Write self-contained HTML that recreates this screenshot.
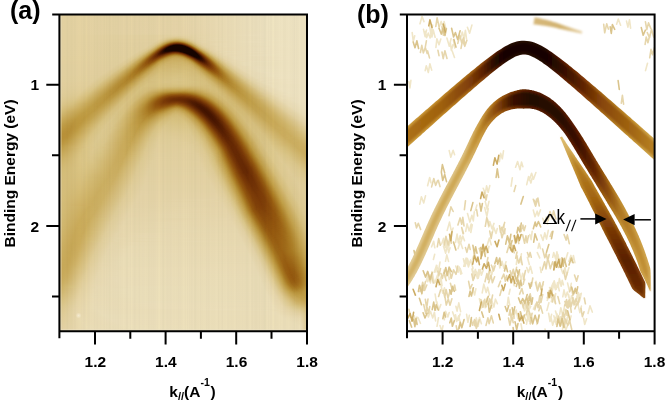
<!DOCTYPE html>
<html><head><meta charset="utf-8"><style>
html,body{margin:0;padding:0;background:#fff;}
#w{position:relative;width:666px;height:401px;overflow:hidden;}
#pa,#pb{position:absolute;left:0;top:0;}
#pa i,#pb i{position:absolute;display:block;height:1px;width:247px;}
#pa i{left:60px;}
#pb i{left:407.4px;}
svg{position:absolute;left:0;top:0;display:block;}
text{font-family:"Liberation Sans",Arial,sans-serif;font-weight:bold;fill:#000;}
</style></head><body><div id="w">
<div id="pa">
<i style="top:15px;background:linear-gradient(90deg,#e5d3a1 0.5px,#e6d5a6 117.5px,#efe4c0 208.5px,#f0e5c2 246.5px)"></i>
<i style="top:16px;background:linear-gradient(90deg,#e5d3a1 0.5px,#e6d5a6 117.5px,#efe4c0 208.5px,#f0e5c2 246.5px)"></i>
<i style="top:17px;background:linear-gradient(90deg,#e5d3a1 0.5px,#e6d5a6 117.5px,#efe4c0 208.5px,#f0e5c2 246.5px)"></i>
<i style="top:18px;background:linear-gradient(90deg,#e5d3a1 0.5px,#e7d5a7 118.5px,#efe4c0 208.5px,#f0e5c2 246.5px)"></i>
<i style="top:19px;background:linear-gradient(90deg,#e5d3a1 0.5px,#e7d5a7 118.5px,#efe4c0 207.5px,#f0e5c2 246.5px)"></i>
<i style="top:20px;background:linear-gradient(90deg,#e5d3a1 0.5px,#e7d5a6 118.5px,#efe4c0 207.5px,#f0e5c2 246.5px)"></i>
<i style="top:21px;background:linear-gradient(90deg,#e5d3a1 0.5px,#e6d5a6 118.5px,#efe4c0 207.5px,#f0e5c2 246.5px)"></i>
<i style="top:22px;background:linear-gradient(90deg,#e5d3a1 0.5px,#e7d5a7 119.5px,#efe4c0 207.5px,#f0e5c2 246.5px)"></i>
<i style="top:23px;background:linear-gradient(90deg,#e5d3a1 0.5px,#e7d5a7 119.5px,#efe4c0 207.5px,#f0e5c2 246.5px)"></i>
<i style="top:24px;background:linear-gradient(90deg,#e5d3a1 0.5px,#e7d5a6 119.5px,#efe4c0 207.5px,#f0e5c2 246.5px)"></i>
<i style="top:25px;background:linear-gradient(90deg,#e5d3a1 0.5px,#e7d5a7 120.5px,#efe4c0 206.5px,#f0e5c2 246.5px)"></i>
<i style="top:26px;background:linear-gradient(90deg,#e5d3a1 0.5px,#e7d5a7 120.5px,#efe4c0 206.5px,#f0e5c2 246.5px)"></i>
<i style="top:27px;background:linear-gradient(90deg,#e5d3a1 0.5px,#e7d5a7 121.5px,#efe4c0 206.5px,#f0e5c2 246.5px)"></i>
<i style="top:28px;background:linear-gradient(90deg,#e5d3a1 0.5px,#e7d5a7 121.5px,#efe4c0 206.5px,#f0e5c2 246.5px)"></i>
<i style="top:29px;background:linear-gradient(90deg,#e5d3a1 0.5px,#e7d5a7 122.5px,#efe4bf 205.5px,#f0e5c2 246.5px)"></i>
<i style="top:30px;background:linear-gradient(90deg,#e5d3a1 0.5px,#e7d5a7 122.5px,#efe4bf 205.5px,#f0e5c2 246.5px)"></i>
<i style="top:31px;background:linear-gradient(90deg,#e5d3a1 0.5px,#e7d5a7 123.5px,#efe3bf 204.5px,#f0e5c2 246.5px)"></i>
<i style="top:32px;background:linear-gradient(90deg,#e5d3a1 0.5px,#e7d5a7 124.5px,#efe3bf 203.5px,#f0e5c2 246.5px)"></i>
<i style="top:33px;background:linear-gradient(90deg,#e5d3a1 0.5px,#e7d5a7 125.5px,#efe3bf 202.5px,#f0e5c2 246.5px)"></i>
<i style="top:34px;background:linear-gradient(90deg,#e5d3a1 0.5px,#e6d5a5 123.5px,#efe3bf 199.5px,#f0e5c2 246.5px)"></i>
<i style="top:35px;background:linear-gradient(90deg,#e5d3a1 0.5px,#e5d3a1 110.5px,#e6d4a4 124.5px,#efe3be 194.5px,#f0e5c2 246.5px)"></i>
<i style="top:36px;background:linear-gradient(90deg,#e5d3a1 0.5px,#e5d3a1 105.5px,#e3d09b 118.5px,#e8d8ab 139.5px,#efe3bf 203.5px,#f0e5c2 246.5px)"></i>
<i style="top:37px;background:linear-gradient(90deg,#e5d3a1 0.5px,#e5d3a1 102.5px,#e0cc91 116.5px,#e4d29f 126.5px,#e8d8ab 140.5px,#efe3bf 203.5px,#f0e5c2 246.5px)"></i>
<i style="top:38px;background:linear-gradient(90deg,#e5d3a1 0.5px,#e5d3a1 100.5px,#e0cc92 108.5px,#dbc583 115.5px,#dcc787 120.5px,#e6d4a4 131.5px,#eadbb1 154.5px,#efe4c0 211.5px,#f0e5c2 246.5px)"></i>
<i style="top:39px;background:linear-gradient(90deg,#e5d3a1 0.5px,#e5d2a0 98.5px,#e1cd95 104.5px,#d4b96f 114.5px,#d3b96e 118.5px,#dbc584 124.5px,#e4d2a0 131.5px,#e8d8ab 140.5px,#efe3bf 201.5px,#f0e5c2 246.5px)"></i>
<i style="top:40px;background:linear-gradient(90deg,#e5d3a1 0.5px,#e5d3a0 96.5px,#e0cc93 102.5px,#d2b76c 109.5px,#caaa57 113.5px,#c7a651 117.5px,#ccae5d 121.5px,#e1cd94 130.5px,#e6d4a4 135.5px,#eadbb0 152.5px,#efe4c0 208.5px,#f0e5c2 246.5px)"></i>
<i style="top:41px;background:linear-gradient(90deg,#e5d3a1 0.5px,#e5d3a1 94.5px,#e1ce97 99.5px,#dbc482 103.5px,#bc963c 112.5px,#b4892f 115.5px,#b48a30 118.5px,#c19d44 122.5px,#dcc787 130.5px,#e3d19d 134.5px,#e7d7a9 140.5px,#efe3be 194.5px,#f0e5c2 246.5px)"></i>
<i style="top:42px;background:linear-gradient(90deg,#e5d3a1 0.5px,#e4d2a0 93.5px,#e0cd93 98.5px,#d7bf79 102.5px,#bc963c 108.5px,#a87720 111.5px,#995f12 114.5px,#95580f 117.5px,#9d6515 120.5px,#af8127 123.5px,#c3a048 126.5px,#dcc786 132.5px,#e4d19e 136.5px,#e8d7aa 142.5px,#efe3be 195.5px,#f0e5c2 246.5px)"></i>
<i style="top:43px;background:linear-gradient(90deg,#e5d3a1 0.5px,#e4d2a0 91.5px,#e1cd95 96.5px,#d8bf7a 100.5px,#bf9b41 105.5px,#ae8026 107.5px,#92550e 110.5px,#7b3a07 113.5px,#6f2f05 116.5px,#733306 119.5px,#87470a 122.5px,#995e11 124.5px,#ad7e24 126.5px,#bf9b41 128.5px,#d9c27e 133.5px,#e1ce96 136.5px,#e6d5a5 140.5px,#eadbb1 155.5px,#efe4c0 209.5px,#f0e5c2 246.5px)"></i>
<i style="top:44px;background:linear-gradient(90deg,#e5d3a1 0.5px,#e4d2a0 90.5px,#e1ce96 94.5px,#dbc684 97.5px,#d0b466 100.5px,#be993f 103.5px,#aa7921 105.5px,#93560e 107.5px,#6f2f05 110.5px,#481601 113.5px,#380e00 115.5px,#330c00 117.5px,#390e00 119.5px,#4c1801 121.5px,#753406 124.5px,#9a6113 127.5px,#b3872d 129.5px,#bd983e 130.5px,#d6bd76 134.5px,#e0cc92 137.5px,#e6d4a4 141.5px,#eadbb0 153.5px,#efe4c0 207.5px,#f0e5c2 246.5px)"></i>
<i style="top:45px;background:linear-gradient(90deg,#e5d3a1 0.5px,#e4d2a0 88.5px,#e0cd94 93.5px,#dac37f 96.5px,#c6a550 100.5px,#c09b41 101.5px,#aa7921 103.5px,#90520d 105.5px,#642603 108.5px,#3d0f00 110.5px,#1f0700 112.5px,#160400 113.5px,#160400 121.5px,#1c0600 122.5px,#3d0f00 124.5px,#672904 126.5px,#975c10 129.5px,#b2872d 131.5px,#be993f 132.5px,#d8bf7a 136.5px,#e1cd95 139.5px,#e6d5a5 143.5px,#eadbb1 156.5px,#efe4c0 209.5px,#f0e5c2 246.5px)"></i>
<i style="top:46px;background:linear-gradient(90deg,#e5d3a1 0.5px,#e4d2a0 86.5px,#e1ce96 91.5px,#dbc584 94.5px,#cfb162 97.5px,#c29f46 99.5px,#ad7e24 101.5px,#91540d 103.5px,#602403 106.5px,#340d00 108.5px,#210700 109.5px,#160400 110.5px,#180500 125.5px,#461501 127.5px,#612403 128.5px,#88480a 130.5px,#985d10 131.5px,#b58b31 133.5px,#c19d44 134.5px,#d9c27f 138.5px,#e2cf98 141.5px,#e7d6a8 146.5px,#ebddb4 164.5px,#f0e4c1 219.5px,#f0e5c2 246.5px)"></i>
<i style="top:47px;background:linear-gradient(90deg,#e5d3a1 0.5px,#e4d29f 85.5px,#e1cd94 90.5px,#dac380 93.5px,#ccad5c 96.5px,#bd973d 98.5px,#a4711c 100.5px,#965a0f 101.5px,#652703 104.5px,#360d00 106.5px,#220800 107.5px,#160400 108.5px,#160400 127.5px,#290900 128.5px,#441301 129.5px,#622503 130.5px,#8b4c0b 132.5px,#9c6314 133.5px,#ac7d23 134.5px,#b99238 135.5px,#c4a24b 136.5px,#d7bf78 139.5px,#e0cd94 142.5px,#e6d4a4 146.5px,#eadbb0 156.5px,#efe4bf 206.5px,#f0e5c2 246.5px)"></i>
<i style="top:48px;background:linear-gradient(90deg,#e5d3a1 0.5px,#e4d29f 83.5px,#e1cd95 88.5px,#dcc685 91.5px,#cfb263 94.5px,#c29f46 96.5px,#ab7c23 98.5px,#8f510d 100.5px,#6d2e05 102.5px,#401100 104.5px,#190500 106.5px,#160400 113.5px,#160400 129.5px,#2c0b00 130.5px,#4a1701 131.5px,#682a04 132.5px,#91540e 134.5px,#a36e1a 135.5px,#c09b41 137.5px,#d4ba71 140.5px,#dfca8e 143.5px,#e5d3a2 147.5px,#eadaaf 155.5px,#efe3bf 202.5px,#f0e5c2 246.5px)"></i>
<i style="top:49px;background:linear-gradient(90deg,#e5d3a1 0.5px,#e4d29f 81.5px,#e0cc92 87.5px,#dac380 90.5px,#cdaf5e 93.5px,#bf9a40 95.5px,#a6731d 97.5px,#975c10 98.5px,#662803 101.5px,#390e00 103.5px,#170400 105.5px,#160400 130.5px,#1b0500 131.5px,#370e00 132.5px,#733306 134.5px,#9a6113 136.5px,#ab7c22 137.5px,#b99137 138.5px,#c4a14a 139.5px,#d6bc74 142.5px,#dfcb90 145.5px,#e6d4a4 149.5px,#eadbb0 157.5px,#efe3bf 203.5px,#f0e5c2 246.5px)"></i>
<i style="top:50px;background:linear-gradient(90deg,#e5d3a1 0.5px,#e4d29f 79.5px,#e0cd94 85.5px,#d8c07b 89.5px,#cbab59 92.5px,#bb943a 94.5px,#a16c19 96.5px,#93560e 97.5px,#622503 100.5px,#380e00 102.5px,#1b0600 104.5px,#160400 105.5px,#160400 132.5px,#290a00 133.5px,#481601 134.5px,#682904 135.5px,#803e08 136.5px,#92550e 137.5px,#b2872d 139.5px,#bf9a40 140.5px,#d3b76c 143.5px,#dec98c 146.5px,#e5d3a2 150.5px,#eadaaf 157.5px,#efe3be 198.5px,#f0e5c2 246.5px)"></i>
<i style="top:51px;background:linear-gradient(90deg,#e5d3a1 0.5px,#e4d29f 77.5px,#e1cd95 83.5px,#d9c27f 87.5px,#ceb060 90.5px,#c29e45 92.5px,#ac7c23 94.5px,#8f520d 96.5px,#5f2303 99.5px,#3b0f00 101.5px,#240800 103.5px,#1b0500 105.5px,#210700 108.5px,#390e00 113.5px,#380e00 116.5px,#230800 119.5px,#180500 120.5px,#160400 133.5px,#1f0700 134.5px,#3c0f00 135.5px,#5d2202 136.5px,#773606 137.5px,#9b6314 139.5px,#ab7b22 140.5px,#c29f47 142.5px,#d9c17d 146.5px,#e1ce96 149.5px,#e7d6a9 154.5px,#ebdeb5 166.5px,#f0e4c1 218.5px,#f0e5c2 246.5px)"></i>
<i style="top:52px;background:linear-gradient(90deg,#e5d3a1 0.5px,#e4d29f 76.5px,#e0cc92 82.5px,#d8c07a 86.5px,#c5a44e 90.5px,#be9a40 91.5px,#a8771f 93.5px,#8d4f0c 95.5px,#703005 97.5px,#401200 100.5px,#300c00 102.5px,#2e0b00 104.5px,#3e1000 107.5px,#672803 112.5px,#6d2e05 115.5px,#632603 118.5px,#401100 121.5px,#210700 123.5px,#160400 124.5px,#160400 134.5px,#190500 135.5px,#340d00 136.5px,#6e2f05 138.5px,#94570e 140.5px,#b2862c 142.5px,#be993f 143.5px,#d2b76b 146.5px,#dec98b 149.5px,#e5d3a2 153.5px,#eadbb0 160.5px,#efe3be 197.5px,#f0e5c2 246.5px)"></i>
<i style="top:53px;background:linear-gradient(90deg,#e5d3a1 0.5px,#e4d29f 74.5px,#e0cd94 80.5px,#d9c27e 84.5px,#c9a955 88.5px,#bb943a 90.5px,#985e11 93.5px,#7f3d08 95.5px,#541d02 98.5px,#421200 100.5px,#3e1000 102.5px,#491601 104.5px,#763506 109.5px,#87470a 112.5px,#8d4f0c 115.5px,#87470a 118.5px,#713105 121.5px,#662803 122.5px,#300b00 125.5px,#1d0600 126.5px,#160400 127.5px,#160400 136.5px,#2e0b00 137.5px,#4a1701 138.5px,#672904 139.5px,#8e4f0c 141.5px,#ac7e24 143.5px,#c3a048 145.5px,#d9c17d 149.5px,#e1ce96 152.5px,#e7d7a9 157.5px,#ecdeb5 168.5px,#f0e4c1 219.5px,#f0e5c2 246.5px)"></i>
<i style="top:54px;background:linear-gradient(90deg,#e5d3a1 0.5px,#e4d29f 72.5px,#e1cd95 78.5px,#dac482 82.5px,#d1b467 85.5px,#c19d43 88.5px,#a26d1a 91.5px,#965a0f 92.5px,#723206 95.5px,#531c02 98.5px,#4e1901 100.5px,#571f02 102.5px,#834109 107.5px,#9b6214 111.5px,#a4711c 114.5px,#a36f1b 117.5px,#975b10 120.5px,#7e3d08 123.5px,#642603 125.5px,#3a0e00 127.5px,#160400 129.5px,#160400 137.5px,#451401 139.5px,#612403 140.5px,#89490b 142.5px,#995e11 143.5px,#b58a30 145.5px,#c09c42 146.5px,#d7bf79 150.5px,#e0cc93 153.5px,#e6d5a6 157.5px,#ebdcb3 165.5px,#efe4c0 207.5px,#f0e5c2 246.5px)"></i>
<i style="top:55px;background:linear-gradient(90deg,#e5d3a1 0.5px,#e4d29f 71.5px,#e0cd93 77.5px,#d9c27e 81.5px,#caab58 85.5px,#be993f 87.5px,#ab7c22 89.5px,#95590f 91.5px,#753406 94.5px,#5f2303 97.5px,#5e2303 99.5px,#713105 102.5px,#995e11 107.5px,#ab7b22 110.5px,#b48a30 113.5px,#b78d33 116.5px,#b1842a 119.5px,#a06b18 122.5px,#85450a 125.5px,#6a2b04 127.5px,#401100 129.5px,#1b0500 131.5px,#160400 133.5px,#180400 138.5px,#421300 140.5px,#733306 142.5px,#95580f 144.5px,#b1852b 146.5px,#bc973d 147.5px,#d1b568 150.5px,#ddc788 153.5px,#e5d3a1 157.5px,#eadbb1 164.5px,#efe3be 195.5px,#f0e5c2 246.5px)"></i>
<i style="top:56px;background:linear-gradient(90deg,#e5d3a0 0.5px,#e4d29f 69.5px,#e1cd95 75.5px,#dbc482 79.5px,#d1b669 82.5px,#c3a049 85.5px,#b3882e 87.5px,#9f6817 89.5px,#94580e 90.5px,#783707 93.5px,#6b2c04 95.5px,#692a04 97.5px,#773606 100.5px,#965a0f 104.5px,#b1852b 108.5px,#bf9b41 112.5px,#c29f47 116.5px,#bf9a40 119.5px,#b3882e 122.5px,#a6741e 124.5px,#94570e 126.5px,#7c3b07 128.5px,#5a2002 130.5px,#310c00 132.5px,#200700 133.5px,#160400 134.5px,#160400 138.5px,#1c0600 139.5px,#431301 141.5px,#703105 143.5px,#92550e 145.5px,#ae8026 147.5px,#c3a048 149.5px,#d8c07b 153.5px,#e1cd94 156.5px,#e7d7a9 161.5px,#ecdeb6 171.5px,#f0e4c1 219.5px,#f0e5c2 246.5px)"></i>
<i style="top:57px;background:linear-gradient(90deg,#e5d3a0 0.5px,#e4d29e 68.5px,#e0cc93 74.5px,#dac37f 78.5px,#ccad5c 82.5px,#c29e45 84.5px,#a8771f 87.5px,#94580e 89.5px,#7c3a07 92.5px,#723205 94.5px,#723206 96.5px,#834209 99.5px,#995f12 102.5px,#b58a30 106.5px,#c19e44 109.5px,#c8a753 114.5px,#c6a54f 119.5px,#c09d43 122.5px,#b1842a 125.5px,#96590f 128.5px,#7e3c08 130.5px,#5c2102 132.5px,#330c00 134.5px,#180500 136.5px,#180500 139.5px,#320c00 141.5px,#5c2102 143.5px,#814008 145.5px,#9e6616 147.5px,#ab7c22 148.5px,#c19d44 150.5px,#d7be78 154.5px,#e2cf98 158.5px,#e8d8ab 163.5px,#ecdfb7 174.5px,#f0e4c1 227.5px,#f0e5c2 246.5px)"></i>
<i style="top:58px;background:linear-gradient(90deg,#e5d3a0 0.5px,#e4d29e 66.5px,#e0cc91 73.5px,#d9c17c 77.5px,#c6a44e 82.5px,#b99036 84.5px,#9e6616 87.5px,#8d4e0c 89.5px,#803e08 91.5px,#783707 93.5px,#7b3a07 95.5px,#8c4d0c 98.5px,#9b6214 100.5px,#b78d33 104.5px,#c3a048 107.5px,#cbab59 112.5px,#ccad5b 118.5px,#c5a34d 123.5px,#bf9a40 125.5px,#aa7a21 128.5px,#965a0f 130.5px,#7d3b07 132.5px,#592002 134.5px,#330c00 136.5px,#270900 137.5px,#200700 138.5px,#1f0600 139.5px,#2b0a00 141.5px,#380e00 142.5px,#5e2303 144.5px,#8f510d 147.5px,#a97921 149.5px,#bf9b41 151.5px,#d6bd75 155.5px,#e1ce96 159.5px,#e8d7aa 164.5px,#ecdfb7 174.5px,#f0e4c1 223.5px,#f0e5c2 246.5px)"></i>
<i style="top:59px;background:linear-gradient(90deg,#e5d3a0 0.5px,#e4d29f 64.5px,#e0cc93 71.5px,#d8bf7a 76.5px,#c5a24c 81.5px,#b78e34 83.5px,#9e6716 86.5px,#965a0f 87.5px,#834209 90.5px,#7f3e08 93.5px,#8d4e0c 96.5px,#9c6314 98.5px,#b78f35 102.5px,#c4a24b 105.5px,#cdae5d 110.5px,#ceb161 118.5px,#caab58 123.5px,#c09b41 127.5px,#aa7a21 130.5px,#94570e 132.5px,#682904 135.5px,#421300 137.5px,#360d00 138.5px,#2e0b00 139.5px,#2d0b00 141.5px,#3f1100 143.5px,#723205 146.5px,#9b6214 149.5px,#b3882e 151.5px,#be983e 152.5px,#d5bb72 156.5px,#e1cd94 160.5px,#e8d7a9 165.5px,#ecdeb6 174.5px,#f0e4c1 219.5px,#f0e5c2 246.5px)"></i>
<i style="top:60px;background:linear-gradient(90deg,#e5d3a0 0.5px,#e4d29e 63.5px,#e0cc91 70.5px,#d7be77 75.5px,#c3a149 80.5px,#af8127 83.5px,#975c10 86.5px,#87470a 89.5px,#85440a 92.5px,#93560e 95.5px,#aa7a21 98.5px,#bd983e 101.5px,#c9a956 105.5px,#cfb264 111.5px,#cfb264 121.5px,#c9a956 126.5px,#c09b41 129.5px,#b1852b 131.5px,#9b6214 133.5px,#723205 136.5px,#441401 139.5px,#3b0f00 140.5px,#380e00 142.5px,#481601 144.5px,#743406 147.5px,#9b6213 150.5px,#b2872d 152.5px,#c4a24a 154.5px,#d8c07a 158.5px,#e2cf99 162.5px,#e9d9ae 168.5px,#ede0b9 181.5px,#f0e5c2 244.5px,#f0e5c2 246.5px)"></i>
<i style="top:61px;background:linear-gradient(90deg,#e5d2a0 0.5px,#e4d29e 61.5px,#e0cc93 68.5px,#d8c07b 73.5px,#c3a047 79.5px,#a7751e 83.5px,#93560e 86.5px,#89490b 89.5px,#8d4f0c 92.5px,#985d11 94.5px,#af8228 97.5px,#c19e45 100.5px,#cbac5a 104.5px,#d1b467 110.5px,#d1b467 122.5px,#ccad5b 127.5px,#c3a049 130.5px,#b68c32 132.5px,#a16b19 134.5px,#95580f 135.5px,#6d2e05 138.5px,#521c02 140.5px,#441401 142.5px,#491601 144.5px,#5e2203 146.5px,#844309 149.5px,#9b6214 151.5px,#bb953b 154.5px,#ceb161 157.5px,#ddc889 161.5px,#e5d3a1 165.5px,#ebdcb2 172.5px,#eee3bd 194.5px,#f0e5c2 246.5px)"></i>
<i style="top:62px;background:linear-gradient(90deg,#e5d2a0 0.5px,#e4d19e 60.5px,#e0cc92 67.5px,#d7bf79 72.5px,#c29f46 78.5px,#a7751f 82.5px,#95590f 85.5px,#8d4e0c 88.5px,#92550e 91.5px,#9d6515 93.5px,#ac7c23 95.5px,#c09c42 98.5px,#c9aa56 101.5px,#d1b568 107.5px,#d2b76c 121.5px,#cfb263 127.5px,#c9a955 130.5px,#c19d44 132.5px,#b0842a 134.5px,#9a6113 136.5px,#763606 139.5px,#571e02 142.5px,#501b02 144.5px,#5b2102 146.5px,#7b3907 149.5px,#9c6314 152.5px,#bb943a 155.5px,#c8a854 157.5px,#d9c37f 161.5px,#e3d09b 165.5px,#e9daaf 171.5px,#ede1ba 184.5px,#f0e5c2 246.5px)"></i>
<i style="top:63px;background:linear-gradient(90deg,#e5d2a0 0.5px,#e4d29e 58.5px,#e0cc93 65.5px,#d9c17d 70.5px,#c5a44e 76.5px,#b58a30 79.5px,#a26c19 82.5px,#94570e 85.5px,#91540d 88.5px,#975b10 90.5px,#af8228 94.5px,#c29e45 97.5px,#cbac5a 100.5px,#d1b569 105.5px,#d3b96e 119.5px,#d1b569 127.5px,#caab58 131.5px,#c3a048 133.5px,#b4892f 135.5px,#9f6918 137.5px,#94580e 138.5px,#743306 141.5px,#5e2203 144.5px,#5f2303 146.5px,#743406 149.5px,#92550e 152.5px,#a7751f 154.5px,#c29f46 157.5px,#d9c17d 162.5px,#e2cf99 166.5px,#e9daae 172.5px,#ede1ba 184.5px,#f0e5c2 246.5px)"></i>
<i style="top:64px;background:linear-gradient(90deg,#e4d2a0 0.5px,#e4d29e 56.5px,#e0cc92 64.5px,#d8c07b 69.5px,#c09d43 76.5px,#a87720 80.5px,#9a6012 83.5px,#94580e 86.5px,#9b6213 89.5px,#ac7d23 92.5px,#c3a049 96.5px,#ceb161 100.5px,#d3b86e 106.5px,#d4b96f 125.5px,#d0b365 130.5px,#c8a854 133.5px,#bf9a40 135.5px,#a4711c 138.5px,#8f520d 140.5px,#733306 143.5px,#682a04 145.5px,#682904 147.5px,#793807 150.5px,#94580e 153.5px,#b1852b 156.5px,#c29e45 158.5px,#d8c07b 163.5px,#e2cf98 167.5px,#e9d9ae 173.5px,#ede1ba 184.5px,#f0e5c2 243.5px,#f0e5c2 246.5px)"></i>
<i style="top:65px;background:linear-gradient(90deg,#e4d2a0 0.5px,#e4d19e 55.5px,#e0cc93 62.5px,#d9c27f 67.5px,#c8a753 73.5px,#ba9339 76.5px,#a97820 79.5px,#9c6314 82.5px,#975c10 85.5px,#9f6817 88.5px,#af8228 91.5px,#c19d43 94.5px,#cdaf5e 98.5px,#d2b76c 102.5px,#d5bb72 114.5px,#d4b96f 128.5px,#cfb263 132.5px,#c6a44e 135.5px,#ba9238 137.5px,#9f6817 140.5px,#95580f 141.5px,#7b3a07 144.5px,#6f2f05 147.5px,#773706 150.5px,#8e4f0c 153.5px,#965a0f 154.5px,#b2862c 157.5px,#c19e45 159.5px,#d8bf7a 164.5px,#e1ce97 168.5px,#e9d9ad 174.5px,#ede1ba 185.5px,#f0e5c2 243.5px,#f0e5c2 246.5px)"></i>
<i style="top:66px;background:linear-gradient(90deg,#e4d2a0 0.5px,#e4d29e 53.5px,#e0cc92 61.5px,#d6be77 67.5px,#bf9b41 74.5px,#aa7a21 78.5px,#9e6616 81.5px,#9a6113 84.5px,#a26d1a 87.5px,#ac7e24 89.5px,#c29f47 93.5px,#d0b365 98.5px,#d4ba71 103.5px,#d5bc74 125.5px,#d3b86d 131.5px,#caab58 135.5px,#bc973d 138.5px,#a36f1b 141.5px,#91540d 143.5px,#7c3b07 146.5px,#763606 149.5px,#834209 152.5px,#985e11 155.5px,#b2862c 158.5px,#c19e45 160.5px,#dac481 166.5px,#e4d29f 171.5px,#ebdcb2 178.5px,#eee2bd 195.5px,#f0e5c2 246.5px)"></i>
<i style="top:67px;background:linear-gradient(90deg,#e4d2a0 0.5px,#e4d19e 52.5px,#dfcb90 60.5px,#d6bc74 66.5px,#bf9a40 73.5px,#ab7b22 77.5px,#a06918 80.5px,#9d6616 83.5px,#a5721d 86.5px,#b48a30 89.5px,#c3a149 92.5px,#d0b467 97.5px,#d5bb73 103.5px,#d6bd75 127.5px,#d2b66b 133.5px,#c8a753 137.5px,#bf9a40 139.5px,#a7761f 142.5px,#965a0f 144.5px,#834209 147.5px,#7d3c08 150.5px,#87470a 153.5px,#9b6213 156.5px,#ab7b22 158.5px,#c19e45 161.5px,#dac37f 167.5px,#e4d19e 172.5px,#ebdcb2 179.5px,#eee2bd 195.5px,#f0e5c2 246.5px)"></i>
<i style="top:68px;background:linear-gradient(90deg,#e4d2a0 0.5px,#e4d19e 50.5px,#e0cc92 58.5px,#d7bf79 64.5px,#be993f 72.5px,#ab7c22 76.5px,#a26c1a 79.5px,#a06a18 82.5px,#a87720 85.5px,#bc963c 89.5px,#cdaf5f 94.5px,#d4ba71 99.5px,#d7be78 112.5px,#d6bd75 130.5px,#d1b568 135.5px,#c5a34d 139.5px,#ba9339 141.5px,#ab7c22 143.5px,#94570e 146.5px,#85440a 149.5px,#844309 152.5px,#90530d 155.5px,#9d6516 157.5px,#ac7d23 159.5px,#c19e45 162.5px,#d9c27e 168.5px,#e3d19d 173.5px,#eadcb2 180.5px,#eee2bd 195.5px,#f0e5c2 246.5px)"></i>
<i style="top:69px;background:linear-gradient(90deg,#e4d2a0 0.5px,#e4d19e 49.5px,#dfcb91 57.5px,#d6be77 63.5px,#be983e 71.5px,#ac7d23 75.5px,#a36f1b 78.5px,#a36e1a 81.5px,#ab7b22 84.5px,#c29f47 89.5px,#d0b365 94.5px,#d5bc74 99.5px,#d8bf7a 114.5px,#d6bd76 131.5px,#d2b66a 136.5px,#c6a550 140.5px,#b68c32 143.5px,#9f6918 146.5px,#92560e 148.5px,#88490b 151.5px,#8b4c0c 154.5px,#995f12 157.5px,#ad7f25 160.5px,#c19e45 163.5px,#dbc584 170.5px,#e4d2a0 175.5px,#ebddb3 182.5px,#efe3be 198.5px,#f0e5c2 246.5px)"></i>
<i style="top:70px;background:linear-gradient(90deg,#e4d2a0 0.5px,#e4d19e 47.5px,#e0cc92 55.5px,#d8c07a 61.5px,#bd983e 70.5px,#ad7e24 74.5px,#a4701c 78.5px,#a7751e 81.5px,#b1862c 84.5px,#c3a149 88.5px,#d2b76b 94.5px,#d7be77 100.5px,#d8c17c 124.5px,#d6bc74 134.5px,#d0b466 138.5px,#c4a14a 142.5px,#b2862c 145.5px,#9d6515 148.5px,#93560e 150.5px,#8d4e0c 153.5px,#93560e 156.5px,#a26d1a 159.5px,#b58b31 162.5px,#c6a44f 165.5px,#dbc583 171.5px,#e4d29f 176.5px,#ebdcb3 183.5px,#eee3bd 198.5px,#f0e5c2 246.5px)"></i>
<i style="top:71px;background:linear-gradient(90deg,#e4d2a0 0.5px,#e4d19d 46.5px,#e0cb91 54.5px,#d7bf78 60.5px,#bd973d 69.5px,#ab7b22 74.5px,#a6731d 77.5px,#a97820 80.5px,#b4892f 83.5px,#c5a34c 87.5px,#d3b86d 93.5px,#d7bf79 100.5px,#d9c17d 125.5px,#d6bd76 135.5px,#d1b568 139.5px,#c19d44 144.5px,#a8761f 148.5px,#975c10 151.5px,#91540d 154.5px,#965a0f 157.5px,#aa7a21 161.5px,#c29e45 165.5px,#dac481 172.5px,#e4d19e 177.5px,#ebdcb2 184.5px,#eee3bd 198.5px,#f0e5c2 246.5px)"></i>
<i style="top:72px;background:linear-gradient(90deg,#e4d2a0 0.5px,#e4d19e 44.5px,#e0cc92 52.5px,#d8c17c 58.5px,#bd973d 68.5px,#ac7c23 73.5px,#a8761f 76.5px,#ab7c22 79.5px,#ba9339 83.5px,#cbac5b 88.5px,#d4ba71 93.5px,#d8c17c 101.5px,#d9c27e 128.5px,#d6bc74 137.5px,#cfb264 141.5px,#bd983e 146.5px,#ab7c22 149.5px,#9b6314 152.5px,#95590f 155.5px,#9a6012 158.5px,#ac7d23 162.5px,#c6a44f 167.5px,#dcc787 174.5px,#e5d3a1 179.5px,#ecdeb5 187.5px,#efe3bf 204.5px,#f0e5c2 246.5px)"></i>
<i style="top:73px;background:linear-gradient(90deg,#e4d2a0 0.5px,#e4d19d 43.5px,#e0cc91 51.5px,#d6bc75 58.5px,#bc963c 67.5px,#ad7e24 72.5px,#aa7921 76.5px,#b08329 79.5px,#c6a550 85.5px,#d4b96f 91.5px,#d8c17c 98.5px,#dac481 122.5px,#d7bf79 136.5px,#d2b66b 141.5px,#c4a14a 146.5px,#a97820 151.5px,#9c6415 154.5px,#995f12 157.5px,#a06a18 160.5px,#ad7f25 163.5px,#c6a44f 168.5px,#dcc686 175.5px,#e6d4a4 181.5px,#ecdeb6 189.5px,#efe3bf 208.5px,#f0e5c2 246.5px)"></i>
<i style="top:74px;background:linear-gradient(90deg,#e4d2a0 0.5px,#e4d19e 41.5px,#dfcb90 50.5px,#d5bb73 57.5px,#bc963c 66.5px,#ad7f25 71.5px,#ab7c22 75.5px,#b58b31 79.5px,#c7a752 84.5px,#d4ba71 90.5px,#d9c17d 97.5px,#dbc482 121.5px,#d8c07a 137.5px,#d2b76c 142.5px,#c19e44 148.5px,#ac7d23 152.5px,#a06a18 155.5px,#9d6515 158.5px,#a36e1b 161.5px,#af8228 164.5px,#c6a44f 169.5px,#dec98b 177.5px,#e6d5a6 183.5px,#ecdfb7 191.5px,#efe4c0 212.5px,#f0e5c2 246.5px)"></i>
<i style="top:75px;background:linear-gradient(90deg,#e4d2a0 0.5px,#e3d19d 40.5px,#dfca8f 49.5px,#d4ba71 56.5px,#bc963c 65.5px,#ae8026 70.5px,#ad7e24 74.5px,#b78d33 78.5px,#c8a854 83.5px,#d5bb72 89.5px,#d9c27e 96.5px,#dbc584 120.5px,#d8c07b 138.5px,#d3b86d 143.5px,#c3a047 149.5px,#ab7b22 154.5px,#a16c19 157.5px,#a16b19 160.5px,#ac7e24 164.5px,#c6a54f 170.5px,#ddc88a 178.5px,#e6d5a5 184.5px,#ecdfb7 192.5px,#efe4c0 212.5px,#f0e5c2 246.5px)"></i>
<i style="top:76px;background:linear-gradient(90deg,#e4d29f 0.5px,#e4d19d 38.5px,#dfcb90 47.5px,#d6bd75 54.5px,#bc953b 64.5px,#af8127 69.5px,#ae8026 73.5px,#b89036 77.5px,#c9a955 82.5px,#d5bb73 88.5px,#dac37f 95.5px,#dcc685 119.5px,#d8c17c 139.5px,#d3b96f 144.5px,#c4a14a 150.5px,#ae7f25 155.5px,#a4711c 158.5px,#a4701b 161.5px,#ae8026 165.5px,#c6a54f 171.5px,#ddc788 179.5px,#e6d4a5 185.5px,#ecdfb7 193.5px,#efe4c0 212.5px,#f0e5c2 246.5px)"></i>
<i style="top:77px;background:linear-gradient(90deg,#e4d29f 0.5px,#e3d19d 37.5px,#dfcb8f 46.5px,#d5bc73 53.5px,#b89036 64.5px,#af8127 69.5px,#b1842a 73.5px,#c19d44 78.5px,#d4ba70 86.5px,#d9c27e 92.5px,#dcc686 113.5px,#dac380 137.5px,#d5bc74 144.5px,#c8a853 150.5px,#b99137 154.5px,#aa7921 158.5px,#a6731d 161.5px,#ad7e24 165.5px,#c6a54f 172.5px,#deca8d 181.5px,#e7d5a7 187.5px,#ede0b9 196.5px,#f0e4c1 222.5px,#f0e5c2 246.5px)"></i>
<i style="top:78px;background:linear-gradient(90deg,#e4d29f 0.5px,#e3d19c 36.5px,#dfca8e 45.5px,#d5bb72 52.5px,#b68c32 64.5px,#af8228 69.5px,#b48a30 73.5px,#cdae5e 81.5px,#d6bd75 86.5px,#dac481 94.5px,#dcc787 119.5px,#d9c27d 141.5px,#d4ba71 146.5px,#c3a048 153.5px,#af8228 158.5px,#a87720 162.5px,#ae8026 166.5px,#c6a54f 173.5px,#dec98c 182.5px,#e6d5a6 188.5px,#ecdfb7 196.5px,#efe4c0 216.5px,#f0e5c2 246.5px)"></i>
<i style="top:79px;background:linear-gradient(90deg,#e4d29f 0.5px,#e3d19d 34.5px,#dfcb90 43.5px,#d6bd75 50.5px,#b89036 62.5px,#b08329 67.5px,#b3882e 71.5px,#c8a854 78.5px,#d5bb72 84.5px,#dac481 91.5px,#ddc788 116.5px,#d9c27e 142.5px,#d3b86e 148.5px,#c19d44 155.5px,#af8127 160.5px,#ab7b22 164.5px,#b2872d 168.5px,#cfb263 177.5px,#dfcb90 184.5px,#e8d8ab 191.5px,#eee1bb 201.5px,#f0e5c2 242.5px,#f0e5c2 246.5px)"></i>
<i style="top:80px;background:linear-gradient(90deg,#e4d29f 0.5px,#e3d19c 33.5px,#dfca8e 42.5px,#d5bc73 49.5px,#b89036 61.5px,#b1852b 66.5px,#b48a30 70.5px,#ceb060 79.5px,#d6be77 84.5px,#dbc583 92.5px,#ddc889 119.5px,#d9c17d 144.5px,#d3b96f 149.5px,#bf9a40 157.5px,#af8127 162.5px,#ae8026 166.5px,#ba9238 171.5px,#ddc889 184.5px,#e7d6a8 191.5px,#ede0b9 200.5px,#f0e4c1 225.5px,#f0e5c2 246.5px)"></i>
<i style="top:81px;background:linear-gradient(90deg,#e4d29f 0.5px,#e3d09c 32.5px,#deca8d 41.5px,#d5bb72 48.5px,#b99036 60.5px,#b2862c 65.5px,#b58c32 69.5px,#d2b76c 80.5px,#d9c27e 86.5px,#ddc788 106.5px,#dbc684 133.5px,#d8c17c 146.5px,#d2b76b 151.5px,#bd973d 159.5px,#b1852b 163.5px,#b08228 167.5px,#ba9339 172.5px,#d6bd76 182.5px,#e3d19c 189.5px,#ebddb3 197.5px,#efe3be 210.5px,#f0e5c2 246.5px)"></i>
<i style="top:82px;background:linear-gradient(90deg,#e4d29e 0.5px,#e3d09b 31.5px,#dec98c 40.5px,#d2b76b 48.5px,#b99137 59.5px,#b2872d 64.5px,#b68d33 68.5px,#d3b86d 79.5px,#d9c27f 85.5px,#ddc788 106.5px,#dbc684 130.5px,#d9c27e 146.5px,#d3b76c 152.5px,#bb943a 161.5px,#b1852b 165.5px,#b2862c 169.5px,#c19d44 175.5px,#deca8d 187.5px,#e7d7a9 194.5px,#ede1ba 203.5px,#f0e4c1 229.5px,#f0e5c2 246.5px)"></i>
<i style="top:83px;background:linear-gradient(90deg,#e4d19e 0.5px,#e3d09b 29.5px,#dfca8e 38.5px,#d4b96f 46.5px,#bb943a 57.5px,#b3882e 62.5px,#b58b31 66.5px,#c5a44d 72.5px,#d6bd76 80.5px,#dbc582 87.5px,#dcc786 120.5px,#d9c27e 147.5px,#d3b86d 153.5px,#b99238 163.5px,#b2872d 167.5px,#b78e34 172.5px,#c9a955 179.5px,#dec98c 188.5px,#e7d6a8 195.5px,#ede0b9 204.5px,#f0e4c1 228.5px,#f0e5c2 246.5px)"></i>
<i style="top:84px;background:linear-gradient(90deg,#e4d19e 0.5px,#e3d09b 28.5px,#dec98d 37.5px,#d3b86e 45.5px,#bb943a 56.5px,#b4892f 61.5px,#b68d33 65.5px,#c6a44f 71.5px,#d6bd76 79.5px,#dbc582 86.5px,#dbc584 120.5px,#d9c27e 148.5px,#d3b86e 154.5px,#b89036 165.5px,#b3892f 169.5px,#ba9238 174.5px,#ceb060 182.5px,#dfcb90 190.5px,#e9d9ad 198.5px,#eee2bc 208.5px,#f0e5c2 246.5px)"></i>
<i style="top:85px;background:linear-gradient(90deg,#e4d19e 0.5px,#e3d09a 27.5px,#dec98c 36.5px,#d3b86d 44.5px,#bb943a 55.5px,#b48a30 60.5px,#b78e34 64.5px,#c9a955 71.5px,#d7be77 78.5px,#dbc582 85.5px,#d9c37f 121.5px,#d9c27e 139.5px,#d8c17c 150.5px,#d2b66a 156.5px,#ba9238 166.5px,#b58b31 170.5px,#bb943a 175.5px,#ceb060 183.5px,#e0cd94 192.5px,#e9daaf 200.5px,#eee2bd 211.5px,#f0e5c2 246.5px)"></i>
<i style="top:86px;background:linear-gradient(90deg,#e4d19d 0.5px,#e2cf9a 26.5px,#ddc88b 35.5px,#d2b76b 43.5px,#bb943a 54.5px,#b58b31 59.5px,#b88f35 63.5px,#ccad5c 71.5px,#d7be78 77.5px,#dbc582 84.5px,#d8c17c 112.5px,#d7be78 133.5px,#d9c27e 149.5px,#d5bb73 155.5px,#b99137 168.5px,#b68d33 172.5px,#be983e 177.5px,#d0b366 185.5px,#e0cc93 193.5px,#e9daae 201.5px,#eee2bd 212.5px,#f0e5c2 246.5px)"></i>
<i style="top:87px;background:linear-gradient(90deg,#e3d19d 0.5px,#e2cf99 25.5px,#ddc889 34.5px,#d2b66a 42.5px,#bb943a 53.5px,#b58b31 58.5px,#bb943a 63.5px,#d6bc75 75.5px,#dac481 81.5px,#d9c17d 93.5px,#d5bc73 109.5px,#d4ba71 120.5px,#d4ba70 132.5px,#d9c27e 149.5px,#d6bd76 155.5px,#cbab59 162.5px,#ba9339 169.5px,#b78e34 173.5px,#be993f 178.5px,#d0b365 186.5px,#e0cc92 194.5px,#e9d9ad 202.5px,#eee2bd 213.5px,#f0e5c2 246.5px)"></i>
<i style="top:88px;background:linear-gradient(90deg,#e3d19d 0.5px,#e2cf98 24.5px,#ddc788 33.5px,#d1b569 41.5px,#bb953b 52.5px,#b68c32 57.5px,#bc953b 62.5px,#d6bd75 74.5px,#dac481 80.5px,#d8c07b 91.5px,#d1b669 108.5px,#d0b466 119.5px,#d0b365 129.5px,#d9c17d 150.5px,#d6be77 156.5px,#cbac5a 163.5px,#bc953b 170.5px,#b89036 174.5px,#c19d44 180.5px,#d2b66b 188.5px,#e2cf99 197.5px,#ebddb3 206.5px,#efe3bf 219.5px,#f0e5c2 246.5px)"></i>
<i style="top:89px;background:linear-gradient(90deg,#e3d19c 0.5px,#e2ce98 23.5px,#dcc787 32.5px,#cfb263 41.5px,#bb953b 51.5px,#b68d33 56.5px,#bc963c 61.5px,#d6bd76 73.5px,#dac481 79.5px,#d8c07a 89.5px,#cdaf5e 106.5px,#caab58 127.5px,#d1b568 138.5px,#d8c07b 150.5px,#d7bf79 156.5px,#d0b365 162.5px,#bd973d 171.5px,#b99238 175.5px,#c19e45 181.5px,#d2b66a 189.5px,#e2cf99 198.5px,#ebdcb3 207.5px,#efe3bf 219.5px,#f0e5c2 246.5px)"></i>
<i style="top:90px;background:linear-gradient(90deg,#e3d09c 0.5px,#e1ce97 22.5px,#dcc686 31.5px,#cfb162 40.5px,#bc953b 50.5px,#b78e34 56.5px,#c09c42 61.5px,#d6bd76 72.5px,#dac481 78.5px,#d7bf79 87.5px,#c8a752 106.5px,#c4a14a 125.5px,#caaa58 135.5px,#d7bf79 150.5px,#d7bf79 157.5px,#d0b366 163.5px,#be993f 172.5px,#bb943a 177.5px,#c3a149 183.5px,#d4b96f 191.5px,#e3d09c 200.5px,#ebddb4 209.5px,#efe3bf 222.5px,#f0e5c2 246.5px)"></i>
<i style="top:91px;background:linear-gradient(90deg,#e3d09b 0.5px,#e1ce96 21.5px,#dbc685 30.5px,#cbab59 41.5px,#ba9339 50.5px,#b88f35 55.5px,#c09c43 60.5px,#d6be77 71.5px,#dac481 77.5px,#d7bf79 85.5px,#c19e45 106.5px,#ba9339 124.5px,#c29f47 133.5px,#d6bd76 150.5px,#d8bf7a 157.5px,#d2b66b 163.5px,#bf9a40 173.5px,#bc953b 178.5px,#c3a149 184.5px,#d3b96f 192.5px,#e3d09b 201.5px,#ebddb4 210.5px,#efe3bf 223.5px,#f0e5c2 246.5px)"></i>
<i style="top:92px;background:linear-gradient(90deg,#e3d09b 0.5px,#e1cd95 20.5px,#dbc583 29.5px,#be993f 47.5px,#b89036 53.5px,#bf9a40 58.5px,#d7be77 70.5px,#dac481 76.5px,#d7be78 84.5px,#bd973d 103.5px,#b2872d 111.5px,#ae8127 124.5px,#b88f35 132.5px,#cfb162 145.5px,#d7be77 153.5px,#d7bf78 159.5px,#d1b467 165.5px,#c09c42 174.5px,#bd973d 179.5px,#c5a44e 186.5px,#d7bf79 195.5px,#e5d3a1 204.5px,#ecdfb6 213.5px,#efe4c0 228.5px,#f0e5c2 246.5px)"></i>
<i style="top:93px;background:linear-gradient(90deg,#e3d09a 0.5px,#e0cd94 19.5px,#dbc482 28.5px,#be993f 46.5px,#b99137 52.5px,#bf9b41 57.5px,#d7be78 69.5px,#dac481 75.5px,#d7bf79 82.5px,#c7a651 94.5px,#b58b31 102.5px,#a97921 108.5px,#a16b19 120.5px,#a4701c 127.5px,#af8228 133.5px,#c5a44d 142.5px,#d4ba71 152.5px,#d7bf79 158.5px,#d4b96f 164.5px,#c19d44 175.5px,#bd983e 180.5px,#c6a44e 187.5px,#d5bb73 195.5px,#e4d2a0 205.5px,#ecdeb6 214.5px,#efe4c0 229.5px,#f0e5c2 246.5px)"></i>
<i style="top:94px;background:linear-gradient(90deg,#e2cf9a 0.5px,#e0cc93 18.5px,#dac481 27.5px,#be993f 45.5px,#ba9238 51.5px,#c09c42 56.5px,#d7be78 68.5px,#dac481 74.5px,#d7be78 81.5px,#c7a550 92.5px,#b88f35 98.5px,#a6741e 104.5px,#995e11 111.5px,#93560e 122.5px,#985e11 128.5px,#a97921 135.5px,#c29f47 143.5px,#d4b96f 153.5px,#d7bf79 159.5px,#d4b970 165.5px,#c09c43 177.5px,#bf9a40 182.5px,#c7a752 189.5px,#e1cd94 203.5px,#eadbb0 212.5px,#efe3be 224.5px,#f0e5c2 246.5px)"></i>
<i style="top:95px;background:linear-gradient(90deg,#e2cf99 0.5px,#e0cc92 17.5px,#dac37f 26.5px,#c09c42 43.5px,#ba9339 49.5px,#bf9a40 54.5px,#d7bf78 67.5px,#dac481 73.5px,#d6be77 80.5px,#c5a34c 91.5px,#b68d33 96.5px,#a5721d 101.5px,#93570e 107.5px,#89490b 115.5px,#87470a 124.5px,#92540e 131.5px,#a16b19 136.5px,#b08329 140.5px,#c29f46 145.5px,#d3b86d 154.5px,#d7be78 160.5px,#d5bb73 165.5px,#c19d44 178.5px,#bf9b41 183.5px,#c8a752 190.5px,#e2ce97 205.5px,#ebddb3 215.5px,#efe3bf 228.5px,#f0e5c2 246.5px)"></i>
<i style="top:96px;background:linear-gradient(90deg,#e2cf98 0.5px,#dfcb90 16.5px,#d8c07b 26.5px,#c09c42 42.5px,#bb943a 48.5px,#c09b41 53.5px,#d7bf79 66.5px,#dac481 72.5px,#d6bd76 79.5px,#c5a44e 89.5px,#b68d33 94.5px,#a4701b 99.5px,#92540e 104.5px,#814008 111.5px,#7a3907 123.5px,#834209 130.5px,#95590f 136.5px,#ae8127 142.5px,#c29f46 147.5px,#d3b96e 156.5px,#d7be78 162.5px,#d3b86d 168.5px,#c29e45 179.5px,#c09c42 184.5px,#c8a753 191.5px,#e1ce96 206.5px,#ebdcb3 216.5px,#efe3bf 229.5px,#f0e5c2 246.5px)"></i>
<i style="top:97px;background:linear-gradient(90deg,#e1ce97 0.5px,#dfca8e 16.5px,#d6bd76 26.5px,#c19e45 40.5px,#bb943a 47.5px,#c09c42 52.5px,#d7bf79 65.5px,#dac481 71.5px,#d6bd76 78.5px,#c4a24b 88.5px,#b4892f 93.5px,#a06918 98.5px,#90520d 102.5px,#7b3a07 109.5px,#703005 119.5px,#733306 128.5px,#834109 134.5px,#9b6113 140.5px,#b2872d 145.5px,#c29f47 149.5px,#d3b86d 157.5px,#d7be77 163.5px,#d3b86e 169.5px,#c29f47 180.5px,#c19d43 185.5px,#c8a753 192.5px,#dac37f 202.5px,#e6d4a3 211.5px,#ede0b8 221.5px,#f0e4c2 240.5px,#f0e5c2 246.5px)"></i>
<i style="top:98px;background:linear-gradient(90deg,#e1ce96 0.5px,#dec98d 15.5px,#d6bd75 25.5px,#c19e45 39.5px,#bc953b 46.5px,#c19d44 51.5px,#d8bf7a 64.5px,#dac481 70.5px,#d6bd75 77.5px,#c3a149 87.5px,#ae8026 93.5px,#95580f 99.5px,#7c3a07 106.5px,#6e2e05 113.5px,#682904 127.5px,#723206 133.5px,#86460a 138.5px,#9a6012 142.5px,#b3882e 147.5px,#c3a149 151.5px,#d3b96f 159.5px,#d7be77 164.5px,#d3b96e 170.5px,#c3a048 181.5px,#c19e44 186.5px,#c8a753 193.5px,#d8c07a 202.5px,#e5d4a3 212.5px,#ede0b8 222.5px,#f0e4c1 240.5px,#f0e5c2 246.5px)"></i>
<i style="top:99px;background:linear-gradient(90deg,#e1cd95 0.5px,#dec98b 14.5px,#d5bc74 24.5px,#c19e45 38.5px,#bc963c 45.5px,#c19e45 50.5px,#d8c07a 63.5px,#dbc482 69.5px,#d7bf78 75.5px,#c8a753 84.5px,#bd973d 88.5px,#a4711c 94.5px,#93560e 98.5px,#7a3907 105.5px,#6c2d04 112.5px,#602403 129.5px,#6d2e05 135.5px,#85440a 140.5px,#9a6012 144.5px,#b08329 148.5px,#c29e46 152.5px,#d2b66a 159.5px,#d6bd76 164.5px,#d5bc74 169.5px,#c29f47 183.5px,#c3a047 189.5px,#cdae5e 197.5px,#e2cf98 210.5px,#ebddb3 220.5px,#efe3bf 233.5px,#f0e5c2 246.5px)"></i>
<i style="top:100px;background:linear-gradient(90deg,#e0cd94 0.5px,#ddc788 14.5px,#d4b96f 24.5px,#c19e45 37.5px,#bd973d 44.5px,#c29e46 49.5px,#d8c07b 62.5px,#dbc482 68.5px,#d7bf79 74.5px,#c8a752 83.5px,#bc963c 87.5px,#a8771f 92.5px,#93560e 97.5px,#7a3907 104.5px,#6e2f05 111.5px,#682904 121.5px,#591f02 130.5px,#5f2303 134.5px,#793807 140.5px,#95590f 145.5px,#b2862c 150.5px,#c3a149 154.5px,#d3b76c 161.5px,#d6be77 166.5px,#d5bb72 171.5px,#c3a048 184.5px,#c3a048 190.5px,#cdae5e 198.5px,#e1ce97 211.5px,#ebdcb3 221.5px,#efe3bf 234.5px,#f0e5c2 246.5px)"></i>
<i style="top:101px;background:linear-gradient(90deg,#e0cc92 0.5px,#dcc786 13.5px,#d3b86d 23.5px,#c19e45 36.5px,#bd983e 43.5px,#c4a14a 49.5px,#d8c07b 61.5px,#dbc583 67.5px,#d7bf79 73.5px,#c8a752 82.5px,#bc963c 86.5px,#a87720 91.5px,#93560e 96.5px,#7c3b07 103.5px,#733306 109.5px,#733306 118.5px,#531c02 131.5px,#581f02 135.5px,#6e2e05 140.5px,#8b4c0c 145.5px,#9e6616 148.5px,#b58a30 152.5px,#c29f47 155.5px,#d2b76c 162.5px,#d6bd76 167.5px,#d5bb72 172.5px,#c3a149 185.5px,#c3a149 191.5px,#cdae5e 199.5px,#e1ce96 212.5px,#eadcb2 222.5px,#efe3bf 235.5px,#f0e5c2 246.5px)"></i>
<i style="top:102px;background:linear-gradient(90deg,#dfcb91 0.5px,#dbc583 13.5px,#d1b569 23.5px,#c19e45 35.5px,#be983e 42.5px,#c4a24b 48.5px,#d8c17c 60.5px,#dbc583 66.5px,#d7bf79 72.5px,#c8a753 81.5px,#bd973d 85.5px,#a5711c 91.5px,#91540d 96.5px,#7d3c08 103.5px,#793807 109.5px,#7f3d08 117.5px,#682a04 125.5px,#501a01 132.5px,#511b02 136.5px,#692a04 141.5px,#88480a 146.5px,#9a6113 149.5px,#b3872d 153.5px,#c19e45 156.5px,#d2b66b 163.5px,#d6bd76 168.5px,#d5bb72 173.5px,#c4a24b 186.5px,#c4a14a 192.5px,#cdaf5e 200.5px,#e2cf99 214.5px,#ebddb3 224.5px,#efe4bf 237.5px,#f0e4c1 246.5px)"></i>
<i style="top:103px;background:linear-gradient(90deg,#dfca8f 0.5px,#dac380 13.5px,#cbac5a 26.5px,#c09b41 36.5px,#bf9a40 42.5px,#c6a54f 48.5px,#d8c17c 59.5px,#dbc584 65.5px,#d8c07a 71.5px,#caab58 79.5px,#bd983e 84.5px,#a6731e 90.5px,#93560e 95.5px,#824009 102.5px,#813f08 108.5px,#8a4b0b 116.5px,#7d3c08 122.5px,#511b02 132.5px,#4b1801 136.5px,#581f02 140.5px,#773606 145.5px,#985d11 150.5px,#b1852b 154.5px,#c4a14a 158.5px,#d3b86e 165.5px,#d6be77 170.5px,#d3b86e 176.5px,#c4a24c 187.5px,#c4a24a 193.5px,#cdaf5e 201.5px,#e2cf98 215.5px,#ebddb4 226.5px,#efe4c0 240.5px,#f0e4c1 246.5px)"></i>
<i style="top:104px;background:linear-gradient(90deg,#deca8d 0.5px,#d9c27e 12.5px,#c19e45 33.5px,#be9a40 40.5px,#c5a34d 46.5px,#d9c17d 58.5px,#dbc584 64.5px,#d8c07b 70.5px,#cbab59 78.5px,#ba9339 84.5px,#a8761f 89.5px,#93560e 95.5px,#86460a 101.5px,#87470a 107.5px,#965a0f 116.5px,#8c4d0c 121.5px,#703005 127.5px,#501b02 133.5px,#481601 137.5px,#531c02 141.5px,#733306 146.5px,#96590f 151.5px,#b08329 155.5px,#c3a049 159.5px,#d2b66a 165.5px,#d6bd76 170.5px,#d5bc73 175.5px,#c5a34d 188.5px,#c4a24b 194.5px,#cdaf5e 202.5px,#e2ce98 216.5px,#ebddb4 227.5px,#efe4c0 241.5px,#f0e4c1 246.5px)"></i>
<i style="top:105px;background:linear-gradient(90deg,#ddc98b 0.5px,#d8c07a 12.5px,#c19e45 32.5px,#bf9a40 39.5px,#c5a44d 45.5px,#d9c17d 57.5px,#dcc685 63.5px,#d8c07b 69.5px,#cbac5a 77.5px,#bb953b 83.5px,#a6741e 89.5px,#94570e 95.5px,#8b4b0b 101.5px,#8f520d 107.5px,#a26c1a 115.5px,#a06918 118.5px,#86450a 125.5px,#5c2102 132.5px,#491701 136.5px,#481601 140.5px,#5c2102 144.5px,#803e08 149.5px,#9b6113 153.5px,#b48a30 157.5px,#c3a048 160.5px,#d2b669 166.5px,#d6bd76 171.5px,#d5bb72 177.5px,#c5a44e 189.5px,#c5a34c 195.5px,#cdaf5e 203.5px,#e3d09a 218.5px,#ecdeb5 229.5px,#efe4c0 244.5px,#f0e4c1 246.5px)"></i>
<i style="top:106px;background:linear-gradient(90deg,#ddc788 0.5px,#d6bd76 12.5px,#c29f46 30.5px,#bf9a40 37.5px,#c4a24b 43.5px,#d9c27e 56.5px,#dcc685 62.5px,#d9c17c 68.5px,#ccad5b 76.5px,#bd973d 82.5px,#a87720 88.5px,#95590f 95.5px,#90520d 101.5px,#965b0f 106.5px,#ae7f25 115.5px,#ac7d23 118.5px,#9a6113 123.5px,#723206 130.5px,#4c1801 136.5px,#451401 139.5px,#491601 142.5px,#602403 146.5px,#854409 151.5px,#995f12 154.5px,#b3882e 158.5px,#c29f47 161.5px,#d1b669 167.5px,#d6bd76 172.5px,#d5bb72 178.5px,#c6a44f 190.5px,#c5a34d 196.5px,#cdaf5e 204.5px,#e2cf9a 219.5px,#ebdeb5 230.5px,#efe4c0 244.5px,#efe4c0 246.5px)"></i>
<i style="top:107px;background:linear-gradient(90deg,#dcc686 0.5px,#d5bb72 12.5px,#c29f46 29.5px,#bf9b41 37.5px,#c6a54f 43.5px,#d9c27e 55.5px,#dcc686 61.5px,#d9c27d 67.5px,#cdae5d 75.5px,#bb943a 82.5px,#a8761f 88.5px,#975c10 95.5px,#95590f 100.5px,#9d6515 105.5px,#b2862c 112.5px,#b99036 116.5px,#b1852b 120.5px,#a06b18 124.5px,#90520d 127.5px,#682904 133.5px,#4d1901 137.5px,#441401 140.5px,#471501 143.5px,#561e02 146.5px,#7c3a07 151.5px,#985d11 155.5px,#b3872d 159.5px,#c29f46 162.5px,#d1b669 168.5px,#d6be77 173.5px,#d6bc75 178.5px,#c6a44e 192.5px,#c6a44e 198.5px,#ceb161 206.5px,#e3d19c 221.5px,#ecdeb6 232.5px,#efe4c0 246.5px)"></i>
<i style="top:108px;background:linear-gradient(90deg,#dbc583 0.5px,#d3b86d 12.5px,#c29e45 28.5px,#c09c42 36.5px,#c6a54f 42.5px,#d9c27e 54.5px,#dcc786 60.5px,#d9c27e 66.5px,#cfb263 73.5px,#bc963c 81.5px,#a8761f 88.5px,#9b6214 94.5px,#9a6113 99.5px,#a36f1b 104.5px,#b2872d 109.5px,#c09c42 114.5px,#c19d44 117.5px,#b88f35 121.5px,#a6731d 125.5px,#8d4f0c 129.5px,#6a2b04 134.5px,#4e1901 138.5px,#431301 141.5px,#461501 144.5px,#541d02 147.5px,#7b3907 152.5px,#975c10 156.5px,#b2872d 160.5px,#c29f46 163.5px,#d1b669 169.5px,#d7be77 174.5px,#d6bd75 179.5px,#c6a54f 193.5px,#c6a54f 199.5px,#cfb161 207.5px,#e3d09b 222.5px,#ecdeb5 233.5px,#efe4c0 246.5px)"></i>
<i style="top:109px;background:linear-gradient(90deg,#dac380 0.5px,#d1b569 12.5px,#c19e45 27.5px,#c09c42 35.5px,#c8a854 42.5px,#d9c27f 53.5px,#dcc787 59.5px,#dac37f 65.5px,#d0b365 72.5px,#bb943a 81.5px,#a8771f 88.5px,#9e6716 94.5px,#a16b19 99.5px,#af8228 105.5px,#c3a047 112.5px,#c7a651 116.5px,#c29f47 120.5px,#b58a30 124.5px,#9e6716 128.5px,#8a4b0b 131.5px,#652703 136.5px,#491701 140.5px,#421300 143.5px,#481601 146.5px,#5b2102 149.5px,#824009 154.5px,#975c10 157.5px,#b2872d 161.5px,#c29f46 164.5px,#d2b66a 170.5px,#d7be78 175.5px,#d5bc74 181.5px,#c7a651 193.5px,#c6a44f 199.5px,#cfb161 208.5px,#e3d09b 223.5px,#ebdeb5 234.5px,#efe3bf 246.5px)"></i>
<i style="top:110px;background:linear-gradient(90deg,#d9c27d 0.5px,#d0b364 12.5px,#c19e45 26.5px,#c09c42 34.5px,#c9a854 41.5px,#dac37f 52.5px,#ddc788 58.5px,#dac380 64.5px,#d1b467 71.5px,#ba9238 81.5px,#a97820 88.5px,#a26d1a 93.5px,#a6731d 98.5px,#b1852b 103.5px,#c4a24b 110.5px,#cbac5a 115.5px,#c9a956 119.5px,#bd973d 124.5px,#a87720 128.5px,#94570e 131.5px,#6e2f05 136.5px,#4a1701 141.5px,#421200 144.5px,#481601 147.5px,#5a2002 150.5px,#814008 155.5px,#975b10 158.5px,#b2872d 162.5px,#c29f46 165.5px,#d2b66a 171.5px,#d7be78 176.5px,#d6bc74 182.5px,#c7a651 195.5px,#c7a550 201.5px,#cfb161 209.5px,#e4d19d 225.5px,#ecdeb6 236.5px,#efe3bf 246.5px)"></i>
<i style="top:111px;background:linear-gradient(90deg,#d8c07a 0.5px,#ccad5b 14.5px,#c09d43 26.5px,#c09c42 33.5px,#c9a855 40.5px,#dac37f 51.5px,#ddc788 57.5px,#dac37f 64.5px,#ceaf5f 72.5px,#b78d33 82.5px,#aa7a21 88.5px,#a6731d 93.5px,#ae8026 99.5px,#c5a34d 108.5px,#cfb263 115.5px,#cdaf5f 119.5px,#c3a149 124.5px,#b78d33 127.5px,#9e6616 131.5px,#8f510d 133.5px,#682904 138.5px,#4a1701 142.5px,#421300 145.5px,#471601 148.5px,#592002 151.5px,#814008 156.5px,#975b10 159.5px,#b2872d 163.5px,#c29f47 166.5px,#d2b66b 172.5px,#d7bf79 177.5px,#d6bd75 183.5px,#c7a651 196.5px,#c7a651 202.5px,#cfb162 210.5px,#e3d19d 226.5px,#ecdeb5 237.5px,#efe3be 246.5px)"></i>
<i style="top:112px;background:linear-gradient(90deg,#d6be77 0.5px,#c19e45 23.5px,#c09c42 31.5px,#c7a652 38.5px,#dac380 50.5px,#ddc889 56.5px,#dac380 63.5px,#ceb161 71.5px,#b68d33 82.5px,#aa7a21 89.5px,#ab7b22 94.5px,#ba9238 101.5px,#cbac5a 109.5px,#d2b66a 115.5px,#d0b467 119.5px,#c5a34d 125.5px,#b99137 128.5px,#a06a18 132.5px,#8a4a0b 135.5px,#612403 140.5px,#4b1701 143.5px,#421300 146.5px,#471601 149.5px,#5a2002 152.5px,#824009 157.5px,#975c10 160.5px,#b3882e 164.5px,#c29f47 167.5px,#d2b76b 173.5px,#d7bf79 178.5px,#d6bd75 184.5px,#c8a752 197.5px,#c8a753 204.5px,#d0b365 212.5px,#e3d09c 227.5px,#ecdfb6 239.5px,#eee3bd 246.5px)"></i>
<i style="top:113px;background:linear-gradient(90deg,#d5bc73 0.5px,#c19d44 22.5px,#c09c42 30.5px,#c7a752 37.5px,#dac380 49.5px,#ddc88a 56.5px,#d9c37f 63.5px,#c5a44d 75.5px,#b1842a 85.5px,#ac7d23 90.5px,#b4892f 96.5px,#c6a54f 104.5px,#d3b86e 113.5px,#d4b96f 118.5px,#ceb060 123.5px,#c09c43 128.5px,#a97820 132.5px,#93560e 135.5px,#6a2b04 140.5px,#4b1801 144.5px,#431301 147.5px,#481601 150.5px,#5a2002 153.5px,#824109 158.5px,#985d11 161.5px,#b3882e 165.5px,#c3a048 168.5px,#d3b76c 174.5px,#d8bf7a 179.5px,#d6bd76 185.5px,#c8a753 198.5px,#c8a753 205.5px,#d0b365 213.5px,#e4d29e 229.5px,#ecdfb7 241.5px,#eee2bc 246.5px)"></i>
<i style="top:114px;background:linear-gradient(90deg,#d4b970 0.5px,#c19e45 20.5px,#bf9b41 28.5px,#c6a54f 35.5px,#dac380 48.5px,#ddc88a 55.5px,#dac380 62.5px,#caab58 72.5px,#b58a30 83.5px,#af8127 89.5px,#b78e34 95.5px,#c8a854 103.5px,#d4ba71 112.5px,#d6bd75 117.5px,#d1b467 123.5px,#c5a34c 128.5px,#b78f35 131.5px,#a36f1b 134.5px,#94580e 136.5px,#6b2c04 141.5px,#4c1801 145.5px,#431301 148.5px,#481601 151.5px,#5b2102 154.5px,#834109 159.5px,#985e11 162.5px,#b48a30 166.5px,#c3a149 169.5px,#d3b86d 175.5px,#d8c07a 180.5px,#d6bd76 186.5px,#c8a854 199.5px,#c8a854 206.5px,#d0b365 214.5px,#e4d19e 230.5px,#ecdfb7 242.5px,#eee2bb 246.5px)"></i>
<i style="top:115px;background:linear-gradient(90deg,#d2b76c 0.5px,#c19d44 19.5px,#bf9b41 27.5px,#c6a54f 34.5px,#dac380 47.5px,#dec98b 54.5px,#dac481 61.5px,#cfb263 69.5px,#ba9339 80.5px,#b1852b 87.5px,#b58b31 92.5px,#ccad5b 103.5px,#d6bc74 111.5px,#d7bf79 117.5px,#d3b86d 123.5px,#c6a44f 129.5px,#b99137 132.5px,#a5711c 135.5px,#95590f 137.5px,#743406 141.5px,#521c02 145.5px,#451401 148.5px,#461501 151.5px,#541d02 154.5px,#7c3a07 159.5px,#995f12 163.5px,#b58b31 167.5px,#c4a24a 170.5px,#d3b86e 176.5px,#d8c07b 181.5px,#d7be77 187.5px,#c9a855 200.5px,#c8a854 207.5px,#d0b365 215.5px,#e4d2a0 232.5px,#ede0b8 244.5px,#ede1ba 246.5px)"></i>
<i style="top:116px;background:linear-gradient(90deg,#d1b568 0.5px,#c09d43 18.5px,#bf9a40 26.5px,#c6a54f 33.5px,#dac481 46.5px,#dec98b 53.5px,#dbc583 60.5px,#d0b366 68.5px,#bc963c 79.5px,#b3882e 86.5px,#b88f35 91.5px,#cfb263 103.5px,#d7be77 110.5px,#d8c07b 118.5px,#d4b96f 124.5px,#c7a550 130.5px,#ba9238 133.5px,#a5731d 136.5px,#965a0f 138.5px,#743406 142.5px,#531c02 146.5px,#451401 149.5px,#471501 152.5px,#561e02 155.5px,#7d3b07 160.5px,#9b6113 164.5px,#b68d33 168.5px,#c5a34c 171.5px,#d4b96f 177.5px,#d8c07b 182.5px,#d7be78 188.5px,#c9a955 201.5px,#c9a855 208.5px,#d0b365 216.5px,#e4d29f 233.5px,#ede0b8 245.5px,#ede0b9 246.5px)"></i>
<i style="top:117px;background:linear-gradient(90deg,#cfb264 0.5px,#c09c42 17.5px,#bf9a40 25.5px,#c6a54f 32.5px,#dbc583 46.5px,#dec98c 53.5px,#dac481 60.5px,#be993f 78.5px,#b58b31 85.5px,#ba9238 90.5px,#d3b86d 104.5px,#d8c17c 111.5px,#d9c17d 119.5px,#d4ba71 125.5px,#c7a651 131.5px,#c09c42 133.5px,#a6731e 137.5px,#965a0f 139.5px,#753406 143.5px,#531c02 147.5px,#461501 150.5px,#481601 153.5px,#571f02 156.5px,#7e3d08 161.5px,#95580f 164.5px,#b1852b 168.5px,#c29e46 171.5px,#d2b76b 177.5px,#d8c07b 182.5px,#d8bf7a 188.5px,#c9a956 202.5px,#c9a955 209.5px,#d1b568 218.5px,#e5d3a1 235.5px,#ecdfb8 246.5px)"></i>
<i style="top:118px;background:linear-gradient(90deg,#ceb060 0.5px,#c09b41 16.5px,#bf9a40 24.5px,#c6a54f 31.5px,#dbc583 45.5px,#dec98c 52.5px,#dbc583 59.5px,#ceb161 68.5px,#be993f 78.5px,#b78d33 84.5px,#bb953b 89.5px,#d5bb73 104.5px,#dac380 112.5px,#d9c27d 121.5px,#d3b96f 127.5px,#c4a24b 133.5px,#bb943a 135.5px,#9e6717 139.5px,#8e500c 141.5px,#6c2d04 145.5px,#4d1901 149.5px,#461501 152.5px,#4d1901 155.5px,#703005 160.5px,#8f510d 164.5px,#9e6616 166.5px,#b2872d 169.5px,#c2a047 172.5px,#d3b86d 178.5px,#d8c17c 183.5px,#d8c07a 189.5px,#caaa57 203.5px,#c9a955 210.5px,#d1b568 219.5px,#e5d3a1 236.5px,#ecdeb6 246.5px)"></i>
<i style="top:119px;background:linear-gradient(90deg,#ccae5c 0.5px,#bf9a40 15.5px,#be9a40 23.5px,#c6a54f 30.5px,#dbc583 44.5px,#deca8d 51.5px,#dbc684 58.5px,#cfb264 67.5px,#c09c42 77.5px,#b89036 84.5px,#bf9a40 89.5px,#d6bd75 103.5px,#dac481 111.5px,#d9c27f 122.5px,#d4b970 128.5px,#c4a24b 134.5px,#bb943a 136.5px,#a6741e 139.5px,#965a0f 141.5px,#743406 145.5px,#531c02 149.5px,#471501 152.5px,#4a1701 155.5px,#5b2102 158.5px,#824009 163.5px,#985d11 166.5px,#b4892f 170.5px,#c3a149 173.5px,#d3b86e 179.5px,#d9c17c 184.5px,#d8c07b 190.5px,#caaa57 204.5px,#c9a956 211.5px,#d1b568 220.5px,#e5d4a3 238.5px,#ebddb4 246.5px)"></i>
<i style="top:120px;background:linear-gradient(90deg,#cbab59 0.5px,#be993f 14.5px,#be993f 22.5px,#c6a54f 29.5px,#dbc583 43.5px,#deca8d 50.5px,#dcc685 57.5px,#d0b466 66.5px,#c19e45 76.5px,#ba9238 83.5px,#c09c42 88.5px,#d7be77 102.5px,#dbc583 110.5px,#dac380 123.5px,#d4ba70 129.5px,#c4a24b 135.5px,#bb943a 137.5px,#a6731d 140.5px,#965a0f 142.5px,#743306 146.5px,#531c02 150.5px,#481601 153.5px,#4c1801 156.5px,#5d2202 159.5px,#844309 164.5px,#9a6012 167.5px,#b58b31 171.5px,#c4a24b 174.5px,#d4b96f 180.5px,#d9c17d 185.5px,#d8c07b 191.5px,#caab58 205.5px,#caaa56 212.5px,#d1b568 221.5px,#e6d5a6 240.5px,#ebdcb2 246.5px)"></i>
<i style="top:121px;background:linear-gradient(90deg,#c9a955 0.5px,#bd983e 14.5px,#bf9a40 22.5px,#c9aa56 30.5px,#dbc583 42.5px,#deca8e 49.5px,#dcc787 56.5px,#d1b569 65.5px,#c29f47 75.5px,#bb943a 82.5px,#c19d44 87.5px,#d7bf79 101.5px,#dcc685 109.5px,#dac481 124.5px,#d4ba71 130.5px,#c4a24b 136.5px,#ba9339 138.5px,#a5721d 141.5px,#95590f 143.5px,#733306 147.5px,#531c02 151.5px,#491601 154.5px,#4e1901 157.5px,#6e2f05 162.5px,#8d4e0c 166.5px,#9b6314 168.5px,#b1842a 171.5px,#c19e45 174.5px,#d2b76c 180.5px,#d8c17c 185.5px,#d9c17d 191.5px,#caaa57 207.5px,#caab58 214.5px,#d2b76b 223.5px,#e8d8ab 243.5px,#eadbb0 246.5px)"></i>
<i style="top:122px;background:linear-gradient(90deg,#c7a752 0.5px,#bd973d 13.5px,#be9a40 21.5px,#c9a956 29.5px,#dbc583 41.5px,#dfca8e 48.5px,#ddc788 55.5px,#d2b76b 64.5px,#c5a34c 73.5px,#bc963c 81.5px,#c19e45 86.5px,#d8c07b 100.5px,#dcc787 108.5px,#dbc582 125.5px,#d4ba71 131.5px,#c4a24b 137.5px,#ba9339 139.5px,#a5711c 142.5px,#94580e 144.5px,#723206 148.5px,#531c02 152.5px,#4a1701 155.5px,#501a01 158.5px,#713105 163.5px,#8f510d 167.5px,#9d6616 169.5px,#b2862c 172.5px,#c29f47 175.5px,#d3b86d 181.5px,#d9c17d 186.5px,#d9c27e 192.5px,#caab58 208.5px,#caab58 215.5px,#d2b76b 224.5px,#e8d7aa 244.5px,#e9daae 246.5px)"></i>
<i style="top:123px;background:linear-gradient(90deg,#c6a44f 0.5px,#bc963c 12.5px,#be993f 20.5px,#c9a956 28.5px,#dbc583 40.5px,#dfca8e 47.5px,#ddc889 54.5px,#d3b86d 63.5px,#c6a44e 72.5px,#be983e 80.5px,#c29f46 85.5px,#d8c17c 99.5px,#ddc788 107.5px,#dcc685 125.5px,#d6bd76 131.5px,#c7a752 137.5px,#c09b41 139.5px,#a4701b 143.5px,#93560e 145.5px,#713105 149.5px,#531c02 153.5px,#4b1801 156.5px,#521c02 159.5px,#733306 164.5px,#985d11 169.5px,#b4892f 173.5px,#c3a149 176.5px,#d3b96e 182.5px,#d9c27e 187.5px,#d9c27e 193.5px,#cbab59 209.5px,#cbab59 216.5px,#d2b76b 225.5px,#e7d6a8 244.5px,#e8d8ab 246.5px)"></i>
<i style="top:124px;background:linear-gradient(90deg,#c4a24c 0.5px,#bb953b 12.5px,#bf9b41 20.5px,#ceb161 30.5px,#dbc583 39.5px,#dfca8e 46.5px,#ddc88a 53.5px,#d4b96f 62.5px,#c7a550 71.5px,#bf9a40 80.5px,#c4a24a 85.5px,#d9c27d 98.5px,#ddc88a 106.5px,#dcc686 126.5px,#d6bd76 132.5px,#c7a651 138.5px,#bf9a40 140.5px,#a26e1a 144.5px,#8a4b0b 147.5px,#682a04 151.5px,#531c02 154.5px,#4d1901 157.5px,#551d02 160.5px,#763506 165.5px,#9a6113 170.5px,#b58c32 174.5px,#c4a24b 177.5px,#d4b970 183.5px,#d9c27f 188.5px,#d9c27f 194.5px,#cbab59 210.5px,#cbab59 217.5px,#d2b76b 226.5px,#e7d6a7 245.5px,#e7d6a9 246.5px)"></i>
<i style="top:125px;background:linear-gradient(90deg,#c3a049 0.5px,#bb943a 11.5px,#bf9a40 19.5px,#ceb061 29.5px,#dbc582 38.5px,#dfca8f 45.5px,#dec98b 52.5px,#d5bb72 61.5px,#c8a752 70.5px,#c09c42 79.5px,#c4a24b 84.5px,#d9c27e 97.5px,#dec98c 105.5px,#dcc787 127.5px,#d6bd76 133.5px,#c7a550 139.5px,#b78f35 142.5px,#a16c19 145.5px,#91530d 147.5px,#6f2f05 151.5px,#531c02 155.5px,#4e1a01 158.5px,#571f02 161.5px,#783707 166.5px,#95590f 170.5px,#b1852b 174.5px,#c29e46 177.5px,#d3b76c 183.5px,#d9c27e 188.5px,#dac380 194.5px,#d3b76c 203.5px,#cbac5a 211.5px,#cbac59 218.5px,#d2b76b 227.5px,#e6d4a5 245.5px,#e6d5a6 246.5px)"></i>
<i style="top:126px;background:linear-gradient(90deg,#c29f46 0.5px,#ba9339 11.5px,#be9a40 18.5px,#ceb060 28.5px,#dcc685 38.5px,#dfcb8f 45.5px,#ddc88a 52.5px,#d4ba70 61.5px,#c7a752 70.5px,#c19d43 79.5px,#c6a54f 84.5px,#d9c27f 96.5px,#deca8d 104.5px,#ddc889 127.5px,#d8c07a 133.5px,#cdae5e 138.5px,#bd973d 142.5px,#a06918 146.5px,#8f510d 148.5px,#6e2f05 152.5px,#541d02 156.5px,#501b02 159.5px,#5a2002 162.5px,#7b3a07 167.5px,#975c10 171.5px,#b3882e 175.5px,#c3a048 178.5px,#d5bb72 185.5px,#dac380 190.5px,#dac37f 196.5px,#cbac5a 212.5px,#cbac5a 219.5px,#d2b76b 228.5px,#e5d4a3 246.5px)"></i>
<i style="top:127px;background:linear-gradient(90deg,#c19d43 0.5px,#ba9339 11.5px,#c09b41 18.5px,#d1b568 29.5px,#dcc787 38.5px,#dfcb90 46.5px,#dcc685 54.5px,#c7a652 70.5px,#c19e44 78.5px,#c6a54f 83.5px,#dbc482 96.5px,#dfca8f 104.5px,#ddc889 128.5px,#d8bf7a 134.5px,#ccae5c 139.5px,#c19e44 142.5px,#a6741e 146.5px,#965a0f 148.5px,#753506 152.5px,#591f02 156.5px,#511b02 159.5px,#581f02 162.5px,#763606 167.5px,#9a6012 172.5px,#b58b31 176.5px,#c4a14a 179.5px,#d4b96f 185.5px,#dac37f 190.5px,#dac481 196.5px,#d2b66a 206.5px,#cbac5a 214.5px,#ccae5d 222.5px,#d6bc74 232.5px,#e5d2a0 246.5px)"></i>
<i style="top:128px;background:linear-gradient(90deg,#bf9b41 0.5px,#ba9238 10.5px,#bf9b41 17.5px,#d1b568 28.5px,#dcc786 37.5px,#dfcb90 45.5px,#dcc786 53.5px,#c8a854 69.5px,#c29f46 77.5px,#c6a54f 82.5px,#dbc482 95.5px,#dfcb90 103.5px,#dec98b 128.5px,#d9c27d 134.5px,#cfb162 139.5px,#c09c43 143.5px,#a4711c 147.5px,#94580e 149.5px,#743406 153.5px,#591f02 157.5px,#531c02 160.5px,#5a2002 163.5px,#793807 168.5px,#95590f 172.5px,#b1842a 176.5px,#c19e45 179.5px,#d4ba71 186.5px,#dac380 191.5px,#dac481 197.5px,#d2b66b 207.5px,#cbac5a 215.5px,#cdae5d 223.5px,#d6bc74 233.5px,#e4d19d 246.5px)"></i>
<i style="top:129px;background:linear-gradient(90deg,#be993f 0.5px,#ba9238 10.5px,#c19d43 17.5px,#dbc583 35.5px,#dfcb90 43.5px,#ddc88a 51.5px,#d2b76b 61.5px,#c8a853 69.5px,#c29f47 77.5px,#c8a753 82.5px,#dbc482 94.5px,#e0cb91 102.5px,#deca8d 128.5px,#dac481 134.5px,#d1b568 139.5px,#bf9a40 144.5px,#a36e1b 148.5px,#93560e 150.5px,#733306 154.5px,#592002 158.5px,#541d02 161.5px,#5d2202 164.5px,#7c3a07 169.5px,#975c10 173.5px,#b2872d 177.5px,#c29f47 180.5px,#d5bb72 187.5px,#dac481 192.5px,#dbc482 198.5px,#d1b569 209.5px,#cbac5a 217.5px,#cdaf5f 225.5px,#d8c07b 236.5px,#e2d09a 246.5px)"></i>
<i style="top:130px;background:linear-gradient(90deg,#bd973d 0.5px,#ba9238 10.5px,#c29e46 17.5px,#dbc583 34.5px,#dfcb90 42.5px,#dec98b 50.5px,#d3b86e 60.5px,#c9a955 68.5px,#c3a048 76.5px,#c8a752 81.5px,#dcc685 94.5px,#e0cc92 102.5px,#deca8e 129.5px,#dac380 135.5px,#d0b466 140.5px,#bd983e 145.5px,#a16c19 149.5px,#91540d 151.5px,#713105 155.5px,#592002 159.5px,#561e02 162.5px,#652703 166.5px,#85450a 171.5px,#9a6012 174.5px,#b48a30 178.5px,#c3a149 181.5px,#d5bc74 188.5px,#dbc482 193.5px,#dbc482 199.5px,#d0b466 211.5px,#cbac5a 219.5px,#cfb162 228.5px,#ddc788 241.5px,#e1ce97 246.5px)"></i>
<i style="top:131px;background:linear-gradient(90deg,#bc953b 0.5px,#b99238 9.5px,#c19e45 16.5px,#dcc685 34.5px,#dfcb90 42.5px,#ddc88a 50.5px,#d1b568 61.5px,#c8a753 69.5px,#c3a149 76.5px,#cbac59 82.5px,#dcc685 93.5px,#e0cc93 101.5px,#e0cc92 114.5px,#dfcb8f 129.5px,#dac380 136.5px,#d0b264 141.5px,#c19e45 145.5px,#a7751f 149.5px,#975c10 151.5px,#783707 155.5px,#5d2203 159.5px,#571e02 162.5px,#5e2203 165.5px,#7a3907 170.5px,#95590f 174.5px,#b0842a 178.5px,#c19d44 181.5px,#d4ba71 188.5px,#dac481 193.5px,#dbc583 199.5px,#d4b96f 209.5px,#ccad5c 218.5px,#cdaf5e 226.5px,#d6bc74 236.5px,#e0cc93 246.5px)"></i>
<i style="top:132px;background:linear-gradient(90deg,#bb943a 0.5px,#ba9238 9.5px,#c4a24b 17.5px,#dbc684 33.5px,#dfcb90 41.5px,#dec98b 49.5px,#d3b96e 59.5px,#caaa57 67.5px,#c4a24a 75.5px,#c9a955 80.5px,#dcc787 93.5px,#e1cd95 102.5px,#dfcb90 130.5px,#d9c27f 137.5px,#cfb162 142.5px,#c09d43 146.5px,#a5721d 150.5px,#95590f 152.5px,#763606 156.5px,#5d2203 160.5px,#581f02 163.5px,#652703 167.5px,#844309 172.5px,#985d11 175.5px,#b2872d 179.5px,#c29f47 182.5px,#d5bb72 189.5px,#dbc482 194.5px,#dbc584 200.5px,#d4b96f 210.5px,#ccae5c 219.5px,#cdaf5e 227.5px,#d6bc75 237.5px,#dfcb90 246.5px)"></i>
<i style="top:133px;background:linear-gradient(90deg,#ba9238 0.5px,#ba9339 9.5px,#c7a651 18.5px,#dbc584 32.5px,#dfcb90 40.5px,#dec98c 48.5px,#d4ba70 58.5px,#caab58 66.5px,#c5a24c 75.5px,#ccad5c 81.5px,#dcc787 92.5px,#e1cd95 100.5px,#e1cd95 112.5px,#e0cc91 130.5px,#dbc482 137.5px,#d1b568 142.5px,#bf9a40 147.5px,#a36f1b 151.5px,#93570e 153.5px,#753406 157.5px,#5d2203 161.5px,#5a2002 164.5px,#672904 168.5px,#86460a 173.5px,#9a6113 176.5px,#b48a30 180.5px,#c3a149 183.5px,#d5bc74 190.5px,#dbc584 196.5px,#dbc482 203.5px,#ccae5d 220.5px,#cdaf5e 228.5px,#d6bc75 238.5px,#dec98c 246.5px)"></i>
<i style="top:134px;background:linear-gradient(90deg,#b99137 0.5px,#ba9339 8.5px,#c7a651 17.5px,#dbc583 31.5px,#dfcb90 39.5px,#dec98d 47.5px,#d5bb72 57.5px,#caab58 66.5px,#c5a34c 74.5px,#caaa58 79.5px,#ddc889 92.5px,#e1ce97 101.5px,#e1cd95 114.5px,#e0cc93 130.5px,#dbc684 137.5px,#d3b86d 142.5px,#c29f47 147.5px,#a97820 151.5px,#91540e 154.5px,#733306 158.5px,#5e2203 162.5px,#5b2102 165.5px,#6f2f05 170.5px,#89490b 174.5px,#965a0f 176.5px,#b1842a 180.5px,#c19d44 183.5px,#d4ba71 190.5px,#dbc583 196.5px,#dbc584 203.5px,#cdae5d 221.5px,#cdaf5f 229.5px,#d7be77 240.5px,#ddc788 246.5px)"></i>
<i style="top:135px;background:linear-gradient(90deg,#b99137 0.5px,#bb943a 8.5px,#caaa57 18.5px,#dbc482 30.5px,#dfcb90 38.5px,#deca8d 46.5px,#d6bc74 56.5px,#cbac5a 65.5px,#c5a44e 74.5px,#cdaf5e 80.5px,#ddc788 91.5px,#e2ce97 100.5px,#e1ce96 113.5px,#e0cc93 131.5px,#dbc584 138.5px,#d2b66b 143.5px,#c19e44 148.5px,#a7751e 152.5px,#975c10 154.5px,#793807 158.5px,#612403 162.5px,#5c2102 165.5px,#672904 169.5px,#85440a 174.5px,#985e11 177.5px,#b3872d 181.5px,#c29f47 184.5px,#d5bb72 191.5px,#dbc584 197.5px,#dbc584 204.5px,#cdae5e 222.5px,#ceaf5f 230.5px,#d7be77 241.5px,#dcc685 246.5px)"></i>
<i style="top:136px;background:linear-gradient(90deg,#b89036 0.5px,#bc953b 8.5px,#cdaf5e 19.5px,#dbc584 30.5px,#dfcb90 38.5px,#dec98d 46.5px,#d5bb73 56.5px,#cbab59 65.5px,#c6a44e 73.5px,#cdae5d 79.5px,#dcc787 90.5px,#e2ce97 99.5px,#e2cf98 112.5px,#e0cc93 132.5px,#dbc583 139.5px,#d1b569 144.5px,#c09c42 149.5px,#a4711c 153.5px,#95590f 155.5px,#773606 159.5px,#612403 163.5px,#5d2203 166.5px,#6e2f05 171.5px,#87470a 175.5px,#9b6213 178.5px,#b58a30 182.5px,#c3a149 185.5px,#d5bc74 192.5px,#dcc685 198.5px,#dbc684 205.5px,#cdaf5e 223.5px,#ceb05f 231.5px,#d8c07a 243.5px,#dac481 246.5px)"></i>
<i style="top:137px;background:linear-gradient(90deg,#b89036 0.5px,#bc953b 7.5px,#cdae5d 18.5px,#dbc583 29.5px,#dfcb91 38.5px,#dec98c 46.5px,#d3b96e 57.5px,#cbab59 65.5px,#c6a54f 73.5px,#ceb060 79.5px,#ddc88a 90.5px,#e2cf98 99.5px,#e2cf98 113.5px,#e1cd94 132.5px,#dcc686 139.5px,#d3b86d 144.5px,#be993f 150.5px,#a26d1a 154.5px,#8b4c0c 157.5px,#6f2f05 161.5px,#5f2303 165.5px,#612403 168.5px,#773606 173.5px,#975b10 178.5px,#b1852b 182.5px,#c19e44 185.5px,#d4ba71 192.5px,#dbc584 198.5px,#dcc686 205.5px,#d2b66a 218.5px,#cdae5d 226.5px,#d0b364 235.5px,#d9c27e 246.5px)"></i>
<i style="top:138px;background:linear-gradient(90deg,#b89036 0.5px,#bd973d 7.5px,#cfb264 19.5px,#dcc685 29.5px,#dfcb91 38.5px,#ddc889 47.5px,#cbac5a 64.5px,#c6a550 72.5px,#cdaf5f 78.5px,#ddc889 89.5px,#e2cf98 98.5px,#e2cf99 113.5px,#e1cd95 132.5px,#ddc788 139.5px,#d5bb72 144.5px,#c19e45 150.5px,#a7761f 154.5px,#91530d 157.5px,#733306 161.5px,#612403 165.5px,#612403 168.5px,#733306 173.5px,#8c4e0c 177.5px,#a06a18 180.5px,#b3882e 183.5px,#c29f47 186.5px,#d5bb72 193.5px,#dcc685 199.5px,#dcc786 206.5px,#ceb05f 225.5px,#ceb060 233.5px,#d8c07a 246.5px)"></i>
<i style="top:139px;background:linear-gradient(90deg,#b99036 0.5px,#be9a40 7.5px,#dbc584 28.5px,#dfcb90 37.5px,#ddc88a 46.5px,#cbac5a 64.5px,#c7a651 72.5px,#cfb161 78.5px,#ddc88b 89.5px,#e2cf99 98.5px,#e3d09a 113.5px,#e1cd95 133.5px,#dcc787 140.5px,#d4b970 145.5px,#c09c42 151.5px,#a5721d 155.5px,#965a0f 157.5px,#793807 161.5px,#642603 165.5px,#612403 168.5px,#713105 173.5px,#89490b 177.5px,#9c6314 180.5px,#b58b31 184.5px,#c4a14a 187.5px,#d5bc74 194.5px,#dcc686 200.5px,#dcc787 207.5px,#cdaf5f 227.5px,#cfb161 235.5px,#d7be77 246.5px)"></i>
<i style="top:140px;background:linear-gradient(90deg,#b99137 0.5px,#c19e45 8.5px,#dbc583 27.5px,#dfcb90 36.5px,#dec98b 45.5px,#d1b568 58.5px,#c8a854 68.5px,#c8a752 72.5px,#d1b568 79.5px,#dec98c 89.5px,#e2d09a 98.5px,#e3d09b 114.5px,#e1ce96 133.5px,#ddc88a 140.5px,#d5bc74 145.5px,#c3a048 151.5px,#aa7a21 155.5px,#93570e 158.5px,#773606 162.5px,#642603 166.5px,#622503 169.5px,#733306 174.5px,#8b4c0b 178.5px,#9e6717 181.5px,#b1852b 184.5px,#c19e45 187.5px,#d4ba71 194.5px,#dcc685 200.5px,#ddc788 207.5px,#d3b86e 220.5px,#cdaf5f 229.5px,#d0b364 238.5px,#d5bc74 246.5px)"></i>
<i style="top:141px;background:linear-gradient(90deg,#ba9238 0.5px,#c3a047 8.5px,#dbc684 27.5px,#dfcb90 36.5px,#ddc88a 45.5px,#ccad5b 63.5px,#c8a752 71.5px,#cfb263 77.5px,#dec98b 88.5px,#e2d09a 97.5px,#e3d09b 115.5px,#e1ce97 134.5px,#ddc889 141.5px,#d5bb72 146.5px,#c19e44 152.5px,#a7761f 156.5px,#91540d 159.5px,#753506 163.5px,#672803 166.5px,#642603 170.5px,#703105 174.5px,#87470a 178.5px,#9a6113 181.5px,#b3892f 185.5px,#c2a047 188.5px,#d5bc73 195.5px,#dcc787 201.5px,#ddc889 208.5px,#ceb060 229.5px,#cfb263 238.5px,#d4ba71 246.5px)"></i>
<i style="top:142px;background:linear-gradient(90deg,#bb943a 0.5px,#c4a14a 8.5px,#dbc583 26.5px,#dfcb90 35.5px,#ddc88b 44.5px,#d0b365 58.5px,#c8a753 69.5px,#ccac5b 74.5px,#deca8d 88.5px,#e3d09b 97.5px,#e3d09c 125.5px,#e1cd94 137.5px,#dbc584 143.5px,#d1b569 148.5px,#bf9b41 153.5px,#a5721c 157.5px,#965a0f 159.5px,#7a3907 163.5px,#662803 167.5px,#652703 171.5px,#733306 175.5px,#8a4a0b 179.5px,#965a0f 181.5px,#b08329 185.5px,#c09c42 188.5px,#d6bd75 196.5px,#ddc788 202.5px,#ddc889 209.5px,#ceb060 230.5px,#cfb161 238.5px,#d3b96e 246.5px)"></i>
<i style="top:143px;background:linear-gradient(90deg,#bc953b 0.5px,#c7a550 9.5px,#dbc582 25.5px,#dfcb8f 34.5px,#dec98b 43.5px,#d3b86d 55.5px,#ccad5b 63.5px,#c8a854 70.5px,#d0b264 76.5px,#dec98c 87.5px,#e3d09b 96.5px,#e3d19c 117.5px,#e2ce98 135.5px,#ddc88a 142.5px,#d5bc73 147.5px,#c29f47 153.5px,#aa7921 157.5px,#93570e 160.5px,#783707 164.5px,#662803 168.5px,#662803 172.5px,#753506 176.5px,#8c4e0c 180.5px,#9f6917 183.5px,#b2862c 186.5px,#c29e45 189.5px,#d5bb73 196.5px,#dcc787 202.5px,#ddc88a 209.5px,#d4b970 223.5px,#ceb05f 233.5px,#d0b365 242.5px,#d2b76c 246.5px)"></i>
<i style="top:144px;background:linear-gradient(90deg,#bd973d 0.5px,#c9a956 10.5px,#dbc584 25.5px,#dfcb8f 34.5px,#ddc88a 43.5px,#ccad5c 62.5px,#c9a955 70.5px,#d2b66b 77.5px,#dfcb90 88.5px,#e3d19d 98.5px,#e3d09b 132.5px,#dfca8f 141.5px,#d7be77 147.5px,#c19d43 154.5px,#a7751e 158.5px,#91540d 161.5px,#763506 165.5px,#662803 169.5px,#682904 173.5px,#773706 177.5px,#95590f 182.5px,#ae8127 186.5px,#c3a049 190.5px,#d6bd75 197.5px,#ddc788 203.5px,#ddc88a 210.5px,#d4ba70 224.5px,#ceb060 234.5px,#d0b365 243.5px,#d2b66a 246.5px)"></i>
<i style="top:145px;background:linear-gradient(90deg,#bf9a40 0.5px,#cdaf5f 12.5px,#dcc685 25.5px,#dfcb8f 34.5px,#ddc889 43.5px,#cdae5d 61.5px,#c9a955 69.5px,#d0b365 75.5px,#dfca8f 87.5px,#e3d19d 97.5px,#e3d09c 131.5px,#dfcb91 141.5px,#d8c07a 147.5px,#c3a149 154.5px,#ac7c23 158.5px,#965a0f 161.5px,#7b3907 165.5px,#682904 169.5px,#672803 173.5px,#743406 177.5px,#8b4c0c 181.5px,#9e6616 184.5px,#b1842a 187.5px,#c5a34c 191.5px,#d7be77 198.5px,#ddc889 204.5px,#dec98b 211.5px,#d4ba71 225.5px,#ceb060 235.5px,#d0b365 244.5px,#d1b467 246.5px)"></i>
<i style="top:146px;background:linear-gradient(90deg,#c09c42 0.5px,#d0b365 13.5px,#dcc686 25.5px,#dfcb8f 35.5px,#dcc686 44.5px,#cdae5d 61.5px,#c9a956 69.5px,#d2b76c 76.5px,#dfcb90 87.5px,#e4d19d 97.5px,#e3d19c 132.5px,#e0cc92 141.5px,#d9c27d 147.5px,#c9a956 153.5px,#bc963c 156.5px,#a26c1a 160.5px,#8c4e0c 163.5px,#723206 167.5px,#662703 171.5px,#6a2b04 175.5px,#824109 180.5px,#9a6013 184.5px,#b3882e 188.5px,#c3a048 191.5px,#d6bc74 198.5px,#ddc788 204.5px,#dec98c 211.5px,#d7bf78 223.5px,#ceb061 235.5px,#cfb162 243.5px,#d0b366 246.5px)"></i>
<i style="top:147px;background:linear-gradient(90deg,#c19e45 0.5px,#d3b86e 15.5px,#ddc88a 27.5px,#dfca8e 37.5px,#d9c27e 47.5px,#cdaf5e 60.5px,#c9aa56 68.5px,#d0b466 74.5px,#dfcb8f 86.5px,#e3d19d 96.5px,#e3d19d 131.5px,#e0cd94 141.5px,#dac380 147.5px,#cfb162 152.5px,#c09c42 156.5px,#a6741e 160.5px,#91530d 163.5px,#763506 167.5px,#662803 171.5px,#692a04 175.5px,#7f3d08 180.5px,#965b0f 184.5px,#b08329 188.5px,#c19d43 191.5px,#d5bb72 198.5px,#dcc787 204.5px,#deca8d 211.5px,#d9c27d 222.5px,#ceb161 236.5px,#cfb162 244.5px,#cfb264 246.5px)"></i>
<i style="top:148px;background:linear-gradient(90deg,#c3a047 0.5px,#dcc685 24.5px,#dfca8f 34.5px,#dcc686 43.5px,#cdae5e 60.5px,#caaa57 68.5px,#d3b76c 75.5px,#dfcb91 86.5px,#e4d19e 96.5px,#e4d19d 132.5px,#e0cc93 142.5px,#d9c27e 148.5px,#caaa57 154.5px,#be983e 157.5px,#a36f1b 161.5px,#95580f 163.5px,#793807 167.5px,#672904 171.5px,#682904 175.5px,#7c3a07 180.5px,#995f12 185.5px,#b2872d 189.5px,#c29f47 192.5px,#d5bc74 199.5px,#ddc888 205.5px,#deca8d 212.5px,#d9c27e 223.5px,#ceb161 237.5px,#cfb162 246.5px)"></i>
<i style="top:149px;background:linear-gradient(90deg,#c4a14a 0.5px,#dbc684 23.5px,#dfca8e 33.5px,#dcc787 42.5px,#cdae5d 60.5px,#caaa57 67.5px,#d1b467 73.5px,#dfcb90 85.5px,#e4d19e 95.5px,#e4d19e 131.5px,#e1cd94 142.5px,#dac481 148.5px,#cfb263 153.5px,#c19d44 157.5px,#a7761f 161.5px,#91540d 164.5px,#763606 168.5px,#672803 172.5px,#692a04 176.5px,#7e3d08 181.5px,#96590f 185.5px,#af8228 189.5px,#c09c42 192.5px,#d6bd76 200.5px,#ddc88a 206.5px,#deca8d 214.5px,#d8c07a 226.5px,#ceb060 239.5px,#ceb161 246.5px)"></i>
<i style="top:150px;background:linear-gradient(90deg,#c5a34d 0.5px,#dbc583 22.5px,#dfca8e 32.5px,#dcc787 41.5px,#cdaf5e 59.5px,#caab58 67.5px,#d1b569 73.5px,#dfcb91 85.5px,#e4d19e 95.5px,#e4d29e 132.5px,#e0cd94 143.5px,#dac37f 149.5px,#cbab59 155.5px,#bf9a40 158.5px,#a4701b 162.5px,#95580f 164.5px,#7a3807 168.5px,#682904 172.5px,#682904 176.5px,#7b3a07 181.5px,#985e11 186.5px,#b2862c 190.5px,#c29e45 193.5px,#d5bb73 200.5px,#ddc889 206.5px,#dfca8f 213.5px,#dbc583 223.5px,#cfb162 239.5px,#ceb060 246.5px)"></i>
<i style="top:151px;background:linear-gradient(90deg,#c6a550 0.5px,#dbc584 22.5px,#deca8e 32.5px,#dcc686 41.5px,#cdaf5e 59.5px,#caab58 66.5px,#d1b568 72.5px,#dfcb90 84.5px,#e4d19e 94.5px,#e4d29f 131.5px,#e1cd95 143.5px,#dbc482 149.5px,#d0b264 154.5px,#c19e44 158.5px,#a7751f 162.5px,#91540d 165.5px,#763606 169.5px,#672804 173.5px,#682a04 177.5px,#7e3c08 182.5px,#95590f 186.5px,#ae8127 190.5px,#c3a049 194.5px,#d6bd75 201.5px,#ddc88a 207.5px,#dfcb8f 215.5px,#dac37f 226.5px,#cfb162 240.5px,#ceb060 246.5px)"></i>
<i style="top:152px;background:linear-gradient(90deg,#c8a752 0.5px,#dbc583 21.5px,#deca8d 32.5px,#dbc583 42.5px,#ceaf5f 58.5px,#cbac59 66.5px,#d2b66a 72.5px,#e0cb91 84.5px,#e4d29e 94.5px,#e4d29f 133.5px,#e1cd94 144.5px,#dac380 150.5px,#ceb060 155.5px,#be993f 159.5px,#a36f1b 163.5px,#94580e 165.5px,#7a3907 169.5px,#682904 173.5px,#672904 177.5px,#7a3907 182.5px,#985d10 187.5px,#b1852b 191.5px,#c5a34c 195.5px,#d7be77 202.5px,#ddc98b 208.5px,#dfcb90 216.5px,#dac380 227.5px,#ceb161 242.5px,#ceb05f 246.5px)"></i>
<i style="top:153px;background:linear-gradient(90deg,#c9a955 0.5px,#dbc584 21.5px,#dec98d 32.5px,#dac482 42.5px,#cdaf5f 58.5px,#cbac5a 66.5px,#d5bc73 74.5px,#e1cd94 85.5px,#e4d2a0 96.5px,#e4d19e 137.5px,#e0cb91 146.5px,#d7bf79 152.5px,#c19d43 159.5px,#a6741e 163.5px,#90530d 166.5px,#763606 170.5px,#672904 174.5px,#682a04 178.5px,#7d3c07 183.5px,#9a6113 188.5px,#b3882e 192.5px,#c3a048 195.5px,#d6bc75 202.5px,#ddc88a 208.5px,#dfcb91 216.5px,#dbc684 226.5px,#ceb161 243.5px,#ceb05f 246.5px)"></i>
<i style="top:154px;background:linear-gradient(90deg,#caaa58 0.5px,#dbc583 20.5px,#dec98c 31.5px,#dbc582 41.5px,#ceb060 57.5px,#cbac5a 65.5px,#d2b66a 71.5px,#e0cb91 83.5px,#e4d29f 93.5px,#e4d2a0 133.5px,#e1ce97 144.5px,#dcc685 150.5px,#d1b467 155.5px,#bd983e 160.5px,#a26d1a 164.5px,#8d4e0c 167.5px,#743306 171.5px,#662803 175.5px,#692b04 179.5px,#803e08 184.5px,#975b10 188.5px,#b08329 192.5px,#c09d43 195.5px,#d6be77 203.5px,#dec98b 209.5px,#e0cb91 217.5px,#dcc685 227.5px,#ceb161 244.5px,#ceb060 246.5px)"></i>
<i style="top:155px;background:linear-gradient(90deg,#cbac5a 0.5px,#dbc583 20.5px,#dec98c 31.5px,#dac481 41.5px,#ceb05f 57.5px,#ccad5b 65.5px,#d7be77 74.5px,#e1cd94 84.5px,#e4d2a0 95.5px,#e4d29f 137.5px,#e1cd94 146.5px,#d9c27e 152.5px,#c8a753 158.5px,#c09b41 160.5px,#a5721d 164.5px,#975b10 166.5px,#7d3b07 170.5px,#692b04 174.5px,#672803 178.5px,#773606 183.5px,#93570e 188.5px,#ad7e24 192.5px,#c29f46 196.5px,#d5bc74 203.5px,#ddc88a 209.5px,#e0cc92 217.5px,#dcc787 227.5px,#cfb161 245.5px,#ceb161 246.5px)"></i>
<i style="top:156px;background:linear-gradient(90deg,#ccae5d 0.5px,#dbc584 20.5px,#dec98b 31.5px,#dac380 41.5px,#ceb060 56.5px,#ccad5b 64.5px,#d3b96e 71.5px,#e0cd93 83.5px,#e4d2a0 94.5px,#e4d29f 137.5px,#e0cc93 147.5px,#d8c07a 153.5px,#c19e45 160.5px,#a87720 164.5px,#93560e 167.5px,#7a3907 171.5px,#682a04 175.5px,#672904 179.5px,#793807 184.5px,#965a0f 189.5px,#af8228 193.5px,#c09c42 196.5px,#d6bd76 204.5px,#dec98b 210.5px,#e0cc92 218.5px,#dcc787 228.5px,#cfb263 245.5px,#cfb162 246.5px)"></i>
<i style="top:157px;background:linear-gradient(90deg,#ceaf5f 0.5px,#dbc684 20.5px,#ddc88a 31.5px,#d9c27e 41.5px,#ceb060 56.5px,#ccad5c 64.5px,#d7be78 73.5px,#e1ce96 84.5px,#e5d3a1 96.5px,#e4d29f 139.5px,#e0cc92 148.5px,#d6be77 154.5px,#be9a40 161.5px,#a4711c 165.5px,#965a0f 167.5px,#7d3c07 171.5px,#6a2b04 175.5px,#672803 179.5px,#763606 184.5px,#92550e 189.5px,#ac7d23 193.5px,#c19e45 197.5px,#d7be78 205.5px,#dec98c 211.5px,#e0cc93 219.5px,#dcc686 230.5px,#cfb264 246.5px)"></i>
<i style="top:158px;background:linear-gradient(90deg,#cfb162 0.5px,#dcc685 20.5px,#ddc88a 31.5px,#d8c07b 42.5px,#ceb05f 56.5px,#ccad5c 63.5px,#d4b96f 70.5px,#e0cd93 82.5px,#e5d2a0 93.5px,#e4d2a0 138.5px,#e1cd95 147.5px,#d9c37f 153.5px,#c9a854 159.5px,#bb943a 162.5px,#a7761f 165.5px,#93560e 168.5px,#7a3907 172.5px,#682a04 176.5px,#672904 180.5px,#793807 185.5px,#95590f 190.5px,#ae8026 194.5px,#c3a048 198.5px,#d6bd75 205.5px,#dec98b 211.5px,#e0cd93 219.5px,#ddc88a 229.5px,#d0b366 246.5px)"></i>
<i style="top:159px;background:linear-gradient(90deg,#cfb264 0.5px,#dcc685 20.5px,#ddc889 31.5px,#d8bf7a 42.5px,#ceb060 55.5px,#cdae5d 63.5px,#d8c07b 73.5px,#e1ce96 83.5px,#e5d3a1 95.5px,#e4d2a0 139.5px,#e1cd94 148.5px,#d8c07b 154.5px,#c29f47 161.5px,#a4701b 166.5px,#965a0f 168.5px,#773606 173.5px,#672904 177.5px,#682904 181.5px,#7b3a07 186.5px,#985d11 191.5px,#b1842a 195.5px,#c4a24b 199.5px,#d7be77 206.5px,#dec98c 212.5px,#e0cd94 220.5px,#ddc788 231.5px,#d1b568 246.5px)"></i>
<i style="top:160px;background:linear-gradient(90deg,#d0b466 0.5px,#dcc686 21.5px,#dcc788 32.5px,#d5bc74 44.5px,#ceb060 55.5px,#cdae5d 62.5px,#d4b96f 69.5px,#e0cd94 81.5px,#e5d3a1 92.5px,#e4d2a0 139.5px,#e1cd95 148.5px,#d9c27e 154.5px,#c4a24b 161.5px,#b4892f 164.5px,#995f12 168.5px,#7a3907 173.5px,#692a04 177.5px,#672904 181.5px,#783707 186.5px,#94580e 191.5px,#ad7f25 195.5px,#c29f47 199.5px,#d6bc74 206.5px,#dec98b 212.5px,#e1cd94 220.5px,#ddc88a 231.5px,#d2b66a 246.5px)"></i>
<i style="top:161px;background:linear-gradient(90deg,#d1b568 0.5px,#dcc686 21.5px,#dcc787 32.5px,#d4ba70 45.5px,#cdaf5f 56.5px,#cdae5e 62.5px,#e0cc93 80.5px,#e5d3a1 91.5px,#e5d3a1 138.5px,#e1ce96 148.5px,#dac380 154.5px,#c6a44e 161.5px,#b78e34 164.5px,#a36f1b 167.5px,#965a0f 169.5px,#773606 174.5px,#672904 178.5px,#682904 182.5px,#7a3907 187.5px,#975b10 192.5px,#b08329 196.5px,#c09c42 199.5px,#d6be77 207.5px,#dec98c 213.5px,#e1cd95 221.5px,#dec98b 232.5px,#d3b86d 246.5px)"></i>
<i style="top:162px;background:linear-gradient(90deg,#d2b66a 0.5px,#dcc786 22.5px,#dcc685 33.5px,#ceb060 54.5px,#cdaf5f 62.5px,#e0cd94 80.5px,#e5d3a1 91.5px,#e5d3a1 139.5px,#e2ce97 148.5px,#dbc482 154.5px,#cbac5a 160.5px,#bf9b41 163.5px,#a6741e 167.5px,#92550e 170.5px,#7a3907 174.5px,#692a04 178.5px,#672804 182.5px,#773706 187.5px,#93560e 192.5px,#ac7d23 196.5px,#c29e46 200.5px,#d5bc74 207.5px,#dec98b 213.5px,#e1cd95 221.5px,#dec98d 232.5px,#d4b970 246.5px)"></i>
<i style="top:163px;background:linear-gradient(90deg,#d3b76c 0.5px,#dcc686 22.5px,#dbc584 33.5px,#ceb060 54.5px,#cdaf5e 61.5px,#e1cd95 80.5px,#e5d3a2 92.5px,#e5d3a0 141.5px,#e1ce96 149.5px,#dac37f 155.5px,#c5a44e 162.5px,#b68d33 165.5px,#a36e1b 168.5px,#95590f 170.5px,#773606 175.5px,#682904 179.5px,#672904 183.5px,#7a3807 188.5px,#96590f 193.5px,#af8127 197.5px,#c3a149 201.5px,#d6bd76 208.5px,#dfca8e 215.5px,#e1cd95 224.5px,#ddc88a 235.5px,#d5bb72 246.5px)"></i>
<i style="top:164px;background:linear-gradient(90deg,#d3b86e 0.5px,#dcc686 22.5px,#dbc582 33.5px,#ceb061 53.5px,#ceb05f 61.5px,#e0cd94 79.5px,#e5d3a1 90.5px,#e5d3a1 140.5px,#e2ce97 149.5px,#dac481 155.5px,#cbab59 161.5px,#bf9a40 164.5px,#a6731d 168.5px,#92550e 171.5px,#7a3907 175.5px,#692a04 179.5px,#672803 183.5px,#763606 188.5px,#92550e 193.5px,#ab7c22 197.5px,#c19e45 201.5px,#d7bf78 209.5px,#dfcb8f 216.5px,#e1ce96 225.5px,#ddc88a 236.5px,#d6bd75 246.5px)"></i>
<i style="top:165px;background:linear-gradient(90deg,#d4b96f 0.5px,#dcc686 23.5px,#dac380 34.5px,#ceb161 52.5px,#ceaf5f 60.5px,#e1cd95 79.5px,#e5d3a2 91.5px,#e5d3a1 141.5px,#e1ce96 150.5px,#d9c27f 156.5px,#c5a34d 163.5px,#b68c32 166.5px,#a26d1a 169.5px,#8f500d 172.5px,#773606 176.5px,#682904 180.5px,#672904 184.5px,#793807 189.5px,#95580f 194.5px,#ae8026 198.5px,#c3a048 202.5px,#d6bd76 209.5px,#dfca8e 216.5px,#e1ce96 225.5px,#dec98c 236.5px,#d7be78 246.5px)"></i>
<i style="top:166px;background:linear-gradient(90deg,#d4ba71 0.5px,#dcc685 23.5px,#d9c37f 34.5px,#ceb161 52.5px,#ceb060 60.5px,#e0cd94 78.5px,#e5d3a1 89.5px,#e5d3a2 140.5px,#e2ce97 150.5px,#dac481 156.5px,#caab58 162.5px,#be993f 165.5px,#a5721d 169.5px,#91540e 172.5px,#7a3907 176.5px,#692a04 180.5px,#662803 184.5px,#763506 189.5px,#8c4d0c 193.5px,#9e6716 196.5px,#b1842a 199.5px,#c4a24c 203.5px,#d7be78 210.5px,#dfcb8f 217.5px,#e1ce97 226.5px,#dec98c 237.5px,#d8c07a 246.5px)"></i>
<i style="top:167px;background:linear-gradient(90deg,#d5bb72 0.5px,#dcc685 23.5px,#d9c27e 34.5px,#cfb161 51.5px,#ceb060 59.5px,#e1cd95 78.5px,#e5d3a2 90.5px,#e5d3a2 142.5px,#e1ce96 151.5px,#d9c27f 157.5px,#c5a34c 164.5px,#b58b31 167.5px,#a26c1a 170.5px,#8e500d 173.5px,#773606 177.5px,#682904 181.5px,#672804 185.5px,#783707 190.5px,#94580f 195.5px,#ae8026 199.5px,#c3a047 203.5px,#d6bd75 210.5px,#dfca8e 217.5px,#e1ce97 226.5px,#dfca8e 237.5px,#d9c17d 246.5px)"></i>
<i style="top:168px;background:linear-gradient(90deg,#d5bc73 0.5px,#dbc684 23.5px,#d9c17c 34.5px,#ceb161 51.5px,#ceb161 59.5px,#e0cd94 77.5px,#e5d3a2 88.5px,#e5d4a3 140.5px,#e2cf9a 150.5px,#dcc686 156.5px,#d1b467 161.5px,#be993f 166.5px,#a5711c 170.5px,#91540d 173.5px,#7a3907 177.5px,#692a04 181.5px,#662803 185.5px,#753506 190.5px,#8c4d0c 194.5px,#9e6616 197.5px,#b0842a 200.5px,#c4a24b 204.5px,#d7be77 211.5px,#dfcb8f 218.5px,#e2ce97 227.5px,#dec98d 239.5px,#dac380 246.5px)"></i>
<i style="top:169px;background:linear-gradient(90deg,#d6bc74 0.5px,#dbc584 23.5px,#d8c07b 34.5px,#cfb162 50.5px,#ceb060 58.5px,#e1cd95 77.5px,#e5d3a2 89.5px,#e5d3a2 143.5px,#e1ce96 152.5px,#d9c27e 158.5px,#c4a24b 165.5px,#b58a30 168.5px,#9a6113 172.5px,#7d3b07 177.5px,#682904 182.5px,#672803 186.5px,#783707 191.5px,#94580f 196.5px,#ad7f25 200.5px,#c29f47 204.5px,#d7bf79 212.5px,#dfcb90 219.5px,#e2ce98 228.5px,#deca8d 240.5px,#dbc582 246.5px)"></i>
<i style="top:170px;background:linear-gradient(90deg,#d6bd75 0.5px,#dbc583 23.5px,#d7bf78 35.5px,#ceb161 50.5px,#cfb162 58.5px,#e1ce96 77.5px,#e5d4a3 89.5px,#e5d3a2 143.5px,#e2cf98 152.5px,#dac481 158.5px,#caaa57 164.5px,#bd983e 167.5px,#a4701c 171.5px,#91530d 174.5px,#7a3907 178.5px,#692a04 182.5px,#662803 186.5px,#763606 191.5px,#91540e 196.5px,#aa7a21 200.5px,#c09c43 204.5px,#d6bd76 212.5px,#dfcb8f 219.5px,#e2cf98 228.5px,#dfca8f 240.5px,#dcc685 246.5px)"></i>
<i style="top:171px;background:linear-gradient(90deg,#d6bd76 0.5px,#dbc582 23.5px,#d7be77 35.5px,#cfb162 49.5px,#ceb161 57.5px,#e1cd95 76.5px,#e5d4a3 88.5px,#e5d3a2 144.5px,#e1ce97 153.5px,#d9c27e 159.5px,#c4a24b 166.5px,#b4892f 169.5px,#9a6013 173.5px,#7d3b07 178.5px,#682904 183.5px,#672904 187.5px,#793807 192.5px,#94580f 197.5px,#ad7f25 201.5px,#c29f46 205.5px,#d7bf79 213.5px,#dfcb90 220.5px,#e2cf98 229.5px,#dfcb8f 241.5px,#dcc787 246.5px)"></i>
<i style="top:172px;background:linear-gradient(90deg,#d6be77 0.5px,#dac482 23.5px,#d6bd76 35.5px,#ceb161 49.5px,#cfb162 57.5px,#e1ce96 76.5px,#e5d4a3 88.5px,#e5d4a3 144.5px,#e2cf98 153.5px,#dac481 159.5px,#caaa56 165.5px,#bd973d 168.5px,#a4701b 172.5px,#90530d 175.5px,#7a3807 179.5px,#692a04 183.5px,#672904 187.5px,#773606 192.5px,#92540e 197.5px,#aa7a21 201.5px,#c09c42 205.5px,#d6bd76 213.5px,#dfca8f 220.5px,#e2cf98 229.5px,#dfcb91 241.5px,#ddc889 246.5px)"></i>
<i style="top:173px;background:linear-gradient(90deg,#d7be77 0.5px,#dac481 23.5px,#d6bc74 35.5px,#ceb161 49.5px,#cfb162 56.5px,#e2ce97 76.5px,#e5d4a3 88.5px,#e5d4a3 145.5px,#e1ce97 154.5px,#d9c27e 160.5px,#c4a14a 167.5px,#b3882e 170.5px,#995f12 174.5px,#7c3b07 179.5px,#6b2c04 183.5px,#682904 187.5px,#753506 192.5px,#8f510d 197.5px,#a06b18 200.5px,#b2872d 203.5px,#c29e45 206.5px,#d7be78 214.5px,#dfcb90 221.5px,#e2cf99 230.5px,#e0cb91 242.5px,#dec98c 246.5px)"></i>
<i style="top:174px;background:linear-gradient(90deg,#d7be78 0.5px,#dac380 23.5px,#d4ba71 36.5px,#ceb161 49.5px,#cfb263 56.5px,#e1ce96 75.5px,#e5d4a3 87.5px,#e5d4a3 145.5px,#e2cf98 154.5px,#dac481 160.5px,#c9a956 166.5px,#bc963c 169.5px,#a36f1b 173.5px,#965a0f 175.5px,#7a3907 180.5px,#692a04 185.5px,#6d2e05 190.5px,#824109 195.5px,#975c10 199.5px,#af8228 203.5px,#c3a049 207.5px,#d8c07a 215.5px,#dfcb91 222.5px,#e2cf99 232.5px,#deca8e 246.5px)"></i>
<i style="top:175px;background:linear-gradient(90deg,#d7bf78 0.5px,#dac37f 23.5px,#d3b96e 37.5px,#ceb061 49.5px,#cfb264 56.5px,#e1cd95 74.5px,#e5d4a3 86.5px,#e6d4a3 145.5px,#e2cf9a 154.5px,#dbc584 160.5px,#cbac5a 166.5px,#bf9a40 169.5px,#a6731e 173.5px,#93560e 176.5px,#783707 181.5px,#692a04 186.5px,#6f2f05 191.5px,#854409 196.5px,#9a6113 200.5px,#b2862c 204.5px,#c5a34c 208.5px,#d7be77 215.5px,#dfcb90 222.5px,#e2cf99 231.5px,#e0cc91 244.5px,#dfcb8f 246.5px)"></i>
<i style="top:176px;background:linear-gradient(90deg,#d7bf79 0.5px,#d9c27f 22.5px,#d3b96f 36.5px,#ceb161 48.5px,#cfb263 55.5px,#e1ce96 74.5px,#e6d4a3 86.5px,#e6d4a3 146.5px,#e2cf99 155.5px,#dcc686 160.5px,#d0b365 165.5px,#bc953b 170.5px,#a26e1a 174.5px,#96590f 176.5px,#7b3907 181.5px,#6b2c04 186.5px,#6e2f05 191.5px,#834109 196.5px,#975c10 200.5px,#af8228 204.5px,#c3a048 208.5px,#d7bf79 216.5px,#dfcb91 223.5px,#e2cf99 233.5px,#e0cb91 246.5px)"></i>
<i style="top:177px;background:linear-gradient(90deg,#d7bf79 0.5px,#d9c27e 22.5px,#d2b76c 37.5px,#ceb061 49.5px,#d0b365 55.5px,#e2ce97 74.5px,#e6d4a4 86.5px,#e6d4a3 147.5px,#e2ce98 156.5px,#dbc584 161.5px,#cbab59 167.5px,#be9a40 170.5px,#a6731d 174.5px,#93560e 177.5px,#793807 182.5px,#6b2c04 187.5px,#703105 192.5px,#85440a 197.5px,#9a6113 201.5px,#b1852b 205.5px,#c4a24b 209.5px,#d8c07b 217.5px,#e0cc91 224.5px,#e2cf9a 234.5px,#e0cc93 246.5px)"></i>
<i style="top:178px;background:linear-gradient(90deg,#d7bf79 0.5px,#d9c27d 22.5px,#ceb161 46.5px,#cfb264 54.5px,#e1ce96 73.5px,#e6d4a4 85.5px,#e6d4a4 147.5px,#e2cf99 156.5px,#dcc686 161.5px,#d0b365 166.5px,#c19d44 170.5px,#a97820 174.5px,#965a0f 177.5px,#7c3a07 182.5px,#6c2d04 187.5px,#703005 192.5px,#834209 197.5px,#975c10 201.5px,#af8127 205.5px,#c29f47 209.5px,#d7bf79 217.5px,#dfcb90 224.5px,#e2d09a 234.5px,#e1cd94 246.5px)"></i>
<i style="top:179px;background:linear-gradient(90deg,#d8bf7a 0.5px,#d9c17c 22.5px,#ceb161 46.5px,#d0b365 54.5px,#e2ce97 73.5px,#e6d4a4 85.5px,#e6d4a4 148.5px,#e2cf98 157.5px,#dbc584 162.5px,#cbab59 168.5px,#be993f 171.5px,#ac7d23 174.5px,#93560e 178.5px,#7a3907 183.5px,#6d2d05 188.5px,#723205 193.5px,#86450a 198.5px,#9a6113 202.5px,#b1852b 206.5px,#c4a24a 210.5px,#d8c07b 218.5px,#e0cc91 225.5px,#e2d09a 235.5px,#e1cd95 246.5px)"></i>
<i style="top:180px;background:linear-gradient(90deg,#d8c07a 0.5px,#d8c17c 22.5px,#ceb161 45.5px,#d0b364 53.5px,#e2cf98 73.5px,#e6d5a5 86.5px,#e6d4a4 149.5px,#e2cf99 157.5px,#dcc786 162.5px,#d0b364 167.5px,#c19d43 171.5px,#a97820 175.5px,#965a0f 178.5px,#7d3b07 183.5px,#6e2e05 188.5px,#713105 193.5px,#844309 198.5px,#975c10 202.5px,#ae8127 206.5px,#c29f46 210.5px,#d7bf78 218.5px,#dfcb90 225.5px,#e3d09a 235.5px,#e1ce96 246.5px)"></i>
<i style="top:181px;background:linear-gradient(90deg,#d8c07a 0.5px,#d8c07b 21.5px,#ceb161 44.5px,#cfb264 52.5px,#e2ce97 72.5px,#e6d4a4 84.5px,#e6d4a4 149.5px,#e2cf98 158.5px,#dbc584 163.5px,#caab58 169.5px,#be993f 172.5px,#ac7d23 175.5px,#93560e 179.5px,#7b3a07 184.5px,#6e2f05 189.5px,#733306 194.5px,#86460a 199.5px,#9a6113 203.5px,#b1842a 207.5px,#c4a14a 211.5px,#d8c07a 219.5px,#e0cb91 226.5px,#e3d09a 236.5px,#e2ce97 246.5px)"></i>
<i style="top:182px;background:linear-gradient(90deg,#d8c07a 0.5px,#d8c07b 21.5px,#ceb161 44.5px,#d0b365 52.5px,#e2cf98 72.5px,#e6d5a5 85.5px,#e6d4a4 150.5px,#e2cf9a 158.5px,#dcc786 163.5px,#d0b364 168.5px,#c09d43 172.5px,#a87720 176.5px,#965a0f 179.5px,#7e3c08 184.5px,#6f3005 189.5px,#733206 194.5px,#844309 199.5px,#975c10 203.5px,#ae8026 207.5px,#c29f46 211.5px,#d7be78 219.5px,#dfcb90 226.5px,#e3d09b 236.5px,#e2cf98 246.5px)"></i>
<i style="top:183px;background:linear-gradient(90deg,#d8c07a 0.5px,#d8bf7a 21.5px,#ceb161 43.5px,#d0b264 51.5px,#e2cf99 72.5px,#e6d5a5 85.5px,#e6d4a5 150.5px,#e3d09b 158.5px,#ddc889 163.5px,#d1b568 168.5px,#be983e 173.5px,#ac7c23 176.5px,#93560e 180.5px,#7c3b07 185.5px,#703005 190.5px,#743406 195.5px,#87460a 200.5px,#9a6113 204.5px,#b0842a 208.5px,#c3a149 212.5px,#d8bf7a 220.5px,#dfcb91 227.5px,#e3d09b 237.5px,#e2cf99 246.5px)"></i>
<i style="top:184px;background:linear-gradient(90deg,#d8c07b 0.5px,#d7bf79 21.5px,#ceb161 42.5px,#d0b365 51.5px,#e2cf99 71.5px,#e6d5a5 84.5px,#e6d4a5 151.5px,#e3d09a 159.5px,#dcc787 164.5px,#d0b264 169.5px,#c09d43 173.5px,#a87720 177.5px,#965a0f 180.5px,#7f3d08 185.5px,#713105 190.5px,#743406 195.5px,#85440a 200.5px,#985d10 204.5px,#ae8026 208.5px,#c19e45 212.5px,#d7be77 220.5px,#dfcb90 227.5px,#e3d09b 237.5px,#e2cf9a 246.5px)"></i>
<i style="top:185px;background:linear-gradient(90deg,#d8c07b 0.5px,#d7be78 21.5px,#ceb161 42.5px,#d0b365 50.5px,#e2cf9a 71.5px,#e6d5a6 84.5px,#e6d5a5 151.5px,#e3d09c 159.5px,#ddc889 164.5px,#d1b568 169.5px,#bd983e 174.5px,#ab7c23 177.5px,#93570e 181.5px,#7d3c07 186.5px,#713105 191.5px,#763506 196.5px,#87470a 201.5px,#9a6113 205.5px,#b0842a 209.5px,#c3a048 213.5px,#d7bf79 221.5px,#dfcb91 228.5px,#e3d09b 238.5px,#e3d09a 246.5px)"></i>
<i style="top:186px;background:linear-gradient(90deg,#d8c07b 0.5px,#d7be77 21.5px,#ceb161 41.5px,#d0b366 50.5px,#e2cf99 70.5px,#e6d5a6 83.5px,#e6d5a5 152.5px,#e3d09b 160.5px,#dcc787 165.5px,#d0b264 170.5px,#c09c43 174.5px,#a8771f 178.5px,#965a0f 181.5px,#803e08 186.5px,#723206 191.5px,#753506 196.5px,#86450a 201.5px,#985d11 205.5px,#b3872d 210.5px,#c5a24c 214.5px,#d8c07b 222.5px,#e0cc92 229.5px,#e3d09b 239.5px,#e3d09b 246.5px)"></i>
<i style="top:187px;background:linear-gradient(90deg,#d8c07b 0.5px,#d7be77 20.5px,#ceb161 40.5px,#d0b365 49.5px,#e2cf9a 70.5px,#e6d5a6 83.5px,#e6d5a5 152.5px,#e3d09c 160.5px,#ddc88a 165.5px,#d1b568 170.5px,#bd983e 175.5px,#ab7c22 178.5px,#93570e 182.5px,#7e3c08 187.5px,#733306 192.5px,#773606 197.5px,#88480a 202.5px,#9a6113 206.5px,#b08329 210.5px,#c3a048 214.5px,#d7bf79 222.5px,#dfcb90 229.5px,#e3d09b 239.5px,#e3d09b 246.5px)"></i>
<i style="top:188px;background:linear-gradient(90deg,#d8c07b 0.5px,#d6bd76 20.5px,#ceb061 40.5px,#d0b466 49.5px,#e2cf99 69.5px,#e6d5a6 82.5px,#e6d5a5 153.5px,#e3d09b 161.5px,#dcc787 166.5px,#cfb264 171.5px,#c09c42 175.5px,#a8771f 179.5px,#965a0f 182.5px,#803e08 187.5px,#743406 192.5px,#773606 197.5px,#86460a 202.5px,#985d11 206.5px,#b2872d 211.5px,#c4a24b 215.5px,#d8c07b 223.5px,#e0cc91 230.5px,#e3d09b 240.5px,#e3d09c 246.5px)"></i>
<i style="top:189px;background:linear-gradient(90deg,#d8c07b 0.5px,#d6bd75 20.5px,#ceb061 39.5px,#d0b365 48.5px,#e2cf9a 69.5px,#e6d5a6 82.5px,#e6d5a6 153.5px,#e3d19c 161.5px,#ddc88a 166.5px,#d1b568 171.5px,#bd973d 176.5px,#ab7b22 179.5px,#93570e 183.5px,#7f3d08 188.5px,#743406 193.5px,#793807 198.5px,#88490b 203.5px,#9b6113 207.5px,#b08329 211.5px,#c3a047 215.5px,#d7be78 223.5px,#dfcb90 230.5px,#e3d09b 240.5px,#e3d09c 246.5px)"></i>
<i style="top:190px;background:linear-gradient(90deg,#d8c07b 0.5px,#d6bc74 20.5px,#ceb060 39.5px,#d0b466 48.5px,#e2cf99 68.5px,#e6d5a6 81.5px,#e6d5a6 154.5px,#e3d09b 162.5px,#dcc787 167.5px,#cfb264 172.5px,#c09c42 176.5px,#a8761f 180.5px,#965a0f 183.5px,#813f08 188.5px,#753506 193.5px,#783707 198.5px,#87470a 203.5px,#985d11 207.5px,#b2872d 212.5px,#c4a24b 216.5px,#d8c07a 224.5px,#e0cc91 231.5px,#e3d09c 241.5px,#e3d19c 246.5px)"></i>
<i style="top:191px;background:linear-gradient(90deg,#d8c07b 0.5px,#d5bc73 20.5px,#ceb060 38.5px,#d0b365 47.5px,#e2d09a 68.5px,#e7d5a7 81.5px,#e6d5a6 154.5px,#e3d19d 162.5px,#ddc88a 167.5px,#d1b568 172.5px,#bd973d 177.5px,#ab7b22 180.5px,#93570e 184.5px,#803e08 189.5px,#763506 194.5px,#7d3b07 200.5px,#91540e 206.5px,#a5721d 210.5px,#c29f47 216.5px,#d7be78 224.5px,#dfcb90 231.5px,#e3d09b 241.5px,#e3d19c 246.5px)"></i>
<i style="top:192px;background:linear-gradient(90deg,#d8c07b 0.5px,#d5bb72 20.5px,#ceb060 37.5px,#d0b365 46.5px,#e3d09b 68.5px,#e7d6a7 82.5px,#e6d5a6 155.5px,#e3d09c 163.5px,#ddc788 168.5px,#cfb264 173.5px,#c09c42 177.5px,#a7761f 181.5px,#965a0f 184.5px,#814008 189.5px,#763606 195.5px,#7f3d08 201.5px,#94570e 207.5px,#ad7f25 212.5px,#c4a14a 217.5px,#d8bf7a 225.5px,#e0cb91 232.5px,#e3d09c 242.5px,#e3d19c 246.5px)"></i>
<i style="top:193px;background:linear-gradient(90deg,#d8c07b 0.5px,#d5bb72 19.5px,#ceb060 37.5px,#d0b366 46.5px,#e2d09a 67.5px,#e7d5a7 80.5px,#e7d5a7 155.5px,#e4d19d 163.5px,#ddc98b 168.5px,#d1b568 173.5px,#bd973d 178.5px,#aa7b22 181.5px,#93560e 185.5px,#803e08 190.5px,#773606 196.5px,#813f08 202.5px,#965b0f 208.5px,#b08329 213.5px,#c29f47 217.5px,#d7be77 225.5px,#dfcb90 232.5px,#e3d09c 242.5px,#e3d19c 246.5px)"></i>
<i style="top:194px;background:linear-gradient(90deg,#d8c07b 0.5px,#d4ba71 19.5px,#ceb060 36.5px,#d0b365 45.5px,#e3d09b 67.5px,#e7d6a8 81.5px,#e7d5a7 156.5px,#e3d19c 164.5px,#ddc788 169.5px,#cfb264 174.5px,#c09b41 178.5px,#a7751f 182.5px,#965a0f 185.5px,#824009 190.5px,#783707 196.5px,#803e08 202.5px,#94580e 208.5px,#ad7f25 213.5px,#c4a14a 218.5px,#d7bf79 226.5px,#dfcb91 233.5px,#e3d09c 243.5px,#e3d19c 246.5px)"></i>
<i style="top:195px;background:linear-gradient(90deg,#d8c07a 0.5px,#d4ba70 19.5px,#ceb060 35.5px,#d0b364 44.5px,#e3d09a 66.5px,#e7d6a7 79.5px,#e7d6a7 156.5px,#e4d19e 164.5px,#dec98b 169.5px,#d1b568 174.5px,#bc963c 179.5px,#a4701c 183.5px,#93560e 186.5px,#813f08 191.5px,#783707 197.5px,#824009 203.5px,#975b10 209.5px,#b08329 214.5px,#c29f46 218.5px,#d8c17c 227.5px,#e0cc92 234.5px,#e3d19c 245.5px,#e3d19c 246.5px)"></i>
<i style="top:196px;background:linear-gradient(90deg,#d8c07a 0.5px,#d4b96f 19.5px,#ceb05f 35.5px,#d0b365 44.5px,#e2cf99 65.5px,#e7d6a7 78.5px,#e7d6a8 156.5px,#e3d19d 165.5px,#ddc788 170.5px,#cfb264 175.5px,#bf9b41 179.5px,#a7751e 183.5px,#95590f 186.5px,#824109 191.5px,#793807 197.5px,#813f08 203.5px,#95590f 209.5px,#ad7f25 214.5px,#c4a14a 219.5px,#d7bf79 227.5px,#dfcb91 234.5px,#e3d09c 244.5px,#e3d19c 246.5px)"></i>
<i style="top:197px;background:linear-gradient(90deg,#d8c07a 0.5px,#d3b96e 19.5px,#ceaf5f 34.5px,#d0b364 43.5px,#e3d09a 65.5px,#e7d6a7 78.5px,#e7d6a8 157.5px,#e4d29e 165.5px,#dec98b 170.5px,#d1b568 175.5px,#bc963c 180.5px,#aa7921 183.5px,#93560e 187.5px,#813f08 192.5px,#7a3907 198.5px,#834109 204.5px,#975c10 210.5px,#b08329 215.5px,#c29f46 219.5px,#d8c07b 228.5px,#e0cc92 235.5px,#e3d19c 246.5px)"></i>
<i style="top:198px;background:linear-gradient(90deg,#d8c07a 0.5px,#d3b86d 19.5px,#cdaf5f 34.5px,#d0b365 43.5px,#e2cf9a 64.5px,#e7d6a7 77.5px,#e7d6a9 156.5px,#e4d2a0 165.5px,#dfca8e 170.5px,#d3b76c 175.5px,#bf9a40 180.5px,#a6741e 184.5px,#95590f 187.5px,#824109 192.5px,#7a3907 198.5px,#824109 204.5px,#95590f 210.5px,#ad7f25 215.5px,#c3a149 220.5px,#d7bf79 228.5px,#dfcb91 235.5px,#e3d09c 245.5px,#e3d19c 246.5px)"></i>
<i style="top:199px;background:linear-gradient(90deg,#d8c07a 0.5px,#d3b76c 19.5px,#cdaf5f 33.5px,#d0b364 42.5px,#e2cf99 63.5px,#e7d6a7 76.5px,#e8d7aa 153.5px,#e5d4a3 164.5px,#dfcb91 170.5px,#d4ba70 175.5px,#bc953b 181.5px,#a97921 184.5px,#93560e 188.5px,#814008 193.5px,#7b3a07 199.5px,#844309 205.5px,#985d11 211.5px,#b08329 216.5px,#c29f46 220.5px,#d8c07b 229.5px,#e0cc92 236.5px,#e3d09c 246.5px)"></i>
<i style="top:200px;background:linear-gradient(90deg,#d8c07a 0.5px,#d2b76b 19.5px,#cdaf5e 33.5px,#d0b365 42.5px,#e2cf98 62.5px,#e7d6a7 75.5px,#e8d8ab 142.5px,#e6d5a5 163.5px,#e2ce97 169.5px,#d8c17c 174.5px,#bf9a40 181.5px,#ac7e24 184.5px,#95590f 188.5px,#834109 193.5px,#7c3a07 199.5px,#834209 205.5px,#965a0f 211.5px,#ae7f25 216.5px,#c3a149 221.5px,#d7bf79 229.5px,#dfcb90 236.5px,#e3d09c 246.5px)"></i>
<i style="top:201px;background:linear-gradient(90deg,#d8bf7a 0.5px,#d2b66a 19.5px,#cdaf5e 32.5px,#d0b364 41.5px,#e2cf99 62.5px,#e7d6a8 76.5px,#e7d7a9 158.5px,#e4d29f 167.5px,#dec98c 172.5px,#d1b568 177.5px,#bb953b 182.5px,#a97820 185.5px,#92550e 189.5px,#824009 194.5px,#7c3b07 200.5px,#85440a 206.5px,#995e11 212.5px,#b08329 217.5px,#c29f46 221.5px,#d8c07b 230.5px,#e0cc91 237.5px,#e3d09c 246.5px)"></i>
<i style="top:202px;background:linear-gradient(90deg,#d7bf7a 0.5px,#d1b669 19.5px,#cdaf5e 32.5px,#d0b365 41.5px,#e2cf99 61.5px,#e7d6a8 74.5px,#e8d8ab 134.5px,#e7d5a7 163.5px,#e2cf98 170.5px,#d8c17c 175.5px,#be993f 182.5px,#ac7d23 185.5px,#95580f 189.5px,#834209 194.5px,#7d3b07 200.5px,#844409 206.5px,#975b10 212.5px,#ae8026 217.5px,#c3a149 222.5px,#d9c17d 231.5px,#e0cc92 238.5px,#e3d09b 246.5px)"></i>
<i style="top:203px;background:linear-gradient(90deg,#d7bf79 0.5px,#d1b467 20.5px,#cdae5e 32.5px,#d0b466 41.5px,#e2cf98 60.5px,#e7d6a7 73.5px,#e8d8ab 121.5px,#e7d6a8 162.5px,#e3d19d 169.5px,#dcc686 174.5px,#c9a956 180.5px,#bb943a 183.5px,#a87720 186.5px,#92550e 190.5px,#824009 195.5px,#7e3c08 201.5px,#89490b 208.5px,#995f12 213.5px,#b0842a 218.5px,#c29f46 222.5px,#d8c07b 231.5px,#e0cc91 238.5px,#e3d09b 246.5px)"></i>
<i style="top:204px;background:linear-gradient(90deg,#d7bf79 0.5px,#d0b366 20.5px,#cdae5e 32.5px,#d0b365 40.5px,#e2cf99 60.5px,#e7d6a8 73.5px,#e8d8ac 131.5px,#e7d6a8 163.5px,#e3d09c 170.5px,#dbc583 175.5px,#c3a048 182.5px,#ab7c22 186.5px,#94580e 190.5px,#834209 195.5px,#7e3c08 201.5px,#88480b 208.5px,#985d11 213.5px,#ae8026 218.5px,#c3a149 223.5px,#d9c17d 232.5px,#e0cc92 239.5px,#e3d09b 246.5px)"></i>
<i style="top:205px;background:linear-gradient(90deg,#d7bf79 0.5px,#cfb162 22.5px,#cdaf5e 33.5px,#d1b569 41.5px,#e2cf98 59.5px,#e7d6a8 72.5px,#e8d8ac 121.5px,#e7d6a9 163.5px,#e4d19d 170.5px,#dcc786 175.5px,#c9a956 181.5px,#bb943a 184.5px,#a8761f 187.5px,#965a0f 190.5px,#844309 195.5px,#7f3d08 201.5px,#88480a 208.5px,#9a6113 214.5px,#b1842a 219.5px,#c29f46 223.5px,#d8c07b 232.5px,#e0cc91 239.5px,#e3d09a 246.5px)"></i>
<i style="top:206px;background:linear-gradient(90deg,#d7bf79 0.5px,#cdae5d 29.5px,#cfb263 38.5px,#e2cf9a 59.5px,#e7d6a8 72.5px,#e8d8ac 132.5px,#e7d6a8 164.5px,#e3d19c 171.5px,#dbc583 176.5px,#c3a048 183.5px,#ab7b22 187.5px,#94570e 191.5px,#834209 196.5px,#803e08 202.5px,#8a4a0b 209.5px,#995e11 214.5px,#af8127 219.5px,#c4a14a 224.5px,#d9c17d 233.5px,#e0cc92 240.5px,#e2cf9a 246.5px)"></i>
<i style="top:207px;background:linear-gradient(90deg,#d7bf78 0.5px,#ccae5d 28.5px,#cfb162 37.5px,#e2cf99 58.5px,#e7d6a8 71.5px,#e8d9ac 122.5px,#e7d7a9 164.5px,#e4d19e 171.5px,#dcc787 176.5px,#c9a956 182.5px,#ba9339 185.5px,#a7751f 188.5px,#965a0f 191.5px,#844309 196.5px,#813f08 202.5px,#8b4c0c 210.5px,#9b6214 215.5px,#b1852b 220.5px,#c29f46 224.5px,#d8c07b 233.5px,#e0cc91 240.5px,#e2cf99 246.5px)"></i>
<i style="top:208px;background:linear-gradient(90deg,#d7bf78 0.5px,#ccae5d 27.5px,#cfb263 37.5px,#e3d09a 58.5px,#e7d7a9 71.5px,#e9d9ac 134.5px,#e7d7a9 165.5px,#e3d19d 172.5px,#dbc583 177.5px,#c3a047 184.5px,#aa7a21 188.5px,#93560e 192.5px,#86450a 196.5px,#814008 202.5px,#8b4c0b 210.5px,#9a6012 215.5px,#af8228 220.5px,#c4a14a 225.5px,#d9c17d 234.5px,#e0cc92 241.5px,#e2cf99 246.5px)"></i>
<i style="top:209px;background:linear-gradient(90deg,#d7be78 0.5px,#ccae5c 26.5px,#cfb162 36.5px,#e2cf99 57.5px,#e7d7a9 70.5px,#e9d9ad 122.5px,#e8d7aa 165.5px,#e4d29e 172.5px,#dcc787 177.5px,#c9a955 183.5px,#ba9238 186.5px,#a7741e 189.5px,#95590f 192.5px,#87470a 196.5px,#824109 202.5px,#8b4c0b 210.5px,#985e11 215.5px,#ad7f25 220.5px,#c29f47 225.5px,#d8c07b 234.5px,#e0cc91 241.5px,#e2cf98 246.5px)"></i>
<i style="top:210px;background:linear-gradient(90deg,#d7be78 0.5px,#ccad5c 26.5px,#ceb161 35.5px,#e3d09b 57.5px,#e7d7a9 70.5px,#e9d9ad 135.5px,#e8d7a9 166.5px,#e3d19d 173.5px,#dbc584 178.5px,#c29f47 185.5px,#aa7921 189.5px,#93570e 193.5px,#85450a 198.5px,#844309 205.5px,#91540d 213.5px,#9e6717 217.5px,#af8228 221.5px,#c4a14a 226.5px,#d9c17d 235.5px,#e0cc92 242.5px,#e2cf98 246.5px)"></i>
<i style="top:211px;background:linear-gradient(90deg,#d7be77 0.5px,#ccad5c 25.5px,#cfb162 35.5px,#e2d09a 56.5px,#e7d7a9 69.5px,#e9d9ad 122.5px,#e8d7aa 166.5px,#e4d29f 173.5px,#dcc787 178.5px,#c9a955 184.5px,#b99238 187.5px,#a7741e 190.5px,#965a0f 193.5px,#87470a 198.5px,#85440a 205.5px,#91530d 213.5px,#9d6515 217.5px,#ae8026 221.5px,#c29f47 226.5px,#d8c07b 235.5px,#e0cc91 242.5px,#e2ce97 246.5px)"></i>
<i style="top:212px;background:linear-gradient(90deg,#d7be77 0.5px,#ccad5c 24.5px,#ceb161 34.5px,#e2cf99 55.5px,#e7d7a9 68.5px,#e9d9ad 112.5px,#e8d7aa 167.5px,#e4d19d 174.5px,#dbc584 179.5px,#c29f47 186.5px,#aa7a21 190.5px,#95580f 194.5px,#87470a 199.5px,#86460a 206.5px,#92560e 214.5px,#a36f1b 219.5px,#b08329 222.5px,#c4a24b 227.5px,#d9c17d 236.5px,#e0cc93 243.5px,#e1ce97 246.5px)"></i>
<i style="top:213px;background:linear-gradient(90deg,#d6be77 0.5px,#ccad5b 24.5px,#cfb162 34.5px,#e3d09a 55.5px,#e8d7aa 68.5px,#e9d9ae 121.5px,#e8d8ab 167.5px,#e4d29f 174.5px,#dcc787 179.5px,#c9a855 185.5px,#ba9238 188.5px,#a8761f 191.5px,#93570e 195.5px,#87470a 200.5px,#88480b 208.5px,#94580f 215.5px,#aa7a21 221.5px,#c3a048 227.5px,#d8c07b 236.5px,#e0cc92 243.5px,#e1ce96 246.5px)"></i>
<i style="top:214px;background:linear-gradient(90deg,#d6bd76 0.5px,#ccad5b 23.5px,#ceb061 33.5px,#e2cf99 54.5px,#e8d7aa 67.5px,#e9daae 111.5px,#e8d7aa 168.5px,#e4d19e 175.5px,#dbc584 180.5px,#c2a047 187.5px,#ab7c22 191.5px,#965a0f 195.5px,#89490b 200.5px,#88480b 207.5px,#94570e 215.5px,#a87720 221.5px,#c4a24b 228.5px,#d9c27d 237.5px,#e0cc93 244.5px,#e1cd95 246.5px)"></i>
<i style="top:215px;background:linear-gradient(90deg,#d6bd76 0.5px,#ccad5b 22.5px,#ceb060 32.5px,#e3d09b 54.5px,#e8d7aa 67.5px,#e9daae 120.5px,#e8d8ab 168.5px,#e4d2a0 175.5px,#ddc788 180.5px,#c5a34d 187.5px,#a97820 192.5px,#95590f 196.5px,#89490b 201.5px,#8a4b0b 209.5px,#965a0f 216.5px,#af8228 223.5px,#c3a048 228.5px,#d8c07b 237.5px,#e0cc92 244.5px,#e1cd94 246.5px)"></i>
<i style="top:216px;background:linear-gradient(90deg,#d6bd76 0.5px,#ccac5b 22.5px,#ceb060 32.5px,#e2cf9a 53.5px,#e8d7aa 66.5px,#e9daae 110.5px,#e8d8ab 169.5px,#e4d29e 176.5px,#dbc684 181.5px,#c3a049 188.5px,#ad7e24 192.5px,#985d10 196.5px,#8c4d0c 200.5px,#89490b 206.5px,#91540d 214.5px,#9e6716 219.5px,#b1852b 224.5px,#c5a34c 229.5px,#d9c27d 238.5px,#e0cc92 245.5px,#e0cd94 246.5px)"></i>
<i style="top:217px;background:linear-gradient(90deg,#d6bd75 0.5px,#ccac5b 21.5px,#ceb05f 31.5px,#e3d09b 53.5px,#e8d8ab 66.5px,#e9daaf 119.5px,#e8d8ac 169.5px,#e4d2a0 176.5px,#ddc788 181.5px,#c6a44e 188.5px,#aa7a21 193.5px,#965b0f 197.5px,#8b4c0b 202.5px,#8c4d0c 210.5px,#975c10 217.5px,#ac7d23 223.5px,#c3a149 229.5px,#d8c17c 238.5px,#e0cc92 245.5px,#e0cc93 246.5px)"></i>
<i style="top:218px;background:linear-gradient(90deg,#d6bc75 0.5px,#cbac5a 21.5px,#cdaf5e 30.5px,#d9c37f 42.5px,#e4d19e 54.5px,#e8d9ac 68.5px,#e9d9ad 168.5px,#e5d3a2 176.5px,#dec98c 181.5px,#d0b365 186.5px,#bf9b41 190.5px,#a8761f 194.5px,#95590f 198.5px,#8b4c0b 203.5px,#8d4e0c 211.5px,#995f12 218.5px,#ae8026 224.5px,#c5a34d 230.5px,#d9c27e 239.5px,#dfcb91 245.5px,#e0cc92 246.5px)"></i>
<i style="top:219px;background:linear-gradient(90deg,#d6bc74 0.5px,#cbac5a 20.5px,#cdae5d 29.5px,#d7be77 39.5px,#e4d19d 53.5px,#e8d9ac 67.5px,#e9d9ae 167.5px,#e6d4a3 176.5px,#dfcb90 181.5px,#d2b66a 186.5px,#bd973d 191.5px,#ab7c22 194.5px,#985d11 198.5px,#8d4f0c 202.5px,#8c4d0c 209.5px,#965a0f 217.5px,#a97820 223.5px,#c4a14a 230.5px,#d8c17c 239.5px,#dfcb8f 245.5px,#dfcb91 246.5px)"></i>
<i style="top:220px;background:linear-gradient(90deg,#d5bc74 0.5px,#cbac5a 19.5px,#ccae5d 28.5px,#d5bb72 37.5px,#e3d19c 52.5px,#e8d8ac 65.5px,#eadaaf 130.5px,#e8d8ac 171.5px,#e4d29f 178.5px,#dcc787 183.5px,#c09c43 191.5px,#a97820 195.5px,#975b10 199.5px,#8c4e0c 204.5px,#8f510d 212.5px,#985d11 218.5px,#ab7c22 224.5px,#c2a047 230.5px,#d9c27e 240.5px,#dfcb90 246.5px)"></i>
<i style="top:221px;background:linear-gradient(90deg,#d5bc73 0.5px,#cbac5a 19.5px,#cdae5d 28.5px,#d5bc74 37.5px,#e3d09c 51.5px,#e8d8ac 64.5px,#eadaaf 116.5px,#e9d9ad 171.5px,#e5d3a1 178.5px,#ddc88a 183.5px,#cbac59 189.5px,#b88f35 193.5px,#a7751e 196.5px,#96590f 200.5px,#8d4e0c 205.5px,#91540d 214.5px,#9a6013 219.5px,#ae8026 225.5px,#c4a24b 231.5px,#d9c17c 240.5px,#dfca8f 246.5px)"></i>
<i style="top:222px;background:linear-gradient(90deg,#d5bb73 0.5px,#cbac5a 18.5px,#ccad5c 27.5px,#d5bb72 36.5px,#e3d09b 50.5px,#e8d8ac 63.5px,#eadbb0 106.5px,#e9d9ad 172.5px,#e4d2a0 179.5px,#dcc788 184.5px,#c5a34d 191.5px,#aa7a21 196.5px,#985d11 200.5px,#8e500c 205.5px,#91540d 214.5px,#9c6314 220.5px,#b08329 226.5px,#c3a048 231.5px,#d9c27f 241.5px,#deca8e 246.5px)"></i>
<i style="top:223px;background:linear-gradient(90deg,#d5bb73 0.5px,#cbac59 18.5px,#ccae5d 27.5px,#d5bc74 36.5px,#e3d09c 50.5px,#e8d8ac 63.5px,#eadbb0 114.5px,#e9d9ad 172.5px,#e5d3a2 179.5px,#dec98b 184.5px,#ccac5b 190.5px,#b99137 194.5px,#a8771f 197.5px,#975b10 201.5px,#8e500d 206.5px,#93560e 215.5px,#9e6716 221.5px,#af8127 226.5px,#c5a34c 232.5px,#d9c17d 241.5px,#dec98c 246.5px)"></i>
<i style="top:224px;background:linear-gradient(90deg,#d5bb72 0.5px,#cbac5a 17.5px,#ccad5c 26.5px,#d3b96f 34.5px,#e3d09b 49.5px,#e8d8ac 62.5px,#eadbb0 104.5px,#e9d9ad 173.5px,#e5d3a1 180.5px,#ddc889 185.5px,#c6a44e 192.5px,#ab7c22 197.5px,#995f12 201.5px,#90530d 205.5px,#91530d 213.5px,#9b6214 220.5px,#ad7f25 226.5px,#c3a149 232.5px,#d8c07b 241.5px,#dec98b 246.5px)"></i>
<i style="top:225px;background:linear-gradient(90deg,#d5bb72 0.5px,#cbab59 17.5px,#ccad5c 26.5px,#d5bc73 35.5px,#e3d19c 49.5px,#e9d9ad 62.5px,#eadbb0 112.5px,#e9d9ae 173.5px,#e5d4a3 180.5px,#dec98c 185.5px,#ccad5c 191.5px,#ba9238 195.5px,#a97920 198.5px,#985d11 202.5px,#90520d 207.5px,#94580e 216.5px,#9f6918 222.5px,#b08329 227.5px,#c5a34d 233.5px,#d9c27e 242.5px,#ddc88a 246.5px)"></i>
<i style="top:226px;background:linear-gradient(90deg,#d4ba71 0.5px,#cbac59 16.5px,#ccad5b 25.5px,#d3b96e 33.5px,#e3d09b 48.5px,#e9d9ac 61.5px,#eadbb1 102.5px,#e9d9ae 174.5px,#e5d3a2 181.5px,#ddc88a 186.5px,#c6a54f 193.5px,#ac7e24 198.5px,#9a6113 202.5px,#91540e 206.5px,#92550e 214.5px,#9c6415 221.5px,#af8127 227.5px,#c4a24b 233.5px,#d8c17c 242.5px,#ddc889 246.5px)"></i>
<i style="top:227px;background:linear-gradient(90deg,#d4ba70 0.5px,#cbab59 16.5px,#ccad5c 25.5px,#d5bb73 34.5px,#e3d19c 48.5px,#e9d9ad 61.5px,#eadbb1 109.5px,#e9daae 174.5px,#e6d4a3 181.5px,#deca8d 186.5px,#d0b466 191.5px,#bb943a 196.5px,#aa7a21 199.5px,#995f12 203.5px,#92540e 207.5px,#94570e 215.5px,#9e6717 222.5px,#ad7f25 227.5px,#c3a048 233.5px,#d9c27e 243.5px,#dcc787 246.5px)"></i>
<i style="top:228px;background:linear-gradient(90deg,#d4ba70 0.5px,#caab58 16.5px,#ccad5c 25.5px,#d7be78 35.5px,#e4d19d 48.5px,#e9d9ad 61.5px,#eadbb1 119.5px,#e9daae 175.5px,#e5d3a2 182.5px,#ddc88b 187.5px,#c7a651 194.5px,#b3872d 198.5px,#a36f1b 201.5px,#965a0f 205.5px,#91540e 211.5px,#985e11 219.5px,#a6731d 225.5px,#b3882e 229.5px,#c5a34c 234.5px,#d9c17d 243.5px,#dcc686 246.5px)"></i>
<i style="top:229px;background:linear-gradient(90deg,#d4b96f 0.5px,#cbab59 15.5px,#ccad5b 24.5px,#d4b96f 32.5px,#e3d19c 47.5px,#e9d9ad 60.5px,#eadcb1 107.5px,#e9daae 176.5px,#e5d3a1 183.5px,#ddc788 188.5px,#c19d44 196.5px,#ab7c22 200.5px,#9a6113 204.5px,#93560e 208.5px,#95590f 216.5px,#a06a18 223.5px,#af8127 228.5px,#c6a550 235.5px,#d9c37f 244.5px,#dbc684 246.5px)"></i>
<i style="top:230px;background:linear-gradient(90deg,#d3b96f 0.5px,#caab58 15.5px,#ccad5c 24.5px,#d5bc74 33.5px,#e4d19d 47.5px,#e9d9ae 60.5px,#eadcb2 116.5px,#e9daaf 176.5px,#e5d4a3 183.5px,#dec98b 188.5px,#cbac5a 194.5px,#b99137 198.5px,#a97820 201.5px,#995f12 205.5px,#93560e 209.5px,#975c10 218.5px,#a4711c 225.5px,#b1852b 229.5px,#c5a44e 235.5px,#d9c27d 244.5px,#dbc583 246.5px)"></i>
<i style="top:231px;background:linear-gradient(90deg,#d3b86e 0.5px,#caab58 15.5px,#ccae5c 24.5px,#d9c17c 35.5px,#e4d29f 47.5px,#e9daae 60.5px,#eadcb2 129.5px,#e9daaf 177.5px,#e5d3a2 184.5px,#ddc889 189.5px,#c19e45 197.5px,#ac7d23 201.5px,#9b6214 205.5px,#94570e 209.5px,#965b0f 217.5px,#a16c19 224.5px,#b08329 229.5px,#c4a24b 235.5px,#d8c17c 244.5px,#dac481 246.5px)"></i>
<i style="top:232px;background:linear-gradient(90deg,#d3b86d 0.5px,#caab58 14.5px,#ccad5b 23.5px,#d5bc74 32.5px,#e4d19e 46.5px,#e9daae 59.5px,#eadcb2 112.5px,#e9daaf 177.5px,#e6d4a4 184.5px,#dec98c 189.5px,#ccad5b 195.5px,#ba9238 199.5px,#aa7a21 202.5px,#9a6113 206.5px,#94580e 210.5px,#985d11 218.5px,#a36f1b 225.5px,#af8228 229.5px,#c6a54f 236.5px,#d9c27e 245.5px,#dac380 246.5px)"></i>
<i style="top:233px;background:linear-gradient(90deg,#d3b86d 0.5px,#caab58 14.5px,#cbac5a 22.5px,#d3b96e 30.5px,#e3d09a 44.5px,#e9d9ad 56.5px,#ebdcb2 83.5px,#eadbb0 177.5px,#e6d5a5 184.5px,#dfcb90 189.5px,#d1b669 194.5px,#bd973d 199.5px,#a8761f 203.5px,#9a6012 207.5px,#94580e 211.5px,#995f12 219.5px,#a5721d 226.5px,#b1852b 230.5px,#c5a34d 236.5px,#d8c17c 245.5px,#d9c27e 246.5px)"></i>
<i style="top:234px;background:linear-gradient(90deg,#d3b76c 0.5px,#caaa57 14.5px,#ccad5b 22.5px,#d4ba70 30.5px,#e3d09b 44.5px,#e9d9ad 56.5px,#ebdcb2 85.5px,#eadbb0 178.5px,#e6d4a4 185.5px,#deca8d 190.5px,#ccad5c 196.5px,#ba9339 200.5px,#ab7b22 203.5px,#9b6214 207.5px,#95590f 211.5px,#995f12 219.5px,#a5721d 226.5px,#b4892f 231.5px,#c7a651 237.5px,#d8c07a 245.5px,#d9c17d 246.5px)"></i>
<i style="top:235px;background:linear-gradient(90deg,#d2b76b 0.5px,#caaa58 13.5px,#cbac5a 21.5px,#d3b86e 29.5px,#e3d09a 43.5px,#e9d9ad 55.5px,#ebdcb3 81.5px,#eadbb0 178.5px,#e6d5a6 185.5px,#dfcb91 190.5px,#d2b66a 195.5px,#be983e 200.5px,#a97820 204.5px,#9a6113 208.5px,#95590f 213.5px,#9d6515 222.5px,#ad7e24 229.5px,#c6a54f 237.5px,#d7bf79 245.5px,#d8c07b 246.5px)"></i>
<i style="top:236px;background:linear-gradient(90deg,#d2b66b 0.5px,#caaa57 13.5px,#cbac5a 21.5px,#d4b96f 29.5px,#e3d09b 43.5px,#e9d9ad 55.5px,#ebdcb3 83.5px,#eadbb0 179.5px,#e6d4a5 186.5px,#dfca8e 191.5px,#cdae5d 197.5px,#bb943a 201.5px,#ac7c23 204.5px,#9c6414 208.5px,#965a0f 212.5px,#9a6113 220.5px,#a6741e 227.5px,#b2862c 231.5px,#c5a34d 237.5px,#d7be77 245.5px,#d8bf7a 246.5px)"></i>
<i style="top:237px;background:linear-gradient(90deg,#d2b66a 0.5px,#caaa57 13.5px,#ccad5b 21.5px,#d6bc74 30.5px,#e3d19c 43.5px,#e9daae 55.5px,#ebddb3 85.5px,#eadbb0 180.5px,#e6d4a3 187.5px,#dec98b 192.5px,#c7a651 199.5px,#a97921 205.5px,#9b6214 209.5px,#965a0f 214.5px,#9e6717 223.5px,#ae8026 230.5px,#c7a651 238.5px,#d6bd75 245.5px,#d7be78 246.5px)"></i>
<i style="top:238px;background:linear-gradient(90deg,#d1b669 0.5px,#caaa57 13.5px,#ccad5c 21.5px,#d7bf79 31.5px,#e4d2a0 44.5px,#eadbb0 57.5px,#ebddb3 125.5px,#eadbb0 181.5px,#e5d3a2 188.5px,#ddc788 193.5px,#c19d44 201.5px,#ac7d23 205.5px,#9d6515 209.5px,#975c10 213.5px,#9c6314 221.5px,#a8771f 228.5px,#b78d33 233.5px,#c9a854 239.5px,#d5bc74 245.5px,#d6bd76 246.5px)"></i>
<i style="top:239px;background:linear-gradient(90deg,#d1b569 0.5px,#caaa57 12.5px,#cbac5b 20.5px,#d4ba70 28.5px,#e3d19c 42.5px,#e9daae 54.5px,#ebddb3 83.5px,#eadbb0 181.5px,#e6d4a4 188.5px,#dec98c 193.5px,#c7a651 200.5px,#b4892f 204.5px,#a6731d 207.5px,#9a6013 211.5px,#975c10 216.5px,#a16c19 225.5px,#b08329 231.5px,#c5a34d 238.5px,#d5bb72 245.5px,#d6bc75 246.5px)"></i>
<i style="top:240px;background:linear-gradient(90deg,#d1b568 0.5px,#caaa57 12.5px,#ccad5b 20.5px,#d6bd75 29.5px,#e4d19d 42.5px,#e9daaf 54.5px,#ebddb4 86.5px,#eadbb1 181.5px,#e6d5a6 188.5px,#dfcb8f 193.5px,#cdaf5f 199.5px,#bc963c 203.5px,#a8771f 207.5px,#9b6214 211.5px,#985d11 216.5px,#a16c19 225.5px,#af8228 231.5px,#c7a651 239.5px,#d5bb73 246.5px)"></i>
<i style="top:241px;background:linear-gradient(90deg,#d1b467 0.5px,#caaa57 12.5px,#ccad5c 20.5px,#dac481 32.5px,#e5d3a1 43.5px,#eadbb0 56.5px,#ebddb4 133.5px,#eadbb1 182.5px,#e6d4a4 189.5px,#dec98c 194.5px,#c8a752 201.5px,#b48a30 205.5px,#a6741e 208.5px,#9b6113 212.5px,#985e11 217.5px,#a36f1b 226.5px,#ae8127 231.5px,#c9a854 240.5px,#d4ba71 246.5px)"></i>
<i style="top:242px;background:linear-gradient(90deg,#d0b466 0.5px,#c9aa56 12.5px,#ccae5c 20.5px,#e2cf98 39.5px,#e9d9ad 51.5px,#ebddb4 73.5px,#eadcb1 182.5px,#e6d5a6 189.5px,#dfcb90 194.5px,#d1b569 199.5px,#bd973d 204.5px,#a97820 208.5px,#9c6314 212.5px,#995e11 217.5px,#a36e1b 226.5px,#b0842a 232.5px,#c5a44d 239.5px,#d4b970 246.5px)"></i>
<i style="top:243px;background:linear-gradient(90deg,#d0b366 0.5px,#c9a956 12.5px,#cdae5d 20.5px,#e2cf9a 39.5px,#e9d9ae 51.5px,#ebddb4 74.5px,#eadcb1 183.5px,#e6d5a5 190.5px,#deca8d 195.5px,#ccad5b 201.5px,#ba9339 205.5px,#ab7c22 208.5px,#9d6516 212.5px,#995e12 217.5px,#a36e1a 226.5px,#b08329 232.5px,#c7a651 240.5px,#d3b86e 246.5px)"></i>
<i style="top:244px;background:linear-gradient(90deg,#d0b365 0.5px,#c9aa56 11.5px,#ccad5c 19.5px,#e3d09b 39.5px,#e9daae 51.5px,#ebddb4 75.5px,#eadcb2 183.5px,#e7d5a7 190.5px,#dfcb91 195.5px,#d1b669 200.5px,#bd973d 205.5px,#a97820 209.5px,#9c6415 213.5px,#995f12 218.5px,#a4711c 227.5px,#af8228 232.5px,#c9a955 241.5px,#d3b76c 246.5px)"></i>
<i style="top:245px;background:linear-gradient(90deg,#d0b264 0.5px,#c9a956 11.5px,#cdae5d 19.5px,#e2cf99 38.5px,#e9daae 50.5px,#ebddb4 72.5px,#eadcb2 184.5px,#e6d5a5 191.5px,#deca8e 196.5px,#ccad5c 202.5px,#bb943a 206.5px,#ac7c23 209.5px,#9e6616 213.5px,#9a6012 218.5px,#a4701c 227.5px,#af8127 232.5px,#c8a853 241.5px,#d2b66a 246.5px)"></i>
<i style="top:246px;background:linear-gradient(90deg,#cfb263 0.5px,#c9a956 11.5px,#cdae5e 19.5px,#e2cf98 37.5px,#e9d9ae 49.5px,#ebdeb5 70.5px,#ebdcb2 184.5px,#e7d6a7 191.5px,#e0cb91 196.5px,#d2b66a 201.5px,#bd983e 206.5px,#aa7921 210.5px,#9d6515 214.5px,#9a6113 219.5px,#a6731d 228.5px,#b1852b 233.5px,#c7a652 241.5px,#d1b568 246.5px)"></i>
<i style="top:247px;background:linear-gradient(90deg,#cfb162 0.5px,#c9a956 11.5px,#cdaf5f 19.5px,#e2cf99 37.5px,#e9daae 49.5px,#ebdeb5 71.5px,#ebdcb2 185.5px,#e6d5a6 192.5px,#dfca8e 197.5px,#ccae5c 203.5px,#bb943a 207.5px,#ac7d23 210.5px,#9e6716 214.5px,#9a6013 218.5px,#a26d1a 226.5px,#ae8026 232.5px,#c9a855 242.5px,#d0b466 246.5px)"></i>
<i style="top:248px;background:linear-gradient(90deg,#cfb162 0.5px,#c9a956 11.5px,#ceb05f 19.5px,#e2ce98 36.5px,#e9d9ae 48.5px,#ecdeb5 68.5px,#ebdcb3 185.5px,#e7d6a8 192.5px,#e0cc92 197.5px,#d2b66a 202.5px,#be993f 207.5px,#aa7a21 211.5px,#9d6616 215.5px,#9b6213 220.5px,#a7751e 229.5px,#b58b31 235.5px,#caab58 243.5px,#d0b264 246.5px)"></i>
<i style="top:249px;background:linear-gradient(90deg,#ceb161 0.5px,#c9a956 11.5px,#ceb061 19.5px,#e1ce96 35.5px,#e8d8ac 46.5px,#ebdeb5 63.5px,#ebdcb2 186.5px,#e6d5a6 193.5px,#dfca8f 198.5px,#cdae5d 204.5px,#bb953b 208.5px,#ac7e24 211.5px,#9f6817 215.5px,#9b6113 219.5px,#a36f1b 227.5px,#af8228 233.5px,#c9a956 243.5px,#cfb162 246.5px)"></i>
<i style="top:250px;background:linear-gradient(90deg,#ceb060 0.5px,#c9a956 11.5px,#ceaf5f 18.5px,#e2ce97 35.5px,#e9d9ae 47.5px,#ecdeb5 67.5px,#ebddb3 186.5px,#e7d6a8 193.5px,#e0cc92 198.5px,#d2b76b 203.5px,#be993f 208.5px,#aa7a21 212.5px,#9e6616 216.5px,#9b6314 221.5px,#aa7a21 231.5px,#bc953b 238.5px,#ceb060 246.5px)"></i>
<i style="top:251px;background:linear-gradient(90deg,#ceb05f 0.5px,#c9a956 10.5px,#ceb060 18.5px,#e2cf99 35.5px,#e9daae 47.5px,#ecdeb5 68.5px,#ebdcb3 187.5px,#e7d5a7 194.5px,#dfcb8f 199.5px,#cdae5d 205.5px,#bb953b 209.5px,#a87720 213.5px,#9d6515 217.5px,#9c6415 222.5px,#ab7c22 232.5px,#c09d43 240.5px,#cdaf5e 246.5px)"></i>
<i style="top:252px;background:linear-gradient(90deg,#cdaf5f 0.5px,#c9a956 10.5px,#cdaf5f 17.5px,#e2ce97 34.5px,#e9d9ae 46.5px,#ecdeb5 65.5px,#ebddb3 187.5px,#e7d6a8 194.5px,#e0cc92 199.5px,#d2b76b 204.5px,#b99137 210.5px,#aa7b22 213.5px,#9e6716 217.5px,#9c6314 222.5px,#aa7a21 232.5px,#bc963c 239.5px,#ccae5c 246.5px)"></i>
<i style="top:253px;background:linear-gradient(90deg,#cdaf5e 0.5px,#c9a956 10.5px,#ceb060 17.5px,#e2cf98 34.5px,#e9daae 46.5px,#ecdeb6 66.5px,#ebddb3 188.5px,#e7d6a7 195.5px,#dfcb8f 200.5px,#cdae5e 206.5px,#bc953b 210.5px,#a87720 214.5px,#9d6616 218.5px,#9c6415 223.5px,#a97920 232.5px,#b89036 238.5px,#caab58 245.5px,#cbac5b 246.5px)"></i>
<i style="top:254px;background:linear-gradient(90deg,#cdae5e 0.5px,#c9aa56 10.5px,#ceb061 17.5px,#e1ce97 33.5px,#e9d9ae 45.5px,#ecdeb6 64.5px,#ebddb4 188.5px,#e7d6a9 195.5px,#e0cc93 200.5px,#d2b76c 205.5px,#b99137 211.5px,#ab7b22 214.5px,#9e6716 218.5px,#9c6314 223.5px,#a8771f 232.5px,#b78e34 238.5px,#c7a652 244.5px,#cbab59 246.5px)"></i>
<i style="top:255px;background:linear-gradient(90deg,#cdae5d 0.5px,#caaa56 10.5px,#cfb162 17.5px,#e2cf98 33.5px,#e9daae 45.5px,#ecdeb6 65.5px,#ebddb3 189.5px,#e7d6a7 196.5px,#dfcb90 201.5px,#cdae5e 207.5px,#bc953b 211.5px,#a97820 215.5px,#9d6616 219.5px,#9c6314 224.5px,#a97920 233.5px,#b99137 239.5px,#c9a854 245.5px,#caaa57 246.5px)"></i>
<i style="top:256px;background:linear-gradient(90deg,#ccae5c 0.5px,#caaa57 10.5px,#cfb263 17.5px,#e1ce96 32.5px,#e9daae 44.5px,#ecdeb6 62.5px,#ebddb4 189.5px,#e7d7a9 196.5px,#e0cc93 201.5px,#d2b76c 206.5px,#b99137 212.5px,#ab7b22 215.5px,#9e6716 219.5px,#9b6214 224.5px,#a6731e 232.5px,#b2862c 237.5px,#c6a44e 244.5px,#c9a955 246.5px)"></i>
<i style="top:257px;background:linear-gradient(90deg,#ccad5c 0.5px,#caaa56 9.5px,#cfb162 16.5px,#e2cf98 32.5px,#e9daae 44.5px,#ecdfb6 63.5px,#ebddb4 190.5px,#e7d6a8 197.5px,#dfcb90 202.5px,#cdaf5e 208.5px,#bc953b 212.5px,#a87720 216.5px,#9d6515 220.5px,#9b6214 225.5px,#a7751e 233.5px,#b3882e 238.5px,#c5a34c 244.5px,#c8a854 246.5px)"></i>
<i style="top:258px;background:linear-gradient(90deg,#ccad5b 0.5px,#caaa57 9.5px,#cfb263 16.5px,#e1ce96 31.5px,#e9daae 43.5px,#ecdfb6 61.5px,#ebddb4 190.5px,#e7d7a9 197.5px,#e0cc93 202.5px,#d2b76c 207.5px,#b99137 213.5px,#aa7a21 216.5px,#9d6516 220.5px,#9a6113 225.5px,#a6731d 233.5px,#b2872d 238.5px,#c6a54f 245.5px,#c7a752 246.5px)"></i>
<i style="top:259px;background:linear-gradient(90deg,#cbac5b 0.5px,#caaa57 9.5px,#d0b364 16.5px,#e2ce97 31.5px,#e9daae 43.5px,#ecdfb6 62.5px,#ebddb4 191.5px,#e7d6a8 198.5px,#dfcb90 203.5px,#d1b467 208.5px,#bb953b 213.5px,#ac7d23 216.5px,#9e6716 220.5px,#9a6012 224.5px,#a16b19 231.5px,#ae8127 237.5px,#c5a34d 245.5px,#c7a550 246.5px)"></i>
<i style="top:260px;background:linear-gradient(90deg,#cbac5a 0.5px,#caaa57 9.5px,#d0b366 16.5px,#e2cf99 31.5px,#e9daaf 43.5px,#ecdfb7 63.5px,#ebddb4 191.5px,#e8d7a9 198.5px,#e0cd93 203.5px,#d2b76c 208.5px,#be993f 213.5px,#aa7921 217.5px,#9c6415 221.5px,#995f12 225.5px,#a26d1a 232.5px,#b08329 238.5px,#c4a24c 245.5px,#c6a44e 246.5px)"></i>
<i style="top:261px;background:linear-gradient(90deg,#cbac5a 0.5px,#caab58 9.5px,#d1b467 16.5px,#e2ce97 30.5px,#e9daae 42.5px,#ecdfb7 60.5px,#ebddb4 192.5px,#e7d6a8 199.5px,#dfcb90 204.5px,#d1b467 209.5px,#bb943a 214.5px,#ac7d23 217.5px,#9d6515 221.5px,#995e12 225.5px,#9f6817 231.5px,#af8228 238.5px,#c4a14a 245.5px,#c5a34d 246.5px)"></i>
<i style="top:262px;background:linear-gradient(90deg,#cbab59 0.5px,#caab58 9.5px,#d1b569 16.5px,#e2cf98 30.5px,#e9daaf 42.5px,#ecdfb7 61.5px,#ebdeb5 192.5px,#e8d7aa 199.5px,#e0cd94 204.5px,#d2b76c 209.5px,#be983e 214.5px,#a97820 218.5px,#9c6314 222.5px,#985e11 226.5px,#a16c19 233.5px,#b1842a 239.5px,#c3a048 245.5px,#c4a24b 246.5px)"></i>
<i style="top:263px;background:linear-gradient(90deg,#cbab59 0.5px,#cbab59 9.5px,#d2b66a 16.5px,#e2cf9a 30.5px,#eadbb0 42.5px,#ecdfb7 62.5px,#ebddb4 193.5px,#e7d6a8 200.5px,#dfcb90 205.5px,#d1b467 210.5px,#bb943a 215.5px,#ab7b22 218.5px,#9c6415 222.5px,#985d11 226.5px,#9e6717 232.5px,#b08329 239.5px,#c29f47 245.5px,#c3a149 246.5px)"></i>
<i style="top:264px;background:linear-gradient(90deg,#caab58 0.5px,#caab58 8.5px,#d1b568 15.5px,#e2cf98 29.5px,#e9daaf 41.5px,#ecdfb7 60.5px,#ecdeb5 193.5px,#e8d7aa 200.5px,#e0cd93 205.5px,#d2b76b 210.5px,#bd983e 215.5px,#a87720 219.5px,#9b6213 223.5px,#985c10 227.5px,#9f6817 233.5px,#ae8127 239.5px,#c19e45 245.5px,#c3a048 246.5px)"></i>
<i style="top:265px;background:linear-gradient(90deg,#caab58 0.5px,#cbab59 8.5px,#d2b66a 15.5px,#e2cf99 29.5px,#eadaaf 41.5px,#ecdfb7 61.5px,#ecdeb5 193.5px,#e8d8ab 200.5px,#e1ce96 205.5px,#d4ba70 210.5px,#c09c42 215.5px,#aa7a21 219.5px,#9b6314 223.5px,#975c10 227.5px,#9e6716 233.5px,#ad7f25 239.5px,#c19d43 245.5px,#c29f46 246.5px)"></i>
<i style="top:266px;background:linear-gradient(90deg,#caaa58 0.5px,#cbac5a 8.5px,#d2b76c 15.5px,#e3d09a 29.5px,#eadbb0 41.5px,#ecdfb7 61.5px,#ecdeb5 194.5px,#e8d7aa 201.5px,#e0cd93 206.5px,#d2b76b 211.5px,#bd973d 216.5px,#ac7e24 219.5px,#9c6415 223.5px,#975b10 227.5px,#9d6515 233.5px,#af8228 240.5px,#c09c42 245.5px,#c19e45 246.5px)"></i>
<i style="top:267px;background:linear-gradient(90deg,#caaa57 0.5px,#cbac5a 8.5px,#d4ba71 16.5px,#e4d19e 30.5px,#eadcb1 42.5px,#eddfb8 66.5px,#ecdeb6 194.5px,#e8d8ab 201.5px,#e1ce96 206.5px,#d4b96f 211.5px,#bf9b41 216.5px,#a97921 220.5px,#9a6113 224.5px,#965a0f 228.5px,#9e6616 234.5px,#ae8026 240.5px,#c19d43 246.5px)"></i>
<i style="top:268px;background:linear-gradient(90deg,#caaa57 0.5px,#ccad5b 8.5px,#d6bd76 17.5px,#e4d29f 30.5px,#eadcb2 42.5px,#ede0b8 68.5px,#ecdeb5 195.5px,#e8d7aa 202.5px,#e0cc93 207.5px,#d2b66a 212.5px,#bc963c 217.5px,#ac7c23 220.5px,#9b6214 224.5px,#965a0f 228.5px,#9b6113 233.5px,#ad7f25 240.5px,#c09c42 246.5px)"></i>
<i style="top:269px;background:linear-gradient(90deg,#caaa57 0.5px,#ccad5c 8.5px,#d8c07b 18.5px,#e4d2a0 30.5px,#ebdcb2 42.5px,#ede0b8 70.5px,#ecdeb6 195.5px,#e8d8ab 202.5px,#e1ce96 207.5px,#d4b96f 212.5px,#bf9a40 217.5px,#a97820 221.5px,#9a6012 225.5px,#95590f 229.5px,#9b6314 234.5px,#af8228 241.5px,#bf9a40 246.5px)"></i>
<i style="top:270px;background:linear-gradient(90deg,#caaa57 0.5px,#cdae5d 8.5px,#e2d09a 27.5px,#eadbb0 39.5px,#ede0b8 59.5px,#ecdeb5 196.5px,#e8d7aa 203.5px,#e0cc93 208.5px,#d2b66a 213.5px,#bc953b 218.5px,#ab7b22 221.5px,#9a6113 225.5px,#95590f 229.5px,#9a6113 234.5px,#ae8127 241.5px,#be993f 246.5px)"></i>
<i style="top:271px;background:linear-gradient(90deg,#caaa57 0.5px,#cdaf5e 8.5px,#e3d09b 27.5px,#eadbb0 39.5px,#ede0b8 60.5px,#ecdeb6 196.5px,#e8d8ab 203.5px,#e1ce96 208.5px,#d3b96e 213.5px,#be993f 218.5px,#ad7f25 221.5px,#9b6314 225.5px,#95590f 229.5px,#995f12 234.5px,#ad7f25 241.5px,#bd973d 246.5px)"></i>
<i style="top:272px;background:linear-gradient(90deg,#caaa57 0.5px,#ceaf5f 8.5px,#e2cf9a 26.5px,#eadbb0 38.5px,#ede0b8 57.5px,#ecdeb6 197.5px,#e8d7aa 204.5px,#e0cc93 209.5px,#d1b569 214.5px,#bb943a 219.5px,#aa7a21 222.5px,#9a6012 226.5px,#95580f 230.5px,#9b6113 235.5px,#b08329 242.5px,#bc963c 246.5px)"></i>
<i style="top:273px;background:linear-gradient(90deg,#caaa57 0.5px,#ceb060 8.5px,#e3d09b 26.5px,#eadbb0 38.5px,#ede0b8 58.5px,#ecdeb6 197.5px,#e8d8ab 204.5px,#e1ce96 209.5px,#d3b86e 214.5px,#be983e 219.5px,#ac7e24 222.5px,#9b6113 226.5px,#95590f 229.5px,#985d11 234.5px,#a8761f 240.5px,#bb953b 246.5px)"></i>
<i style="top:274px;background:linear-gradient(90deg,#caaa57 0.5px,#cfb162 8.5px,#e2cf9a 25.5px,#eadbb0 37.5px,#ede0b8 56.5px,#ecdfb6 197.5px,#e9d9ad 204.5px,#e2cf99 209.5px,#d5bb72 214.5px,#c09c43 219.5px,#a97921 223.5px,#995f12 227.5px,#94580e 231.5px,#9b6214 236.5px,#ae8026 242.5px,#bb943a 246.5px)"></i>
<i style="top:275px;background:linear-gradient(90deg,#caab58 0.5px,#ceb061 7.5px,#e3d09b 25.5px,#eadcb1 38.5px,#ede0b8 60.5px,#ecdeb6 198.5px,#e8d8ab 205.5px,#e1cd95 210.5px,#d3b86d 215.5px,#bd973d 220.5px,#ac7d23 223.5px,#9a6113 227.5px,#94580e 231.5px,#9a6113 236.5px,#ad7f25 242.5px,#ba9339 246.5px)"></i>
<i style="top:276px;background:linear-gradient(90deg,#caab58 0.5px,#cfb162 7.5px,#e2cf99 24.5px,#eadbb0 36.5px,#ede0b8 55.5px,#ecdfb6 198.5px,#e9d9ad 205.5px,#e2cf98 210.5px,#d4ba71 215.5px,#c09c42 220.5px,#a97820 224.5px,#995e11 228.5px,#95580f 232.5px,#9c6415 237.5px,#b0842a 243.5px,#ba9238 246.5px)"></i>
<i style="top:277px;background:linear-gradient(90deg,#cbab59 0.5px,#cfb263 7.5px,#e3d09b 24.5px,#eadcb1 37.5px,#ede0b9 59.5px,#ecdfb6 199.5px,#e8d8ab 206.5px,#e1cd95 211.5px,#d3b76c 216.5px,#bc973d 221.5px,#ab7c22 224.5px,#9a6013 228.5px,#95590f 231.5px,#985d11 235.5px,#a87720 241.5px,#b99137 246.5px)"></i>
<i style="top:278px;background:linear-gradient(90deg,#cbab59 0.5px,#d0b365 7.5px,#e2cf99 23.5px,#eadbb1 36.5px,#ede0b9 57.5px,#ecdfb7 199.5px,#e9d9ad 206.5px,#e2cf98 211.5px,#d4ba71 216.5px,#bf9b41 221.5px,#a87720 225.5px,#995f12 229.5px,#96590f 233.5px,#9e6717 238.5px,#af8228 243.5px,#b99137 246.5px)"></i>
<i style="top:279px;background:linear-gradient(90deg,#cbac5a 0.5px,#d0b467 7.5px,#e3d09b 23.5px,#eadbb1 36.5px,#ede0b9 58.5px,#ecdfb6 200.5px,#e8d8ab 207.5px,#e1cd95 212.5px,#d2b76b 217.5px,#bc963c 222.5px,#ab7c22 225.5px,#9b6113 229.5px,#965a0f 233.5px,#9e6716 238.5px,#af8228 243.5px,#b99036 246.5px)"></i>
<i style="top:280px;background:linear-gradient(90deg,#cbac5b 0.5px,#d1b568 7.5px,#e2cf99 22.5px,#eadbb1 35.5px,#ede0b9 56.5px,#ecdfb7 200.5px,#e9d9ac 207.5px,#e2ce97 212.5px,#d4ba70 217.5px,#bf9b41 222.5px,#a97820 226.5px,#9a6013 230.5px,#975c10 234.5px,#a16c19 239.5px,#af8228 243.5px,#b99036 246.5px)"></i>
<i style="top:281px;background:linear-gradient(90deg,#ccad5b 0.5px,#d2b66a 7.5px,#e3d09a 22.5px,#eadbb1 35.5px,#ede0b9 57.5px,#ecdfb7 200.5px,#e8d8ab 208.5px,#e1cd94 213.5px,#d2b76b 218.5px,#bc963c 223.5px,#ab7c23 226.5px,#9c6314 230.5px,#985e11 234.5px,#a26c1a 239.5px,#af8228 243.5px,#b99137 246.5px)"></i>
<i style="top:282px;background:linear-gradient(90deg,#ccae5c 0.5px,#d2b76c 7.5px,#e3d09c 22.5px,#eadcb1 35.5px,#ede0b9 58.5px,#ecdfb7 201.5px,#e9d9ac 208.5px,#e1ce97 213.5px,#d4b970 218.5px,#bf9b41 223.5px,#a97921 227.5px,#9c6314 231.5px,#9a6113 235.5px,#a5721d 240.5px,#b3882e 244.5px,#b99137 246.5px)"></i>
<i style="top:283px;background:linear-gradient(90deg,#cdae5d 0.5px,#d3b86e 7.5px,#e3d19d 22.5px,#eadcb2 35.5px,#ede0b9 59.5px,#ecdfb7 201.5px,#e9d9ae 208.5px,#e2cf9a 213.5px,#d5bc74 218.5px,#bc973d 224.5px,#ad7e24 227.5px,#9e6717 231.5px,#9c6415 235.5px,#a6741e 240.5px,#b4892f 244.5px,#b99238 246.5px)"></i>
<i style="top:284px;background:linear-gradient(90deg,#cdaf5f 0.5px,#d5bb73 8.5px,#e4d19e 22.5px,#ebdcb2 35.5px,#ede0b9 60.5px,#ecdfb7 202.5px,#e8d9ac 209.5px,#e1ce97 214.5px,#d4b970 219.5px,#ba9339 225.5px,#ab7c22 228.5px,#9f6917 232.5px,#9f6817 236.5px,#ab7b22 241.5px,#ba9339 246.5px)"></i>
<i style="top:285px;background:linear-gradient(90deg,#ceb060 0.5px,#d7bf78 9.5px,#e4d29f 22.5px,#ebdcb3 35.5px,#ede0b9 61.5px,#ecdfb7 202.5px,#e9d9ad 209.5px,#e2cf9a 214.5px,#d6bc74 219.5px,#be983e 225.5px,#ab7b22 229.5px,#a16b19 233.5px,#a36e1a 237.5px,#af8228 242.5px,#bb953b 246.5px)"></i>
<i style="top:286px;background:linear-gradient(90deg,#ceb161 0.5px,#d9c27e 10.5px,#e5d3a2 23.5px,#ebddb4 36.5px,#ede1ba 68.5px,#ecdfb7 203.5px,#e8d8ac 210.5px,#e1ce97 215.5px,#d4ba70 220.5px,#bc963c 226.5px,#ab7b22 230.5px,#a36f1b 234.5px,#a97820 239.5px,#b78e34 244.5px,#bd973d 246.5px)"></i>
<i style="top:287px;background:linear-gradient(90deg,#cfb263 0.5px,#dbc583 11.5px,#e5d4a3 23.5px,#ebdeb5 37.5px,#ede1ba 77.5px,#ecdfb7 203.5px,#e9d9ad 210.5px,#e2cf9a 215.5px,#d6bd75 220.5px,#bb943a 227.5px,#ac7d23 231.5px,#a7751e 235.5px,#ae7f25 240.5px,#be993f 246.5px)"></i>
<i style="top:288px;background:linear-gradient(90deg,#d0b364 0.5px,#e4d2a0 21.5px,#ebddb4 35.5px,#ede1ba 66.5px,#ecdfb7 203.5px,#e8d8ac 211.5px,#e1ce97 216.5px,#d4ba71 221.5px,#ba9339 228.5px,#ad7f25 232.5px,#ab7b22 236.5px,#b2872d 241.5px,#c09b41 246.5px)"></i>
<i style="top:289px;background:linear-gradient(90deg,#d0b466 0.5px,#e4d29f 20.5px,#ebddb3 34.5px,#ede1ba 63.5px,#ecdfb7 204.5px,#e9d9ad 211.5px,#e2d09a 216.5px,#d6be77 221.5px,#be993f 228.5px,#b2862c 232.5px,#ae8127 236.5px,#b78e34 242.5px,#c19d44 246.5px)"></i>
<i style="top:290px;background:linear-gradient(90deg,#d1b568 0.5px,#e4d2a0 20.5px,#ebddb4 34.5px,#ede1ba 64.5px,#ecdfb7 204.5px,#e8d9ac 212.5px,#e2ce98 217.5px,#d5bc74 222.5px,#c29f46 228.5px,#b68c32 232.5px,#b2872d 236.5px,#b99238 242.5px,#c29f46 246.5px)"></i>
<i style="top:291px;background:linear-gradient(90deg,#d2b66a 0.5px,#e5d3a1 20.5px,#ebddb4 34.5px,#ede1ba 66.5px,#ecdfb7 205.5px,#e8d8ab 213.5px,#e1cd95 218.5px,#d1b669 224.5px,#c09c42 230.5px,#b78e34 234.5px,#b88f35 239.5px,#c3a047 246.5px)"></i>
<i style="top:292px;background:linear-gradient(90deg,#d2b76c 0.5px,#e5d3a2 20.5px,#ebddb4 34.5px,#ede1ba 68.5px,#ecdfb8 205.5px,#e9d9ad 213.5px,#e0cc93 219.5px,#c5a44e 229.5px,#bb953b 234.5px,#bb953b 240.5px,#c3a048 246.5px)"></i>
<i style="top:293px;background:linear-gradient(90deg,#d3b86e 0.5px,#e5d3a1 19.5px,#ebddb4 33.5px,#ede1ba 64.5px,#ecdfb7 206.5px,#e8d8ab 214.5px,#e0cb91 220.5px,#c8a854 229.5px,#bf9b41 234.5px,#bd983e 240.5px,#c3a149 246.5px)"></i>
<i style="top:294px;background:linear-gradient(90deg,#d4ba70 0.5px,#e5d3a2 19.5px,#ebdeb5 34.5px,#ede1ba 71.5px,#ecdfb8 206.5px,#e9d9ad 214.5px,#e1cd95 220.5px,#c9a955 230.5px,#c19d44 235.5px,#c09c42 242.5px,#c4a24a 246.5px)"></i>
<i style="top:295px;background:linear-gradient(90deg,#d5bb72 0.5px,#e5d3a1 18.5px,#ebddb4 33.5px,#ede1ba 68.5px,#ecdfb8 207.5px,#e8d8ac 215.5px,#e0cc93 221.5px,#cbac5a 230.5px,#c3a149 235.5px,#c29e45 243.5px,#c4a24b 246.5px)"></i>
<i style="top:296px;background:linear-gradient(90deg,#d6bc74 0.5px,#e5d3a2 18.5px,#ebdeb5 33.5px,#ede1ba 69.5px,#ecdfb7 208.5px,#e8d8ab 216.5px,#e0cc91 222.5px,#ccad5b 231.5px,#c4a24b 237.5px,#c3a149 244.5px,#c5a34d 246.5px)"></i>
<i style="top:297px;background:linear-gradient(90deg,#d6be77 0.5px,#e6d4a3 18.5px,#ebdeb5 33.5px,#ede1ba 71.5px,#ecdfb8 208.5px,#e9d9ac 216.5px,#e1cd95 222.5px,#cdae5d 232.5px,#c5a34d 239.5px,#c4a24b 244.5px,#c6a54f 246.5px)"></i>
<i style="top:298px;background:linear-gradient(90deg,#d7bf79 0.5px,#e6d4a4 18.5px,#ecdeb5 34.5px,#ede1ba 80.5px,#ecdfb7 209.5px,#e8d8ab 217.5px,#dfca8e 224.5px,#ceaf5f 233.5px,#c6a44e 241.5px,#c6a550 245.5px,#c7a651 246.5px)"></i>
<i style="top:299px;background:linear-gradient(90deg,#d8c07b 0.5px,#e6d4a4 17.5px,#ecdeb5 33.5px,#ede1ba 75.5px,#ecdfb8 209.5px,#e9d9ad 217.5px,#e0cc92 224.5px,#ceb161 234.5px,#c7a651 242.5px,#c9a854 246.5px)"></i>
<i style="top:300px;background:linear-gradient(90deg,#d9c27d 0.5px,#e6d4a4 17.5px,#ecdeb5 33.5px,#ede1ba 77.5px,#ede0b8 209.5px,#e8d8ac 218.5px,#e0cc92 225.5px,#cfb162 235.5px,#c8a854 243.5px,#caab58 246.5px)"></i>
<i style="top:301px;background:linear-gradient(90deg,#dac37f 0.5px,#e6d5a5 17.5px,#ecdeb6 34.5px,#ede1bb 87.5px,#ecdfb8 210.5px,#e8d8ab 219.5px,#dec98c 227.5px,#d0b264 236.5px,#cbab59 244.5px,#ccad5c 246.5px)"></i>
<i style="top:302px;background:linear-gradient(90deg,#dac481 0.5px,#e6d5a6 17.5px,#ecdeb6 34.5px,#ede1bb 90.5px,#ede0b8 210.5px,#e9d9ad 219.5px,#dfcb91 227.5px,#d2b66a 236.5px,#cdae5d 244.5px,#ceb060 246.5px)"></i>
<i style="top:303px;background:linear-gradient(90deg,#dbc583 0.5px,#e6d5a5 16.5px,#ecdeb6 33.5px,#eee1bb 83.5px,#eddfb8 211.5px,#e8d8ac 220.5px,#dfcb90 228.5px,#d4b970 236.5px,#cfb162 244.5px,#d0b365 246.5px)"></i>
<i style="top:304px;background:linear-gradient(90deg,#dcc685 0.5px,#e6d5a6 16.5px,#ecdfb6 34.5px,#eee1bb 95.5px,#ede0b8 211.5px,#e8d8ab 221.5px,#dfcb8f 229.5px,#d6bd76 236.5px,#d1b467 244.5px,#d2b66a 246.5px)"></i>
<i style="top:305px;background:linear-gradient(90deg,#dcc787 0.5px,#e6d5a6 15.5px,#ecdeb6 33.5px,#eee1bb 87.5px,#ede0b8 212.5px,#e9d9ad 221.5px,#dec98b 231.5px,#d7bf79 238.5px,#d3b86d 244.5px,#d4b96f 246.5px)"></i>
<i style="top:306px;background:linear-gradient(90deg,#ddc889 0.5px,#e6d5a6 15.5px,#ecdfb7 34.5px,#eee1bb 100.5px,#ecdfb8 213.5px,#e9d9ac 222.5px,#dac481 237.5px,#d5bb72 244.5px,#d5bc74 246.5px)"></i>
<i style="top:307px;background:linear-gradient(90deg,#ddc88a 0.5px,#e7d6a7 15.5px,#ecdfb7 34.5px,#eee1bb 102.5px,#ede0b8 213.5px,#e8d8ac 223.5px,#dcc787 237.5px,#d7be78 245.5px,#d7bf79 246.5px)"></i>
<i style="top:308px;background:linear-gradient(90deg,#dec98c 0.5px,#e7d5a7 14.5px,#ecdfb7 34.5px,#eee1bb 105.5px,#ede0b8 214.5px,#e8d8ab 224.5px,#deca8d 237.5px,#dbc583 242.5px,#d9c17d 245.5px,#d9c27d 246.5px)"></i>
<i style="top:309px;background:linear-gradient(90deg,#deca8d 0.5px,#e7d6a9 15.5px,#ecdfb8 36.5px,#eee1bb 165.5px,#ecdfb7 216.5px,#e7d7a9 226.5px,#dfcb90 239.5px,#dac481 245.5px,#dac482 246.5px)"></i>
<i style="top:310px;background:linear-gradient(90deg,#dfca8f 0.5px,#e7d7a9 15.5px,#ede0b8 37.5px,#ede1ba 207.5px,#ebdcb2 222.5px,#e0cc92 241.5px,#dcc686 244.5px,#dcc686 246.5px)"></i>
<i style="top:311px;background:linear-gradient(90deg,#dfcb90 0.5px,#e8d8ab 16.5px,#ede0b9 39.5px,#ede0b8 215.5px,#e8d7aa 228.5px,#e1ce97 241.5px,#ddc88a 244.5px,#ddc889 246.5px)"></i>
<i style="top:312px;background:linear-gradient(90deg,#e0cc91 0.5px,#e8d8ab 16.5px,#ede0b9 40.5px,#ede0b9 215.5px,#e8d8ab 229.5px,#e3d09b 241.5px,#deca8e 244.5px,#deca8d 246.5px)"></i>
<i style="top:313px;background:linear-gradient(90deg,#e0cc93 0.5px,#e8d8ac 16.5px,#ede0b9 41.5px,#ede0b9 216.5px,#e5d3a2 240.5px,#dfcb90 245.5px,#dfcb90 246.5px)"></i>
<i style="top:314px;background:linear-gradient(90deg,#e0cd94 0.5px,#e9d9ad 17.5px,#ede1ba 43.5px,#ede0b9 217.5px,#e5d4a3 241.5px,#e0cd94 244.5px,#e0cc92 246.5px)"></i>
<i style="top:315px;background:linear-gradient(90deg,#e1cd95 0.5px,#e9d9ad 17.5px,#ede1ba 44.5px,#ede0b8 219.5px,#e7d6a8 240.5px,#e1cd95 245.5px,#e1cd95 246.5px)"></i>
<i style="top:316px;background:linear-gradient(90deg,#e1ce96 0.5px,#e9daae 18.5px,#ede1ba 46.5px,#ede0b8 220.5px,#e8d8ab 240.5px,#e2cf98 244.5px,#e1ce97 246.5px)"></i>
<i style="top:317px;background:linear-gradient(90deg,#e2ce97 0.5px,#e9daaf 18.5px,#ede1ba 47.5px,#ede0b8 221.5px,#e9d9ae 240.5px,#e3d09a 244.5px,#e2cf98 246.5px)"></i>
<i style="top:318px;background:linear-gradient(90deg,#e2cf98 0.5px,#eadbb0 19.5px,#ede1ba 49.5px,#ede0b8 223.5px,#eadbb0 240.5px,#e3d09c 244.5px,#e2cf9a 246.5px)"></i>
<i style="top:319px;background:linear-gradient(90deg,#e2cf99 0.5px,#eadbb1 20.5px,#eee1bb 51.5px,#ede0b8 224.5px,#eadcb1 240.5px,#e3d19d 244.5px,#e3d09b 246.5px)"></i>
<i style="top:320px;background:linear-gradient(90deg,#e3d09a 0.5px,#eadbb1 20.5px,#eee1bb 52.5px,#ede0b8 226.5px,#ebdcb3 240.5px,#e4d19e 244.5px,#e3d09c 246.5px)"></i>
<i style="top:321px;background:linear-gradient(90deg,#e3d09b 0.5px,#eadcb1 21.5px,#eee1bb 54.5px,#ede0b8 228.5px,#ebddb4 240.5px,#e4d29f 244.5px,#e3d19d 246.5px)"></i>
<i style="top:322px;background:linear-gradient(90deg,#e3d19c 0.5px,#ebdcb2 22.5px,#eee1bb 56.5px,#ede0b8 231.5px,#ecdeb5 240.5px,#e4d2a0 244.5px,#e4d19d 246.5px)"></i>
<i style="top:323px;background:linear-gradient(90deg,#e3d19d 0.5px,#ebdcb3 23.5px,#eee1bb 58.5px,#ede0b8 235.5px,#ebddb3 241.5px,#e5d2a0 244.5px,#e4d19e 246.5px)"></i>
<i style="top:324px;background:linear-gradient(90deg,#e4d19e 0.5px,#ebddb3 24.5px,#eee1bb 61.5px,#ede0b8 237.5px,#ebddb4 241.5px,#e5d3a1 244.5px,#e4d29e 246.5px)"></i>
<i style="top:325px;background:linear-gradient(90deg,#e4d29f 0.5px,#ebddb4 25.5px,#eee2bb 63.5px,#ede0b8 239.5px,#ebddb4 241.5px,#e5d3a1 244.5px,#e4d29f 246.5px)"></i>
<i style="top:326px;background:linear-gradient(90deg,#e4d2a0 0.5px,#ebdeb5 26.5px,#eee2bb 66.5px,#ede0b9 239.5px,#ebdeb5 241.5px,#e5d3a2 244.5px,#e4d29f 246.5px)"></i>
<i style="top:327px;background:linear-gradient(90deg,#e5d2a0 0.5px,#ecdeb5 27.5px,#eee2bb 69.5px,#ede0b9 239.5px,#ecdeb5 241.5px,#e5d3a2 244.5px,#e4d29f 246.5px)"></i>
<i style="top:328px;background:linear-gradient(90deg,#e5d3a1 0.5px,#ecdeb6 29.5px,#eee2bb 77.5px,#ede0b8 240.5px,#eadbb0 242.5px,#e5d3a2 244.5px,#e4d2a0 246.5px)"></i>
<i style="top:329px;background:linear-gradient(90deg,#e5d3a2 0.5px,#ecdfb6 30.5px,#eee2bb 82.5px,#ede0b9 240.5px,#eadbb0 242.5px,#e5d3a2 244.5px,#e4d2a0 246.5px)"></i>
<i style="top:330px;background:linear-gradient(90deg,#e5d3a2 0.5px,#ecdfb7 31.5px,#eee2bb 89.5px,#ede0b9 240.5px,#eadbb0 242.5px,#e5d3a3 244.5px,#e4d2a0 246.5px)"></i>
</div>
<div id="sa" style="position:absolute;left:60px;top:15px;width:247px;height:316px;mix-blend-mode:multiply;background:linear-gradient(90deg,#fafafc 0.5px,#fafafc 1.5px,#fbfbfd 2.5px,#fcfcfe 3.5px,#fcfcfe 4.5px,#fcfcfe 5.5px,#fafafc 6.5px,#f8f8fa 7.5px,#fbfbfd 8.5px,#fbfbfd 9.5px,#fafafc 10.5px,#f9f9fb 11.5px,#fafafc 12.5px,#fcfcfe 13.5px,#fafafc 14.5px,#fafafc 15.5px,#fdfdff 16.5px,#fdfdff 17.5px,#fefeff 18.5px,#fefeff 19.5px,#fefeff 20.5px,#fcfcfe 21.5px,#fdfdff 22.5px,#fafafc 23.5px,#fafafc 24.5px,#fcfcfe 25.5px,#ffffff 26.5px,#fcfcfe 27.5px,#fbfbfd 28.5px,#fbfbfd 29.5px,#fdfdff 30.5px,#fcfcfe 31.5px,#fdfdff 32.5px,#fcfcfe 33.5px,#f9f9fb 34.5px,#fbfbfd 35.5px,#fafafc 36.5px,#f9f9fb 37.5px,#fbfbfd 38.5px,#fbfbfd 39.5px,#fafafc 40.5px,#fbfbfd 41.5px,#fcfcfe 42.5px,#fafafc 43.5px,#f9f9fb 44.5px,#fcfcfe 45.5px,#f9f9fb 46.5px,#fafafc 47.5px,#fafafc 48.5px,#f7f7f9 49.5px,#f9f9fb 50.5px,#fcfcfe 51.5px,#fafafc 52.5px,#f9f9fb 53.5px,#fafafc 54.5px,#f9f9fb 55.5px,#fafafc 56.5px,#f9f9fb 57.5px,#f8f8fa 58.5px,#fbfbfd 59.5px,#fafafc 60.5px,#fbfbfd 61.5px,#fbfbfd 62.5px,#fdfdff 63.5px,#fcfcfe 64.5px,#fbfbfd 65.5px,#f8f8fa 66.5px,#f8f8fa 67.5px,#fcfcfe 68.5px,#fcfcfe 69.5px,#fafafc 70.5px,#fefeff 71.5px,#fcfcfe 72.5px,#fafafc 73.5px,#f8f8fa 74.5px,#f9f9fb 75.5px,#fbfbfd 76.5px,#fbfbfd 77.5px,#fafafc 78.5px,#f8f8fa 79.5px,#fbfbfd 80.5px,#fbfbfd 81.5px,#fafafc 82.5px,#fafafc 83.5px,#fbfbfd 84.5px,#fcfcfe 85.5px,#fbfbfd 86.5px,#fbfbfd 87.5px,#f8f8fa 88.5px,#f9f9fb 89.5px,#fafafc 90.5px,#f9f9fb 91.5px,#fafafc 92.5px,#f9f9fb 93.5px,#fafafc 94.5px,#fafafc 95.5px,#fcfcfe 96.5px,#fbfbfd 97.5px,#fefeff 98.5px,#ffffff 99.5px,#fcfcfe 100.5px,#fcfcfe 101.5px,#f9f9fb 102.5px,#f7f7f9 103.5px,#fbfbfd 104.5px,#fcfcfe 105.5px,#fafafc 106.5px,#f9f9fb 107.5px,#fafafc 108.5px,#fafafc 109.5px,#f9f9fb 110.5px,#fafafc 111.5px,#fcfcfe 112.5px,#fbfbfd 113.5px,#fbfbfd 114.5px,#fcfcfe 115.5px,#fbfbfd 116.5px,#fbfbfd 117.5px,#f9f9fb 118.5px,#fafafc 119.5px,#fafafc 120.5px,#fbfbfd 121.5px,#fcfcfe 122.5px,#fefeff 123.5px,#fdfdff 124.5px,#fbfbfd 125.5px,#fefeff 126.5px,#fafafc 127.5px,#fdfdff 128.5px,#fafafc 129.5px,#fbfbfd 130.5px,#f9f9fb 131.5px,#fafafc 132.5px,#fcfcfe 133.5px,#f8f8fa 134.5px,#f7f7f9 135.5px,#fafafc 136.5px,#fbfbfd 137.5px,#fbfbfd 138.5px,#fcfcfe 139.5px,#f9f9fb 140.5px,#fbfbfd 141.5px,#fbfbfd 142.5px,#fcfcfe 143.5px,#fcfcfe 144.5px,#fcfcfe 145.5px,#f9f9fb 146.5px,#fafafc 147.5px,#f9f9fb 148.5px,#fafafc 149.5px,#fcfcfe 150.5px,#fbfbfd 151.5px,#fbfbfd 152.5px,#fbfbfd 153.5px,#fbfbfd 154.5px,#fcfcfe 155.5px,#fdfdff 156.5px,#fcfcfe 157.5px,#f8f8fa 158.5px,#fbfbfd 159.5px,#fcfcfe 160.5px,#fafafc 161.5px,#f8f8fa 162.5px,#fcfcfe 163.5px,#fcfcfe 164.5px,#fcfcfe 165.5px,#fdfdff 166.5px,#fafafc 167.5px,#fafafc 168.5px,#fbfbfd 169.5px,#fbfbfd 170.5px,#fafafc 171.5px,#fbfbfd 172.5px,#fbfbfd 173.5px,#fdfdff 174.5px,#fcfcfe 175.5px,#f9f9fb 176.5px,#fafafc 177.5px,#fafafc 178.5px,#fafafc 179.5px,#fbfbfd 180.5px,#fbfbfd 181.5px,#fafafc 182.5px,#fbfbfd 183.5px,#fbfbfd 184.5px,#fafafc 185.5px,#f8f8fa 186.5px,#f8f8fa 187.5px,#fafafc 188.5px,#fcfcfe 189.5px,#fdfdff 190.5px,#f9f9fb 191.5px,#f8f8fa 192.5px,#fafafc 193.5px,#f9f9fb 194.5px,#f8f8fa 195.5px,#f8f8fa 196.5px,#f9f9fb 197.5px,#fafafc 198.5px,#f8f8fa 199.5px,#fbfbfd 200.5px,#f9f9fb 201.5px,#f9f9fb 202.5px,#f8f8fa 203.5px,#f6f6f8 204.5px,#f7f7f9 205.5px,#fcfcfe 206.5px,#fdfdff 207.5px,#fafafc 208.5px,#fcfcfe 209.5px,#fafafc 210.5px,#fafafc 211.5px,#fefeff 212.5px,#ffffff 213.5px,#fbfbfd 214.5px,#fafafc 215.5px,#fbfbfd 216.5px,#fbfbfd 217.5px,#fcfcfe 218.5px,#fdfdff 219.5px,#fcfcfe 220.5px,#fdfdff 221.5px,#fdfdff 222.5px,#fafafc 223.5px,#fafafc 224.5px,#fafafc 225.5px,#fcfcfe 226.5px,#fcfcfe 227.5px,#fdfdff 228.5px,#fcfcfe 229.5px,#fbfbfd 230.5px,#fbfbfd 231.5px,#fafafc 232.5px,#f9f9fb 233.5px,#f7f7f9 234.5px,#fbfbfd 235.5px,#f9f9fb 236.5px,#fafafc 237.5px,#fbfbfd 238.5px,#fdfdff 239.5px,#fbfbfd 240.5px,#f9f9fb 241.5px,#fafafc 242.5px,#fafafc 243.5px,#fafafc 244.5px,#f8f8fa 245.5px,#fafafc 246.5px)"></div>
<div id="pb">

</div>
<svg width="666" height="401" style="position:absolute;left:0;top:0"><defs><linearGradient id="g1e" gradientUnits="userSpaceOnUse" x1="400" y1="0" x2="660" y2="0"><stop offset="0.027" stop-color="rgb(205,160,70)"/><stop offset="0.154" stop-color="rgb(195,140,45)"/><stop offset="0.262" stop-color="rgb(170,108,25)"/><stop offset="0.315" stop-color="rgb(145,80,12)"/><stop offset="0.369" stop-color="rgb(85,28,2)"/><stop offset="0.415" stop-color="rgb(40,10,0)"/><stop offset="0.558" stop-color="rgb(40,10,0)"/><stop offset="0.623" stop-color="rgb(90,30,2)"/><stop offset="0.700" stop-color="rgb(130,60,8)"/><stop offset="0.777" stop-color="rgb(165,105,25)"/><stop offset="0.885" stop-color="rgb(195,145,50)"/><stop offset="0.977" stop-color="rgb(210,170,85)"/></linearGradient><linearGradient id="g1c" gradientUnits="userSpaceOnUse" x1="400" y1="0" x2="660" y2="0"><stop offset="0.027" stop-color="rgb(172,112,20)"/><stop offset="0.154" stop-color="rgb(160,98,14)"/><stop offset="0.262" stop-color="rgb(130,65,8)"/><stop offset="0.315" stop-color="rgb(95,35,3)"/><stop offset="0.369" stop-color="rgb(35,8,0)"/><stop offset="0.415" stop-color="rgb(20,3,0)"/><stop offset="0.558" stop-color="rgb(20,3,0)"/><stop offset="0.623" stop-color="rgb(50,12,0)"/><stop offset="0.700" stop-color="rgb(92,34,2)"/><stop offset="0.777" stop-color="rgb(135,70,8)"/><stop offset="0.885" stop-color="rgb(160,100,18)"/><stop offset="0.977" stop-color="rgb(182,128,35)"/></linearGradient><linearGradient id="g2e" gradientUnits="userSpaceOnUse" x1="400" y1="0" x2="660" y2="0"><stop offset="0.027" stop-color="rgb(226,204,150)"/><stop offset="0.250" stop-color="rgb(220,192,128)"/><stop offset="0.308" stop-color="rgb(205,160,75)"/><stop offset="0.373" stop-color="rgb(170,105,22)"/><stop offset="0.431" stop-color="rgb(120,55,6)"/><stop offset="0.500" stop-color="rgb(85,28,2)"/><stop offset="0.615" stop-color="rgb(80,25,2)"/><stop offset="0.685" stop-color="rgb(95,32,2)"/><stop offset="0.750" stop-color="rgb(130,65,8)"/><stop offset="0.800" stop-color="rgb(165,105,22)"/><stop offset="0.846" stop-color="rgb(192,142,52)"/><stop offset="0.923" stop-color="rgb(205,160,72)"/><stop offset="0.977" stop-color="rgb(212,172,90)"/></linearGradient><linearGradient id="g2c" gradientUnits="userSpaceOnUse" x1="400" y1="0" x2="660" y2="0"><stop offset="0.027" stop-color="rgb(212,180,105)"/><stop offset="0.250" stop-color="rgb(205,165,80)"/><stop offset="0.308" stop-color="rgb(188,135,40)"/><stop offset="0.373" stop-color="rgb(135,70,10)"/><stop offset="0.431" stop-color="rgb(60,18,0)"/><stop offset="0.500" stop-color="rgb(35,7,0)"/><stop offset="0.615" stop-color="rgb(40,8,0)"/><stop offset="0.685" stop-color="rgb(60,15,0)"/><stop offset="0.750" stop-color="rgb(100,38,3)"/><stop offset="0.800" stop-color="rgb(140,78,12)"/><stop offset="0.846" stop-color="rgb(175,120,35)"/><stop offset="0.923" stop-color="rgb(190,140,50)"/><stop offset="0.977" stop-color="rgb(198,150,60)"/></linearGradient><linearGradient id="g3e" gradientUnits="userSpaceOnUse" x1="0" y1="90" x2="0" y2="310"><stop offset="0.227" stop-color="rgb(222,190,115)"/><stop offset="0.341" stop-color="rgb(198,150,58)"/><stop offset="0.500" stop-color="rgb(180,122,32)"/><stop offset="0.636" stop-color="rgb(150,88,14)"/><stop offset="0.773" stop-color="rgb(125,58,6)"/><stop offset="0.955" stop-color="rgb(140,75,12)"/></linearGradient><linearGradient id="g3c" gradientUnits="userSpaceOnUse" x1="0" y1="90" x2="0" y2="310"><stop offset="0.227" stop-color="rgb(212,175,90)"/><stop offset="0.341" stop-color="rgb(182,128,35)"/><stop offset="0.500" stop-color="rgb(160,98,16)"/><stop offset="0.636" stop-color="rgb(120,55,6)"/><stop offset="0.773" stop-color="rgb(90,32,2)"/><stop offset="0.955" stop-color="rgb(110,45,6)"/></linearGradient><linearGradient id="gt" gradientUnits="userSpaceOnUse" x1="400" y1="0" x2="660" y2="0"><stop offset="0.512" stop-color="rgb(214,184,122)"/><stop offset="0.615" stop-color="rgb(210,178,112)"/><stop offset="0.700" stop-color="rgb(232,212,170)"/></linearGradient><clipPath id="cb"><rect x="407.4" y="15.3" width="246.4" height="315"/></clipPath><filter id="fb" x="0" y="0" width="666" height="401" filterUnits="userSpaceOnUse"><feGaussianBlur stdDeviation="0.55"/></filter><filter id="fc" x="0" y="0" width="666" height="401" filterUnits="userSpaceOnUse"><feGaussianBlur stdDeviation="1.3"/></filter><filter id="ft" x="0" y="0" width="666" height="401" filterUnits="userSpaceOnUse"><feGaussianBlur stdDeviation="1.1"/></filter><filter id="fs" x="0" y="0" width="666" height="401" filterUnits="userSpaceOnUse"><feGaussianBlur stdDeviation="0.6"/></filter></defs><g clip-path="url(#cb)"><g filter="url(#fs)"><path d="M475.1 326.2l1.2 -8.4l1.9 8.5l1.3 -8.8l1.9 6.2M472.2 268.7l1.6 5.4l1.6 -4.7l1.7 7.6l1.8 -7.4M419.8 204.1l1.6 -7.4l2.3 6.3l1.8 -7.1M533.3 210.1l1.7 6.7l2.2 -5.6l1.1 4.7l2.2 -6.0M560.8 319.0l1.5 6.6l2.0 -6.6l1.4 4.6l2.2 -6.7M516.3 264.5l1.1 -8.8M443.8 242.4l1.9 5.0l1.8 -6.5l1.2 5.8l2.4 -7.8M547.2 300.3l2.2 -4.6M529.8 234.5l1.3 5.1l1.1 -8.4M453.4 39.7l1.4 8.3M522.1 302.5l2.3 8.4l2.2 -6.7l1.8 6.7l2.3 -4.5M498.8 261.5l1.0 6.5l2.2 -6.7l1.9 7.1l2.1 -6.7M434.2 272.2l2.1 -6.1M449.2 150.6l1.6 6.6l2.3 -7.0l1.5 4.5M626.5 21.1l1.4 6.0l1.6 -7.4l1.1 8.4M435.1 282.5l2.4 -7.4l1.5 7.2l1.9 -5.4l1.1 8.8M451.1 233.7l2.0 -5.7M540.2 267.2l1.0 5.3M559.6 314.7l1.2 -7.0l1.9 7.5l1.7 -7.3l2.4 7.2M483.2 188.3l2.1 5.1l1.3 -7.5l1.6 6.3l1.6 -6.6M562.8 296.8l1.2 -7.0l1.6 7.4l1.7 -5.2l1.8 6.0M475.4 210.3l1.5 -5.2M545.0 329.0l1.5 7.9l1.9 -5.3l2.1 8.4l2.1 -4.7M616.6 24.2l1.7 -5.1l2.3 6.1M445.5 261.3l1.3 -6.4l1.7 6.5M465.7 231.4l1.4 -7.5l2.1 7.0l2.0 -6.9M487.6 219.4l1.1 7.5l1.1 -5.4l2.2 7.2l2.0 -5.3M427.7 281.7l1.9 -5.5M499.4 161.6l1.2 -8.3l1.7 5.5l1.2 -8.0M576.6 297.8l1.8 -5.3l1.2 8.2l1.7 -7.3M430.6 311.6l2.1 6.4l1.7 -5.8l1.2 8.7M527.4 257.2l1.9 7.3M487.5 276.5l2.1 -6.9l2.2 4.9l1.7 -8.5M482.2 292.9l1.6 -8.8l2.4 8.5l1.4 -5.4l1.9 7.8M470.8 232.5l1.5 -7.7M454.3 321.4l1.2 -6.7l1.2 6.8l1.9 -5.6l1.8 7.6M484.7 207.6l2.2 8.6l1.4 -7.5M435.1 294.0l1.4 8.9M423.5 29.3l1.6 7.3l1.4 -6.5M418.1 317.7l2.3 5.6M492.5 232.3l1.1 -5.2l2.4 6.4l1.3 -5.0M452.6 311.9l2.0 5.7M431.9 37.0l1.3 -7.3l1.9 7.6M472.6 288.6l2.0 6.4l1.3 -6.3M519.9 262.7l1.5 -8.9M450.2 41.8l1.2 8.6l1.5 -5.6M444.0 270.1l1.5 7.4l2.3 -5.2l1.5 7.2l2.3 -4.9M645.5 70.6l2.0 -7.4M487.8 252.2l1.1 -5.8M460.1 268.3l1.7 5.2M435.8 272.0l1.1 -6.5M568.8 261.5l2.1 -6.1l1.2 6.8l1.3 -6.7l1.5 7.2M455.8 266.1l2.3 6.1l1.2 -5.2l1.5 7.1M491.9 301.1l2.0 6.0l1.5 -8.0l2.0 4.6M551.3 301.6l1.6 -6.7l1.6 5.1l1.2 -6.5M487.1 245.4l2.3 -7.3l1.8 6.7M549.6 287.5l2.3 4.9l1.2 -5.4M526.3 308.5l1.1 8.7l2.1 -5.1l1.6 5.7M485.2 201.4l2.0 7.8l1.8 -7.8M511.1 186.1l1.2 -8.3M515.6 167.3l2.0 -5.7l2.4 8.1l1.5 -7.6l1.4 4.6M537.3 252.6l2.4 5.3M435.9 47.5l1.0 -8.8l2.1 6.1l1.8 -5.8M440.9 285.0l1.8 8.2l1.8 -5.4l1.1 5.0M476.2 271.5l2.0 6.8l2.2 -8.5l1.0 5.5l1.9 -5.2M439.0 285.0l2.2 -7.3M536.9 324.4l2.3 -8.0M427.6 185.7l2.1 -8.2l1.3 5.3M461.0 36.9l1.3 -4.9l1.7 6.9l1.4 -8.5l1.1 8.5M534.8 310.0l1.6 -7.0M550.9 316.6l1.8 8.7l2.3 -7.7l1.2 6.8M452.1 50.8l2.4 6.6M441.6 244.1l2.0 -5.8l1.3 9.0l1.3 -6.4l1.8 7.2M455.5 242.5l1.6 -8.4l1.3 8.8l1.8 -7.3l1.1 4.7M431.6 246.8l2.1 -5.5l1.1 6.5M426.4 280.8l1.6 -6.4l2.4 8.5l1.9 -8.0l2.4 8.1M433.8 304.5l1.9 5.7l1.2 -8.4l1.8 8.4l2.1 -5.6M526.7 184.6l1.9 -8.1l2.3 6.6l1.3 -5.2M529.4 180.1l2.2 -6.9l1.9 6.1l2.4 -6.8M507.3 305.4l1.0 -8.2l1.4 7.7M429.7 26.5l1.1 7.2l1.8 -8.7M426.5 311.6l1.9 5.4l1.7 -5.6l2.1 4.9M533.4 309.1l2.3 -5.1M567.0 318.0l2.1 5.7l2.0 -7.8M526.7 267.6l1.7 5.0l2.0 -6.4l1.8 7.0M521.0 323.9l1.2 6.7M536.1 281.4l1.4 7.3l2.0 -5.1l1.6 6.2l2.2 -5.5M560.9 267.8l2.0 5.6l2.1 -5.8l1.5 7.8l2.4 -7.7M540.9 234.9l2.1 5.6l1.8 -7.6l1.7 6.2l1.8 -8.7M572.9 297.2l2.1 6.6l2.1 -8.2l1.9 6.4l1.5 -8.3M555.4 262.9l2.4 -8.7l1.6 7.6M446.9 38.1l2.4 8.1l1.8 -7.7M440.0 325.5l1.9 5.7l1.1 -5.4M568.5 294.5l1.9 8.9l1.1 -7.7l2.2 5.0M455.9 306.3l1.2 4.8l1.7 -8.2l1.8 8.8M512.9 281.1l1.3 4.6M567.6 283.1l2.0 8.6l1.7 -8.3M439.3 26.8l1.9 -5.4l1.8 6.6l1.1 -6.5l1.4 5.7M553.6 297.7l1.5 5.2M563.6 310.7l1.3 -6.0M444.3 319.8l1.3 -8.6l2.3 5.8l1.3 -4.5M420.0 23.8l2.0 -7.4l2.0 5.2M542.7 218.3l1.8 5.2l1.8 -6.6l1.2 7.4M432.0 271.6l1.3 6.0M583.6 318.4l1.1 6.0l1.9 -5.7M479.4 298.9l2.1 8.9l1.8 -7.1l1.9 7.1l2.2 -8.1M486.6 298.3l2.1 7.6l1.3 -6.3l1.9 8.6M555.5 311.1l2.4 8.1M530.3 324.1l2.3 -5.1M412.2 32.6l1.1 8.8l1.4 -5.7M502.2 232.1l1.6 -7.1l1.2 8.6M479.9 248.7l2.1 5.0l1.6 -7.3l1.5 8.8l2.2 -6.2M472.5 259.0l1.9 -5.6l2.3 6.5M414.3 315.7l1.0 7.5M467.5 213.5l2.4 8.6l2.0 -6.8l1.4 5.6l1.0 -9.0M425.2 70.6l1.1 -4.8l2.0 6.7l1.6 -8.8l1.8 6.4M437.0 326.3l1.5 -8.6M588.0 313.5l2.0 -7.8l2.3 6.4M526.2 302.0l1.8 7.1l2.0 -4.9M558.2 287.4l1.2 -8.8l1.8 7.6l1.0 -6.0l1.2 4.6M425.5 31.5l1.1 6.2l1.7 -4.7l1.8 5.0l2.1 -8.8M447.2 230.4l2.3 -8.3l1.6 7.8M443.5 246.2l2.2 7.0l1.5 -8.2l1.5 7.6l1.3 -4.8M517.9 279.2l1.3 -8.4l2.0 9.0l1.5 -6.5l2.1 6.5M518.7 318.0l2.0 -5.9l1.0 8.6l2.3 -5.3l2.0 5.2M436.4 265.2l2.1 5.9l1.5 -9.0M538.0 248.2l1.1 -5.0l1.4 5.4M562.5 329.5l1.3 -8.3l1.9 8.9l2.2 -5.3M546.9 310.4l2.0 -7.7M552.7 257.3l1.0 -4.7l2.0 6.3l1.2 -7.2l1.4 7.3M408.8 81.6l1.1 6.3l1.0 -7.6M565.6 260.1l2.2 -7.4M578.0 304.9l1.9 7.7l1.5 -6.5M526.5 324.1l1.7 -8.6l1.1 5.8l1.2 -7.7l2.4 6.2M548.6 313.2l1.4 8.3l1.6 -7.2M550.9 288.3l2.3 -5.5l2.3 6.9M463.8 266.3l2.3 -8.3l2.3 8.9l2.2 -7.0l2.4 8.3M433.4 259.5l1.3 -5.2M512.6 309.8l1.2 6.7l2.4 -6.5l1.7 8.8M460.6 243.0l2.2 -7.0l1.7 4.7M458.2 320.3l1.9 -6.2M466.6 314.4l1.3 7.9l1.5 -7.1M509.0 294.2l1.1 -4.9M415.8 323.8l1.1 -6.8M552.5 286.7l1.7 -5.9l2.1 8.4l1.3 -6.7l1.7 8.3M463.4 258.8l1.7 7.6l2.3 -8.0l2.0 6.0M472.0 269.4l1.9 8.9l1.2 -8.3l2.3 8.4M558.1 263.9l2.2 -4.8l1.1 8.9M561.6 317.3l1.0 8.2l2.0 -6.1M467.4 27.3l2.2 6.0l2.3 -8.2M553.9 315.9l1.6 6.5l1.4 -8.7l2.2 8.8l1.5 -5.8M421.7 294.4l1.3 -5.1M458.1 248.6l2.1 -7.0l2.4 6.9" stroke="rgb(240,230,200)" stroke-width="1.6" fill="none" stroke-linecap="round" stroke-linejoin="round"/><path d="M550.2 236.4l1.7 -4.6M487.9 304.2l1.7 -5.5l1.4 4.7l1.6 -8.3M420.0 291.5l2.1 -6.4l1.4 5.2l2.0 -8.8M425.3 299.2l1.4 8.6l1.3 -8.8M564.1 234.6l2.1 5.5l1.1 -5.2l2.0 8.7M457.8 43.4l2.0 -8.2l1.9 7.5l1.8 -4.9l1.7 7.4M442.0 26.9l1.3 8.3l2.3 -7.6M449.5 270.5l1.8 7.8l2.3 -8.5l2.4 4.6l1.8 -8.3M437.8 271.0l1.0 4.9l1.7 -7.3M420.4 52.5l1.4 -7.2l1.5 7.6l2.0 -5.5l1.9 6.0M569.6 291.6l1.9 -4.9l1.4 8.8M499.9 295.4l1.7 -6.2M425.2 47.6l1.2 -6.7M538.8 310.7l1.7 -4.9l2.1 7.3M471.3 319.3l1.1 5.9l2.2 -5.7l1.7 8.9l1.9 -5.0M531.4 286.2l1.4 -8.2M461.0 48.4l1.5 -8.1l2.3 6.0l2.1 -6.0M415.3 222.8l1.2 5.1l1.8 -4.6l2.3 6.1M485.0 281.7l1.9 -8.1l1.1 5.9l1.5 -8.5M552.5 302.0l1.2 -7.1l1.9 8.7M514.1 191.5l1.6 -5.9M486.7 264.4l1.2 -6.8M581.0 308.4l1.4 8.3l1.6 -4.9M500.8 231.5l1.2 6.3l1.7 -5.9M485.3 226.3l1.5 -8.7l2.2 8.2M647.3 32.6l2.2 5.2l2.0 -8.6l2.2 7.9M547.3 297.9l2.1 -7.6l1.8 7.4M530.1 323.1l1.3 -4.8M538.7 302.3l1.1 -6.5l1.2 6.6l1.7 -7.9M421.4 288.6l1.3 -6.4l1.9 8.2l2.2 -5.4M484.3 192.2l1.7 8.0l1.0 -5.3M479.2 248.4l1.9 6.6l1.1 -5.9M435.8 26.5l1.3 -8.6l2.0 9.0M498.4 286.6l2.1 -5.4M535.0 308.9l2.0 -7.0l1.0 5.8l1.8 -5.4M574.5 275.1l2.1 6.1l1.5 -5.4M444.2 245.0l1.7 -8.7l2.3 8.7l2.1 -8.5l1.1 6.7M476.6 209.5l1.0 6.5M519.8 226.1l1.2 5.4l1.9 -6.5l1.2 5.7l1.4 -4.8M444.9 296.3l1.4 8.8l2.0 -6.0l1.7 6.2l1.9 -6.5M542.6 249.1l2.2 8.7l1.4 -4.5l1.5 7.5l1.5 -6.3M526.1 314.8l2.1 -6.5M461.8 228.0l1.7 5.2M408.9 309.2l1.7 8.1M534.3 200.2l1.3 6.0l2.3 -8.2l1.3 7.9M649.7 57.8l1.3 -8.4l1.5 5.4l1.8 -7.2M645.1 44.5l1.1 -7.4l1.7 5.6l2.0 -8.0M428.0 272.5l2.0 8.4l1.4 -6.6l1.9 8.7M553.9 269.8l2.4 -7.8l2.1 5.5M461.7 227.5l1.4 6.3M480.9 299.6l2.0 7.7l1.8 -8.0l1.3 7.5M514.1 236.1l1.2 7.3l1.7 -6.2l1.8 6.3M527.4 252.5l1.5 4.5l1.2 -4.6l1.2 4.8M515.7 258.2l1.3 -6.2M468.6 281.3l1.5 7.7l2.0 -4.5M557.9 296.6l1.8 7.0M528.2 298.5l2.0 -4.7l1.5 7.0M535.5 282.5l2.1 8.4l2.2 -8.3l1.4 7.2l2.2 -8.1M564.9 301.5l2.3 6.1l2.0 -4.8l1.5 4.9l1.7 -5.4M564.0 326.8l1.5 -7.7l2.2 6.5l1.9 -5.2l2.1 8.9M510.2 270.8l1.2 5.3l1.9 -6.9l1.4 6.8l1.9 -8.6M572.7 297.7l1.4 7.3l2.0 -6.2l1.7 6.0l1.8 -7.2M427.6 50.9l1.9 7.0M486.0 325.4l1.9 -7.5l1.2 5.8l2.3 -7.9l1.9 7.1M603.7 24.4l1.0 8.4l2.0 -9.0l1.7 5.3M528.6 310.2l2.4 7.8l1.1 -4.8M574.9 308.8l2.1 -5.4M457.9 224.9l2.2 -7.0l1.6 6.4l1.1 -7.0l1.2 8.6M471.8 274.0l1.3 6.5l2.1 -5.7M506.9 252.5l2.2 -7.4l1.8 5.4l1.2 -5.2l2.1 7.5M438.3 180.2l1.7 6.4M523.2 284.3l1.1 -4.8M499.5 225.7l1.0 6.6l1.3 -5.0l2.2 6.5l1.1 -5.0M521.9 302.5l1.6 5.4l1.3 -7.7l2.1 7.9l2.4 -5.3M503.3 227.2l1.4 -4.8M431.6 186.9l2.2 -8.4l1.8 6.9l2.0 -4.8M488.7 282.7l2.3 -7.6l1.4 7.7l2.2 -6.0M509.1 315.2l1.0 -5.6l1.0 8.7l2.0 -7.0l1.0 7.0M456.2 325.8l1.3 7.1l2.0 -7.9M519.6 294.1l2.3 -5.6l1.3 5.2M548.5 260.6l1.8 8.1l2.4 -6.9l1.8 5.5l1.2 -5.9M516.8 256.0l1.8 7.0l2.2 -6.2l1.4 7.9M489.7 231.1l1.5 7.3l1.1 -6.4M523.5 279.3l2.0 -8.8M551.2 288.3l1.5 7.7M449.0 215.7l1.9 -8.9l2.3 4.7M491.4 265.2l2.2 5.7l1.5 -5.2M423.7 304.6l2.0 8.6l1.5 -5.6l1.4 5.6l1.2 -6.7M465.5 247.6l1.4 4.8l2.1 -8.1l1.2 5.1M508.5 318.1l1.4 7.0l2.0 -8.7l1.3 6.3M438.6 296.5l2.0 -6.6M517.1 236.2l1.1 5.0M450.4 283.2l2.2 7.9l2.0 -6.0l1.0 5.0M533.3 199.2l2.2 6.9l1.1 -7.0M464.4 209.7l1.1 -9.0M584.3 298.0l1.1 5.8M548.1 220.6l1.9 -9.0l2.1 6.9l1.5 -7.8l2.2 8.3M443.3 290.6l1.5 6.7l1.3 -7.8l1.9 8.6l2.2 -7.9M437.3 246.8l1.4 -8.2l1.6 6.7M567.3 305.0l1.9 -5.3l1.6 5.7l2.4 -5.9l1.6 4.7M437.9 50.2l1.1 5.4M563.7 271.0l1.8 8.4l1.9 -7.0M645.4 21.7l1.4 7.9l1.7 -6.7l2.2 5.2M564.7 305.8l1.9 -6.2l1.6 8.4l1.9 -4.7l1.2 9.0M501.7 278.7l2.1 -4.5l1.6 7.0l1.2 -5.6l1.1 5.5M442.0 52.0l1.2 6.6l1.7 -7.9l2.1 7.8M522.6 234.7l2.0 8.6l1.3 -7.5l1.2 6.9l1.4 -7.0M474.4 325.3l1.0 -4.5l1.8 5.4l2.1 -6.4M557.3 321.6l1.3 -5.5l1.7 8.3M542.3 269.9l2.3 -8.2l1.4 7.2l1.4 -8.8M441.0 273.5l1.4 4.9l1.4 -6.0l2.4 8.2M561.5 319.8l1.6 -7.3l1.1 6.1l1.8 -8.9l1.3 6.0M621.3 103.2l1.1 -7.9l1.2 8.8" stroke="rgb(230,214,172)" stroke-width="1.6" fill="none" stroke-linecap="round" stroke-linejoin="round"/><path d="M441.4 171.7l1.0 -7.1l2.3 8.3M449.6 289.7l1.5 4.6l1.3 -7.9l1.9 4.9M444.2 273.4l1.6 -5.9l1.4 8.0l1.9 -8.4l2.3 4.5M513.1 327.6l1.0 6.9M469.0 296.4l1.1 -5.3l1.3 4.9l2.0 -8.3M569.0 264.9l2.3 -6.9l1.8 4.7M481.7 311.9l1.7 5.3M641.3 27.6l1.9 7.7l2.1 -5.1M507.5 237.1l2.2 7.1M504.5 271.0l1.4 -5.8l1.6 6.4M571.6 287.6l2.2 6.3l1.5 -5.7l1.2 5.3l1.2 -6.6M413.2 42.1l1.8 5.7l1.9 -7.0l1.7 7.7M533.7 242.2l1.3 -8.4l2.2 6.1M526.9 297.7l1.3 6.9l1.4 -8.4l2.1 8.0l1.0 -6.4M432.2 309.7l1.5 -7.6l1.3 8.2l1.2 -5.4l2.1 5.1M472.9 245.3l1.5 8.8l1.2 -7.4l1.4 6.4M505.7 244.2l1.7 -8.4l2.3 6.5l1.2 -8.1M409.4 320.8l2.2 6.3M486.5 301.9l1.8 -5.6M449.8 322.8l1.5 -4.8l1.1 8.3l1.9 -5.6M517.0 233.0l1.0 -5.8l1.9 4.7l1.4 -8.9M512.2 307.7l1.2 6.5l1.4 -7.5M419.4 298.2l2.1 6.5M508.4 239.6l2.2 6.4l1.5 -5.5M516.3 286.4l1.9 -6.3l1.3 8.2l1.1 -8.1l1.1 5.5M562.0 257.8l1.2 8.5l1.1 -7.9l2.0 8.1M442.9 318.6l1.3 -6.4l1.4 4.8M470.8 210.6l2.1 -8.0M414.0 250.6l1.6 7.5l1.1 -7.2l2.1 7.5M551.5 238.7l1.4 -7.3M496.1 177.5l1.2 -8.6l1.3 8.5M453.9 39.4l2.1 7.7M439.0 28.3l2.4 5.8l1.5 -5.7l2.1 7.0l1.4 -6.5M514.4 273.5l2.1 7.6l1.2 -5.5M546.5 252.2l2.3 -7.7M418.4 291.5l1.1 -6.3l2.3 8.1l1.0 -8.0M516.8 269.8l1.5 4.9l1.2 -5.0M479.7 203.3l1.3 7.9l1.4 -7.7M423.2 270.7l2.3 6.4l2.2 -5.7l2.4 8.0l2.0 -6.6M556.9 326.5l1.1 -7.5l2.2 7.2l1.9 -7.7l1.9 9.0M453.5 242.1l2.4 7.8M531.0 317.5l1.7 6.4l2.4 -8.6l2.3 8.0l1.7 -8.3M528.9 283.2l1.3 5.0l1.2 -5.7M480.6 247.6l1.3 8.3l1.4 -8.2l2.0 8.8M451.6 28.3l2.0 8.7l1.8 -4.5l2.3 7.1l2.4 -8.8M515.0 321.7l1.7 8.0l1.3 -6.2M520.3 311.8l2.4 8.5l1.8 -5.3M520.9 204.1l2.4 -7.6M470.1 326.4l1.3 -8.8M533.3 228.7l1.9 -6.7l1.2 4.5l2.0 -5.0l2.3 5.4M488.3 303.3l1.0 8.9l2.1 -6.9M610.2 26.8l1.1 6.6l1.1 -8.8l2.3 4.7M505.2 306.5l1.8 5.0l1.6 -5.6M494.8 263.8l1.8 -6.3l1.1 6.6l2.0 -6.1l1.2 7.3M413.6 319.4l1.3 7.3l1.1 -8.5l1.1 6.3M459.1 328.3l1.2 -6.1l1.5 5.6l2.3 -8.3M518.5 297.9l2.1 5.5l2.1 -4.8l2.1 4.6l2.4 -8.7M423.1 312.8l1.9 5.2l2.0 -4.7M618.1 80.5l1.2 8.9M567.6 310.8l2.3 8.9M441.4 172.3l1.3 8.1l2.0 -5.9l1.8 7.1" stroke="rgb(218,196,140)" stroke-width="1.6" fill="none" stroke-linecap="round" stroke-linejoin="round"/><path d="M493.4 165.2l1.5 -7.5l2.2 6.4l1.7 -8.7M548.0 292.5l1.1 5.1l1.4 -7.2l2.1 5.2M479.4 310.5l1.9 -8.4M507.4 279.9l2.2 -5.2l1.5 8.1l1.8 -6.6l2.0 7.3M498.8 314.3l1.3 5.3M514.4 235.5l1.5 7.2l1.9 -8.3l1.5 6.2l1.8 -6.1M561.2 267.2l1.5 -8.1M510.1 247.3l2.2 4.7l1.7 -6.8l1.6 5.3M495.0 241.4l2.1 5.3l1.8 -6.7M541.0 295.7l1.0 -6.7M518.4 313.6l1.1 7.4l2.2 -5.1l2.2 7.2M428.8 25.8l1.1 -6.0l2.1 7.7M413.1 289.3l2.3 5.8M472.7 264.1l1.7 -8.4l2.3 6.1l1.2 -4.7l1.5 7.5M443.3 24.0l2.0 8.0M482.0 249.0l1.1 -4.6l1.4 6.6l1.6 -4.8l1.8 6.3M480.6 198.5l1.4 -6.4l2.1 5.6M553.8 269.8l1.2 -8.1l1.5 5.6l2.3 -8.1l1.3 7.9M449.5 234.2l1.3 6.4l1.2 -9.0M407.7 318.3l2.4 -4.8l2.0 7.7l1.5 -8.8M501.8 285.3l1.6 5.3l1.8 -6.5M436.0 286.7l1.7 -7.1l2.2 4.9M482.4 268.9l1.7 -5.2l2.3 4.7l2.0 -6.1l1.5 8.2M480.9 258.7l1.0 -6.9" stroke="rgb(204,172,100)" stroke-width="1.6" fill="none" stroke-linecap="round" stroke-linejoin="round"/></g><g filter="url(#ft)"><path d="M533.4 24.4L534.7 24.5L535.9 24.6L537.2 24.8L538.4 24.9L539.7 25.1L540.9 25.3L542.2 25.4L543.4 25.6L544.6 25.8L545.9 26.0L547.1 26.1L548.3 26.4L549.6 26.6L550.8 26.8L552.0 27.0L553.2 27.3L554.4 27.6L555.7 27.8L556.9 28.1L558.1 28.4L559.4 28.7L560.6 29.0L561.8 29.3L563.1 29.6L564.3 29.9L565.5 30.1L566.8 30.4L568.0 30.7L569.3 31.0L570.5 31.3L571.8 31.5L573.0 31.8L574.2 32.1L575.5 32.4L576.7 32.6L578.0 32.9L579.2 33.1L580.5 33.4L581.7 33.7L582.3 31.3L581.1 31.0L579.9 30.6L578.7 30.2L577.5 29.8L576.3 29.4L575.0 29.1L573.8 28.7L572.6 28.3L571.4 27.9L570.2 27.5L569.0 27.1L567.8 26.7L566.6 26.3L565.4 25.9L564.2 25.5L563.0 25.1L561.8 24.7L560.6 24.2L559.4 23.8L558.2 23.4L557.0 23.0L555.8 22.6L554.5 22.2L553.3 21.9L552.1 21.5L550.8 21.1L549.6 20.8L548.3 20.4L547.1 20.1L545.8 19.8L544.6 19.5L543.3 19.2L542.1 18.9L540.8 18.6L539.6 18.3L538.3 18.1L537.1 17.8L535.8 17.5L534.6 17.2Z" fill="url(#gt)"/></g><g filter="url(#fb)"><path d="M401.2 152.7L403.2 150.9L405.1 149.2L407.1 147.5L409.0 145.7L410.9 144.0L412.9 142.3L414.8 140.6L416.7 138.8L418.7 137.1L420.6 135.4L422.5 133.6L424.4 131.9L426.4 130.1L428.3 128.4L430.2 126.7L432.2 125.0L434.1 123.2L436.0 121.5L437.9 119.8L439.9 118.1L441.8 116.3L443.7 114.6L445.6 112.9L447.6 111.2L449.5 109.5L451.4 107.8L453.3 106.1L455.3 104.4L457.2 102.7L459.1 101.0L461.0 99.3L463.0 97.6L464.9 95.9L466.8 94.2L468.7 92.5L470.7 90.9L472.6 89.2L474.5 87.5L476.4 85.9L478.3 84.2L480.3 82.6L482.2 81.0L484.1 79.4L486.0 77.8L487.9 76.2L489.8 74.6L491.7 73.1L493.6 71.5L495.5 70.0L497.4 68.5L499.3 67.1L501.1 65.7L503.0 64.3L504.8 63.0L506.7 61.7L508.5 60.5L510.3 59.4L512.0 58.4L513.7 57.5L515.4 56.6L517.0 56.0L518.6 55.4L520.0 55.0L521.4 54.7L522.8 54.5L524.1 54.5L525.4 54.6L526.8 54.8L528.2 55.1L529.7 55.6L531.3 56.2L532.9 56.9L534.6 57.8L536.3 58.7L538.1 59.8L539.9 60.9L541.7 62.1L543.5 63.4L545.4 64.8L547.3 66.1L549.1 67.6L551.0 69.0L552.9 70.5L554.8 72.0L556.7 73.6L558.6 75.1L560.5 76.7L562.4 78.3L564.3 79.9L566.2 81.5L568.1 83.2L570.1 84.8L572.0 86.4L573.9 88.1L575.8 89.8L577.7 91.4L579.6 93.1L581.6 94.8L583.5 96.5L585.4 98.2L587.3 99.9L589.3 101.6L591.2 103.3L593.1 105.0L595.0 106.7L597.0 108.4L598.9 110.1L600.8 111.9L602.7 113.6L604.7 115.3L606.6 117.0L608.5 118.8L610.4 120.5L612.4 122.2L614.3 124.0L616.2 125.7L618.2 127.4L620.1 129.2L622.0 130.9L623.9 132.7L625.9 134.4L627.8 136.1L629.7 137.9L631.7 139.6L633.6 141.4L635.5 143.1L637.5 144.8L639.4 146.6L641.3 148.3L643.3 150.1L645.2 151.8L647.2 153.5L649.1 155.3L651.0 157.0L653.0 158.7L654.9 160.5L656.9 162.2L658.8 164.0L660.8 165.7L671.2 154.0L669.3 152.3L667.4 150.5L665.4 148.8L663.5 147.0L661.5 145.3L659.6 143.6L657.6 141.8L655.7 140.1L653.8 138.3L651.8 136.6L649.9 134.9L647.9 133.1L646.0 131.4L644.0 129.7L642.1 127.9L640.1 126.2L638.2 124.5L636.2 122.8L634.2 121.1L632.3 119.4L630.3 117.6L628.4 115.9L626.4 114.2L624.5 112.5L622.5 110.8L620.5 109.1L618.6 107.4L616.6 105.7L614.7 104.0L612.7 102.3L610.8 100.6L608.8 98.9L606.8 97.2L604.9 95.5L602.9 93.8L601.0 92.1L599.0 90.4L597.0 88.7L595.1 87.1L593.1 85.4L591.1 83.7L589.2 82.0L587.2 80.4L585.3 78.7L583.3 77.1L581.3 75.4L579.4 73.8L577.4 72.1L575.4 70.5L573.4 68.9L571.5 67.3L569.5 65.7L567.5 64.1L565.5 62.5L563.5 61.0L561.6 59.4L559.6 57.9L557.6 56.4L555.5 54.9L553.5 53.5L551.5 52.0L549.4 50.7L547.4 49.3L545.3 48.0L543.2 46.8L541.0 45.6L538.8 44.5L536.6 43.5L534.2 42.6L531.9 41.8L529.4 41.2L526.9 40.9L524.3 40.7L521.8 40.8L519.2 41.1L516.7 41.6L514.3 42.3L512.0 43.1L509.7 44.1L507.5 45.2L505.3 46.3L503.2 47.6L501.1 48.9L499.0 50.2L496.9 51.6L494.9 53.0L492.9 54.4L490.9 55.9L488.9 57.4L486.9 58.9L484.9 60.5L482.9 62.0L480.9 63.6L478.9 65.2L476.9 66.8L475.0 68.4L473.0 70.0L471.0 71.6L469.1 73.2L467.1 74.8L465.1 76.5L463.2 78.1L461.2 79.8L459.2 81.4L457.3 83.1L455.3 84.8L453.3 86.4L451.4 88.1L449.4 89.8L447.5 91.5L445.5 93.1L443.5 94.8L441.6 96.5L439.6 98.2L437.7 99.9L435.7 101.6L433.8 103.3L431.8 105.0L429.8 106.7L427.9 108.4L425.9 110.1L424.0 111.8L422.0 113.5L420.0 115.2L418.1 116.9L416.1 118.6L414.2 120.3L412.2 122.0L410.3 123.7L408.3 125.4L406.3 127.1L404.4 128.8L402.4 130.5L400.5 132.3L398.5 134.0L396.6 135.7L394.7 137.5L392.7 139.2L390.8 140.9Z" fill="url(#g1e)"/><path d="M399.1 297.7L399.8 296.9L400.4 296.2L401.1 295.4L401.8 294.6L402.4 293.9L403.0 293.1L403.7 292.3L404.3 291.5L404.9 290.7L405.5 289.9L406.1 289.1L406.7 288.3L407.3 287.5L407.9 286.6L408.5 285.8L409.0 285.0L409.6 284.1L410.2 283.3L410.7 282.4L411.3 281.6L411.8 280.7L412.3 279.9L412.8 279.0L413.4 278.1L413.9 277.3L414.4 276.4L414.9 275.5L415.4 274.6L415.9 273.7L416.4 272.9L416.9 272.0L417.4 271.1L417.8 270.2L418.3 269.3L418.8 268.4L419.2 267.5L419.7 266.6L420.2 265.7L420.6 264.8L421.1 263.8L421.5 262.9L422.0 262.0L422.4 261.1L422.8 260.2L423.3 259.3L423.7 258.3L424.1 257.4L424.5 256.5L425.0 255.6L425.4 254.7L425.8 253.7L426.2 252.8L426.6 251.9L427.0 250.9L427.5 250.0L427.9 249.1L428.3 248.2L428.7 247.2L429.1 246.3L429.5 245.4L429.9 244.5L430.3 243.5L430.7 242.6L431.1 241.7L431.5 240.8L431.9 239.8L432.3 238.9L432.7 238.0L433.1 237.1L433.5 236.2L433.9 235.3L434.3 234.3L434.6 233.4L435.0 232.5L435.4 231.6L435.8 230.7L436.2 229.8L436.6 228.9L437.0 228.0L437.4 227.1L437.8 226.2L438.2 225.3L438.6 224.4L439.0 223.6L439.4 222.7L439.8 221.8L440.2 220.9L440.7 220.0L441.1 219.2L441.5 218.3L441.9 217.4L442.3 216.6L442.7 215.7L443.1 214.8L443.6 214.0L444.0 213.1L444.4 212.3L444.8 211.4L445.3 210.5L445.7 209.7L446.1 208.8L446.5 208.0L447.0 207.1L447.4 206.3L447.8 205.4L448.3 204.6L448.7 203.7L449.1 202.9L449.6 202.0L450.0 201.2L450.5 200.3L450.9 199.5L451.3 198.6L451.8 197.8L452.2 196.9L452.7 196.1L453.1 195.2L453.5 194.4L454.0 193.5L454.4 192.7L454.9 191.8L455.3 191.0L455.8 190.2L456.2 189.3L456.7 188.5L457.1 187.6L457.6 186.8L458.0 185.9L458.5 185.1L458.9 184.2L459.4 183.3L459.8 182.5L460.3 181.6L460.7 180.8L461.2 179.9L461.6 179.1L462.1 178.2L462.6 177.3L463.0 176.5L463.5 175.6L463.9 174.7L464.4 173.9L464.8 173.0L465.3 172.1L465.7 171.3L466.2 170.4L466.6 169.5L467.1 168.6L467.5 167.8L468.0 166.9L468.4 166.0L468.9 165.1L469.3 164.2L469.8 163.3L470.2 162.4L470.7 161.5L471.1 160.6L471.6 159.7L472.0 158.8L472.5 157.9L472.9 157.0L473.4 156.1L473.8 155.1L474.3 154.2L474.7 153.3L475.1 152.4L475.6 151.4L476.0 150.5L476.5 149.6L476.9 148.6L477.3 147.7L477.8 146.8L478.2 145.9L478.6 144.9L479.1 144.0L479.5 143.1L479.9 142.2L480.4 141.2L480.8 140.3L481.3 139.4L481.7 138.5L482.1 137.6L482.6 136.7L483.0 135.8L483.5 134.9L484.0 134.0L484.4 133.2L484.9 132.3L485.4 131.4L485.8 130.6L486.3 129.8L486.8 128.9L487.3 128.1L487.8 127.3L488.3 126.5L488.9 125.7L489.4 125.0L490.0 124.2L490.6 123.5L491.2 122.8L491.7 122.1L492.3 121.4L492.9 120.7L493.6 120.1L494.2 119.5L494.8 118.8L495.4 118.2L496.0 117.6L496.7 117.1L497.3 116.5L498.0 116.0L498.7 115.5L499.3 115.0L500.0 114.5L500.7 114.0L501.4 113.6L502.1 113.1L502.8 112.7L503.5 112.4L504.2 112.0L505.0 111.6L505.7 111.3L506.5 111.0L507.2 110.7L508.0 110.4L508.8 110.2L509.6 110.0L510.4 109.7L511.2 109.5L512.0 109.3L512.8 109.2L513.7 109.0L514.5 108.9L515.3 108.8L516.2 108.7L517.0 108.6L517.8 108.6L518.6 108.5L519.4 108.5L520.2 108.5L521.0 108.5L521.8 108.6L522.5 108.6L523.3 108.7L524.0 108.7L524.7 108.6L525.4 108.6L526.1 108.5L526.8 108.5L527.5 108.5L528.2 108.5L528.9 108.5L529.5 108.6L530.2 108.6L530.9 108.7L531.6 108.8L532.2 108.9L532.9 109.0L533.6 109.1L534.2 109.3L534.9 109.4L535.5 109.6L536.2 109.8L536.9 110.0L537.5 110.3L538.2 110.5L538.9 110.8L539.5 111.1L540.2 111.4L540.8 111.7L541.5 112.0L542.2 112.3L542.8 112.7L543.5 113.1L544.2 113.5L544.8 113.9L545.5 114.3L546.1 114.8L546.8 115.2L547.4 115.7L548.1 116.2L548.8 116.7L549.4 117.2L550.1 117.7L550.7 118.3L551.4 118.8L552.0 119.4L552.7 120.0L553.3 120.6L553.9 121.2L554.6 121.8L555.2 122.4L555.9 123.1L556.5 123.7L557.1 124.4L557.8 125.1L558.4 125.8L559.0 126.5L559.7 127.2L560.3 127.9L560.9 128.7L561.5 129.4L562.1 130.2L562.8 130.9L563.4 131.7L563.9 132.5L564.5 133.3L565.1 134.1L565.7 134.9L566.2 135.8L566.8 136.6L567.4 137.5L567.9 138.3L568.5 139.2L569.0 140.0L569.6 140.9L570.2 141.8L570.7 142.6L571.3 143.5L571.8 144.4L572.4 145.3L572.9 146.2L573.5 147.1L574.0 148.0L574.6 148.9L575.1 149.8L575.7 150.7L576.2 151.6L576.7 152.5L577.3 153.4L577.8 154.3L578.4 155.2L578.9 156.1L579.4 157.0L580.0 157.9L580.5 158.8L581.1 159.8L581.6 160.7L582.1 161.6L582.7 162.5L583.2 163.4L583.8 164.3L584.3 165.2L584.8 166.1L585.4 167.0L585.9 167.9L586.5 168.8L587.0 169.6L587.5 170.5L588.1 171.4L588.6 172.3L589.1 173.2L589.7 174.0L590.2 174.9L590.7 175.8L591.3 176.6L591.8 177.5L592.3 178.4L592.9 179.2L593.4 180.1L593.9 180.9L594.4 181.8L595.0 182.6L595.5 183.5L596.0 184.3L596.5 185.2L597.0 186.0L597.6 186.9L598.1 187.7L598.6 188.6L599.1 189.4L599.6 190.2L600.1 191.1L600.6 191.9L601.2 192.7L601.7 193.6L602.2 194.4L602.7 195.2L603.2 196.0L603.7 196.9L604.2 197.7L604.7 198.5L605.2 199.3L605.7 200.2L606.2 201.0L606.7 201.8L607.1 202.6L607.6 203.4L608.1 204.2L608.6 205.0L609.1 205.9L609.6 206.7L610.1 207.5L610.6 208.3L611.1 209.1L611.6 209.9L612.1 210.7L612.6 211.5L613.1 212.3L613.5 213.1L614.0 213.9L614.5 214.7L615.0 215.5L615.4 216.3L615.9 217.1L616.4 217.9L616.8 218.7L617.3 219.5L617.8 220.3L618.2 221.2L618.7 222.0L619.1 222.8L619.6 223.6L620.0 224.4L620.5 225.2L620.9 226.0L621.4 226.8L621.8 227.6L622.2 228.4L622.7 229.3L623.1 230.1L623.5 230.9L624.0 231.7L624.4 232.5L624.8 233.3L625.2 234.2L625.7 235.0L626.1 235.8L626.5 236.6L626.9 237.5L627.3 238.3L627.7 239.1L628.1 239.9L628.5 240.8L628.9 241.6L629.3 242.5L629.7 243.3L630.1 244.1L630.5 245.0L630.8 245.8L631.2 246.7L631.6 247.5L632.0 248.4L632.3 249.2L632.7 250.1L633.1 250.9L633.4 251.8L633.8 252.7L634.1 253.5L634.5 254.4L634.8 255.3L635.2 256.1L635.5 257.0L635.9 257.9L636.2 258.8L636.5 259.7L636.9 260.5L637.2 261.4L637.5 262.3L637.8 263.2L638.1 264.1L638.4 265.1L638.7 266.0L639.0 266.9L639.3 267.8L639.5 268.7L639.8 269.7L640.1 270.6L640.4 271.5L640.9 272.4L641.4 273.3L641.8 274.2L642.3 275.0L642.8 275.9L643.3 276.8L643.7 277.8L644.2 278.7L644.7 279.6L645.1 280.5L645.6 281.5L646.0 282.4L646.5 283.3L646.9 284.3L647.4 285.3L647.8 286.2L648.3 287.2L648.7 288.2L649.2 289.2L649.6 290.1L650.0 291.2L650.5 291.1L650.5 290.0L650.6 288.9L650.6 287.8L650.6 286.7L650.7 285.6L650.7 284.6L650.7 283.5L650.7 282.4L650.7 281.3L650.7 280.3L650.7 279.2L650.7 278.1L650.7 277.1L650.7 276.0L650.6 275.0L650.6 273.9L650.6 272.9L650.5 271.8L650.5 270.8L650.4 269.7L650.3 268.7L650.1 267.7L649.8 266.7L649.5 265.7L649.2 264.8L648.9 263.8L648.6 262.8L648.3 261.9L648.0 260.9L647.7 260.0L647.4 259.0L647.1 258.1L646.7 257.1L646.4 256.2L646.1 255.2L645.8 254.3L645.5 253.4L645.2 252.4L644.8 251.5L644.5 250.6L644.2 249.7L643.8 248.7L643.5 247.8L643.1 246.9L642.8 246.0L642.4 245.1L642.1 244.2L641.7 243.3L641.4 242.4L641.0 241.5L640.6 240.6L640.3 239.7L639.9 238.8L639.5 237.9L639.1 237.0L638.8 236.1L638.4 235.2L638.0 234.4L637.6 233.5L637.2 232.6L636.8 231.7L636.4 230.9L636.0 230.0L635.6 229.1L635.2 228.2L634.8 227.4L634.4 226.5L634.0 225.6L633.6 224.8L633.1 223.9L632.7 223.1L632.3 222.2L631.9 221.3L631.4 220.5L631.0 219.6L630.6 218.8L630.1 217.9L629.7 217.1L629.3 216.2L628.8 215.4L628.4 214.5L627.9 213.7L627.5 212.8L627.0 212.0L626.6 211.2L626.1 210.3L625.7 209.5L625.2 208.6L624.8 207.8L624.3 206.9L623.8 206.1L623.4 205.3L622.9 204.4L622.4 203.6L622.0 202.7L621.5 201.9L621.0 201.1L620.5 200.2L620.1 199.4L619.6 198.5L619.1 197.7L618.6 196.9L618.1 196.0L617.6 195.2L617.1 194.4L616.6 193.5L616.1 192.7L615.6 191.9L615.1 191.0L614.6 190.2L614.1 189.4L613.6 188.5L613.1 187.7L612.6 186.9L612.1 186.0L611.6 185.2L611.0 184.4L610.5 183.5L610.0 182.7L609.5 181.8L609.0 181.0L608.5 180.2L607.9 179.3L607.4 178.5L606.9 177.6L606.4 176.8L605.9 175.9L605.3 175.1L604.8 174.2L604.3 173.4L603.8 172.5L603.2 171.7L602.7 170.8L602.2 170.0L601.6 169.1L601.1 168.2L600.6 167.4L600.1 166.5L599.5 165.6L599.0 164.8L598.5 163.9L597.9 163.0L597.4 162.1L596.9 161.3L596.3 160.4L595.8 159.5L595.3 158.6L594.7 157.7L594.2 156.8L593.7 155.9L593.1 155.0L592.6 154.1L592.1 153.2L591.5 152.3L591.0 151.4L590.5 150.5L589.9 149.6L589.4 148.7L588.8 147.7L588.3 146.8L587.7 145.9L587.2 145.0L586.6 144.1L586.1 143.1L585.5 142.2L584.9 141.3L584.4 140.4L583.8 139.5L583.3 138.5L582.7 137.6L582.1 136.7L581.5 135.8L581.0 134.9L580.4 134.0L579.8 133.1L579.2 132.2L578.6 131.3L578.0 130.4L577.4 129.5L576.8 128.6L576.2 127.7L575.6 126.8L575.0 125.9L574.4 125.1L573.8 124.2L573.2 123.3L572.6 122.4L572.0 121.5L571.4 120.7L570.8 119.8L570.1 118.9L569.5 118.1L568.9 117.2L568.3 116.4L567.6 115.6L567.0 114.7L566.3 113.9L565.7 113.1L565.0 112.3L564.3 111.5L563.7 110.7L563.0 109.9L562.3 109.1L561.6 108.4L560.9 107.6L560.2 106.9L559.4 106.1L558.7 105.4L558.0 104.7L557.2 104.0L556.4 103.3L555.7 102.6L554.9 101.9L554.1 101.3L553.3 100.6L552.5 100.0L551.7 99.4L550.8 98.7L550.0 98.1L549.1 97.6L548.2 97.0L547.4 96.4L546.5 95.9L545.6 95.4L544.6 94.9L543.7 94.4L542.8 93.9L541.8 93.5L540.8 93.1L539.8 92.6L538.8 92.2L537.8 91.9L536.8 91.5L535.8 91.2L534.7 90.9L533.7 90.6L532.6 90.4L531.5 90.1L530.4 89.9L529.3 89.7L528.2 89.6L527.0 89.4L525.9 89.3L524.7 89.2L523.6 89.2L522.4 89.2L521.2 89.4L520.1 89.6L518.9 89.9L517.8 90.1L516.6 90.4L515.5 90.7L514.3 91.0L513.2 91.4L512.1 91.7L510.9 92.1L509.8 92.6L508.7 93.0L507.6 93.5L506.6 94.0L505.5 94.5L504.4 95.0L503.4 95.5L502.3 96.1L501.3 96.7L500.3 97.3L499.3 98.0L498.4 98.6L497.4 99.3L496.5 100.0L495.6 100.7L494.7 101.4L493.9 102.1L493.0 102.9L492.2 103.7L491.4 104.4L490.6 105.2L489.9 106.0L489.2 106.8L488.4 107.7L487.7 108.5L487.0 109.3L486.4 110.2L485.7 111.0L485.1 111.9L484.5 112.8L483.9 113.7L483.3 114.5L482.7 115.4L482.1 116.3L481.6 117.2L481.0 118.2L480.5 119.1L479.9 120.0L479.4 120.9L478.9 121.8L478.4 122.8L477.8 123.7L477.3 124.6L476.8 125.5L476.3 126.4L475.7 127.4L475.2 128.3L474.8 129.2L474.3 130.2L473.8 131.1L473.3 132.0L472.8 133.0L472.4 133.9L471.9 134.9L471.5 135.8L471.0 136.7L470.5 137.7L470.1 138.6L469.7 139.6L469.2 140.5L468.8 141.4L468.3 142.4L467.9 143.3L467.5 144.2L467.0 145.2L466.6 146.1L466.2 147.0L465.7 147.9L465.3 148.8L464.9 149.7L464.4 150.6L464.0 151.5L463.6 152.4L463.1 153.3L462.7 154.2L462.3 155.1L461.8 156.0L461.4 156.9L460.9 157.8L460.5 158.6L460.1 159.5L459.6 160.4L459.2 161.3L458.7 162.1L458.3 163.0L457.8 163.9L457.4 164.8L456.9 165.6L456.5 166.5L456.0 167.3L455.6 168.2L455.1 169.1L454.7 169.9L454.2 170.8L453.8 171.6L453.3 172.5L452.9 173.4L452.4 174.2L452.0 175.1L451.5 175.9L451.1 176.8L450.6 177.6L450.2 178.5L449.7 179.3L449.3 180.2L448.8 181.0L448.4 181.9L447.9 182.7L447.5 183.6L447.0 184.4L446.6 185.3L446.1 186.1L445.7 187.0L445.2 187.8L444.8 188.7L444.3 189.6L443.9 190.4L443.4 191.3L443.0 192.1L442.6 193.0L442.1 193.8L441.7 194.7L441.2 195.5L440.8 196.4L440.3 197.2L439.9 198.1L439.4 199.0L439.0 199.8L438.6 200.7L438.1 201.6L437.7 202.4L437.3 203.3L436.8 204.2L436.4 205.0L435.9 205.9L435.5 206.8L435.1 207.7L434.6 208.5L434.2 209.4L433.8 210.3L433.4 211.2L432.9 212.1L432.5 213.0L432.1 213.8L431.7 214.7L431.2 215.6L430.8 216.5L430.4 217.4L430.0 218.3L429.6 219.2L429.2 220.1L428.7 221.1L428.3 222.0L427.9 222.9L427.5 223.8L427.1 224.7L426.7 225.6L426.3 226.5L425.9 227.5L425.5 228.4L425.1 229.3L424.7 230.2L424.3 231.1L423.9 232.1L423.5 233.0L423.1 233.9L422.7 234.8L422.3 235.7L421.9 236.7L421.5 237.6L421.1 238.5L420.7 239.4L420.3 240.3L419.9 241.2L419.5 242.2L419.1 243.1L418.7 244.0L418.3 244.9L417.9 245.8L417.5 246.7L417.1 247.6L416.7 248.5L416.3 249.5L415.9 250.4L415.5 251.3L415.1 252.2L414.7 253.1L414.3 253.9L413.8 254.8L413.4 255.7L413.0 256.6L412.6 257.5L412.2 258.4L411.7 259.3L411.3 260.1L410.9 261.0L410.4 261.9L410.0 262.7L409.5 263.6L409.1 264.5L408.6 265.3L408.2 266.2L407.7 267.0L407.3 267.9L406.8 268.7L406.3 269.5L405.9 270.4L405.4 271.2L404.9 272.0L404.4 272.8L403.9 273.6L403.5 274.4L403.0 275.2L402.5 276.0L402.0 276.8L401.5 277.6L400.9 278.4L400.4 279.1L399.9 279.9L399.4 280.7L398.8 281.4L398.3 282.2L397.8 282.9L397.2 283.7L396.7 284.4L396.1 285.1L395.5 285.8L395.0 286.5L394.4 287.3L393.8 288.0L393.2 288.6L392.6 289.3L392.0 290.0L391.4 290.7Z" fill="url(#g2e)"/><path d="M559.9 137.6L560.6 138.9L561.3 140.3L561.9 141.7L562.5 143.1L563.1 144.5L563.7 145.9L564.3 147.4L564.9 148.8L565.4 150.2L566.0 151.6L566.6 153.0L567.2 154.4L567.8 155.8L568.4 157.2L569.0 158.6L569.6 160.1L570.2 161.5L570.8 162.9L571.4 164.3L572.0 165.7L572.6 167.1L573.2 168.5L573.8 169.9L574.4 171.3L575.0 172.8L575.6 174.2L576.2 175.6L576.8 177.0L577.4 178.4L578.0 179.8L578.5 181.2L579.1 182.6L579.7 184.0L580.3 185.5L580.9 186.9L581.6 188.2L582.4 189.6L583.1 190.9L583.8 192.2L584.5 193.6L585.2 194.9L585.9 196.3L586.6 197.7L587.3 199.0L588.0 200.4L588.7 201.7L589.4 203.1L590.0 204.4L590.7 205.8L591.4 207.2L592.1 208.5L592.8 209.9L593.5 211.2L594.2 212.6L594.9 213.9L595.5 215.3L596.2 216.7L596.9 218.0L597.6 219.4L598.3 220.7L599.0 222.1L599.6 223.5L600.3 224.8L601.0 226.2L601.7 227.6L602.3 228.9L603.0 230.3L603.7 231.6L604.4 233.0L605.1 234.4L605.8 235.7L606.5 237.0L607.2 238.4L607.9 239.7L608.6 241.1L609.3 242.4L610.0 243.8L610.7 245.1L611.3 246.5L612.0 247.8L612.7 249.2L613.4 250.6L614.1 251.9L614.8 253.3L615.5 254.6L616.2 256.0L616.9 257.3L617.5 258.7L618.2 260.0L618.9 261.4L619.6 262.7L620.3 264.1L620.9 265.5L621.6 266.8L622.3 268.2L623.0 269.5L623.6 270.9L624.3 272.3L625.0 273.6L625.6 275.0L626.3 276.4L627.0 277.7L627.6 279.1L628.3 280.4L628.9 281.8L629.6 283.2L630.3 284.5L630.9 285.9L631.6 287.3L632.2 288.6L633.3 289.8L634.6 290.9L636.0 291.9L637.3 293.0L638.6 294.0L639.9 295.1L641.2 296.2L642.6 297.2L643.9 298.3L645.2 297.7L645.2 296.0L645.2 294.3L645.3 292.6L645.3 290.9L645.3 289.2L645.4 287.5L645.4 285.8L645.4 284.1L645.2 282.5L644.6 281.1L643.9 279.7L643.2 278.3L642.6 276.9L641.9 275.6L641.3 274.2L640.6 272.8L639.9 271.4L639.2 270.0L638.6 268.7L637.9 267.3L637.2 265.9L636.6 264.5L635.9 263.2L635.2 261.8L634.5 260.4L633.8 259.0L633.1 257.7L632.5 256.3L631.8 254.9L631.1 253.6L630.4 252.2L629.7 250.8L629.0 249.5L628.3 248.1L627.6 246.7L626.9 245.4L626.3 244.0L625.6 242.6L624.9 241.3L624.2 239.9L623.5 238.6L622.8 237.2L622.1 235.8L621.4 234.5L620.7 233.1L620.0 231.8L619.2 230.4L618.5 229.1L617.8 227.7L617.1 226.3L616.4 225.0L615.6 223.7L614.9 222.3L614.2 221.0L613.4 219.6L612.7 218.3L611.9 217.0L611.2 215.6L610.4 214.3L609.7 213.0L609.0 211.6L608.2 210.3L607.5 209.0L606.7 207.6L606.0 206.3L605.2 205.0L604.5 203.6L603.7 202.3L603.0 201.0L602.2 199.6L601.5 198.3L600.7 197.0L600.0 195.7L599.2 194.3L598.5 193.0L597.7 191.7L597.0 190.3L596.2 189.0L595.5 187.7L594.7 186.4L594.0 185.0L593.3 183.7L592.5 182.3L591.8 181.0L591.0 179.7L590.1 178.4L589.2 177.2L588.4 175.9L587.5 174.6L586.7 173.4L585.8 172.1L585.0 170.8L584.1 169.5L583.2 168.3L582.4 167.0L581.5 165.7L580.7 164.5L579.8 163.2L579.0 161.9L578.1 160.7L577.2 159.4L576.4 158.1L575.5 156.9L574.7 155.6L573.8 154.3L573.0 153.0L572.1 151.8L571.2 150.5L570.4 149.2L569.5 148.0L568.7 146.7L567.8 145.4L567.0 144.2L566.1 142.9L565.3 141.6L564.4 140.3L563.5 139.1L562.8 137.8L562.0 136.4Z" fill="url(#g3e)"/></g><g filter="url(#fc)"><path d="M399.8 151.0L401.7 149.3L403.6 147.6L405.6 145.8L407.5 144.1L409.5 142.4L411.4 140.7L413.3 138.9L415.3 137.2L417.2 135.4L419.1 133.7L421.1 132.0L423.0 130.2L424.9 128.5L426.8 126.8L428.8 125.0L430.7 123.3L432.6 121.6L434.6 119.9L436.5 118.1L438.4 116.4L440.3 114.7L442.3 113.0L444.2 111.2L446.1 109.5L448.0 107.8L450.0 106.1L451.9 104.4L453.8 102.7L455.8 101.0L457.7 99.3L459.6 97.6L461.5 95.9L463.5 94.2L465.4 92.5L467.3 90.9L469.2 89.2L471.2 87.5L473.1 85.9L475.0 84.2L476.9 82.6L478.8 80.9L480.8 79.3L482.7 77.7L484.6 76.1L486.5 74.5L488.4 72.9L490.3 71.3L492.2 69.8L494.1 68.3L496.0 66.8L497.9 65.3L499.8 63.9L501.7 62.5L503.6 61.2L505.4 59.9L507.3 58.7L509.1 57.5L511.0 56.5L512.7 55.5L514.5 54.6L516.2 53.9L517.9 53.3L519.5 52.8L521.1 52.5L522.6 52.3L524.1 52.3L525.6 52.4L527.2 52.6L528.8 53.0L530.4 53.5L532.1 54.2L533.8 54.9L535.6 55.8L537.4 56.8L539.2 57.9L541.1 59.1L542.9 60.3L544.8 61.6L546.7 63.0L548.6 64.4L550.4 65.8L552.3 67.3L554.2 68.8L556.2 70.3L558.1 71.9L560.0 73.4L561.9 75.0L563.8 76.6L565.7 78.2L567.6 79.8L569.6 81.5L571.5 83.1L573.4 84.8L575.3 86.4L577.2 88.1L579.2 89.8L581.1 91.4L583.0 93.1L584.9 94.8L586.9 96.5L588.8 98.2L590.7 99.9L592.6 101.6L594.6 103.3L596.5 105.1L598.4 106.8L600.3 108.5L602.3 110.2L604.2 111.9L606.1 113.7L608.1 115.4L610.0 117.1L611.9 118.8L613.8 120.6L615.8 122.3L617.7 124.1L619.6 125.8L621.5 127.5L623.5 129.3L625.4 131.0L627.3 132.8L629.3 134.5L631.2 136.2L633.1 138.0L635.0 139.7L637.0 141.5L638.9 143.2L640.9 144.9L642.8 146.7L644.7 148.4L646.7 150.1L648.6 151.9L650.6 153.6L652.5 155.4L654.5 157.1L656.4 158.8L658.3 160.6L660.3 162.3L662.2 164.1L669.8 155.6L667.8 153.9L665.9 152.2L663.9 150.4L662.0 148.7L660.1 146.9L658.1 145.2L656.2 143.5L654.2 141.7L652.3 140.0L650.3 138.2L648.4 136.5L646.5 134.8L644.5 133.0L642.6 131.3L640.6 129.6L638.7 127.9L636.7 126.1L634.7 124.4L632.8 122.7L630.8 121.0L628.9 119.3L626.9 117.6L625.0 115.9L623.0 114.2L621.0 112.4L619.1 110.7L617.1 109.0L615.2 107.3L613.2 105.6L611.3 103.9L609.3 102.2L607.3 100.5L605.4 98.8L603.4 97.1L601.5 95.5L599.5 93.8L597.5 92.1L595.6 90.4L593.6 88.7L591.7 87.0L589.7 85.4L587.7 83.7L585.8 82.0L583.8 80.4L581.9 78.7L579.9 77.1L577.9 75.5L576.0 73.8L574.0 72.2L572.0 70.6L570.1 69.0L568.1 67.4L566.1 65.8L564.2 64.2L562.2 62.7L560.2 61.2L558.2 59.6L556.2 58.2L554.2 56.7L552.2 55.3L550.2 53.9L548.2 52.5L546.2 51.2L544.1 49.9L542.1 48.7L540.0 47.5L537.9 46.5L535.7 45.5L533.5 44.6L531.3 43.9L529.0 43.4L526.6 43.1L524.3 42.9L521.9 43.0L519.6 43.2L517.3 43.7L515.0 44.4L512.8 45.2L510.6 46.1L508.5 47.1L506.4 48.3L504.3 49.5L502.3 50.7L500.2 52.0L498.2 53.4L496.2 54.8L494.2 56.2L492.2 57.7L490.2 59.2L488.2 60.7L486.2 62.2L484.3 63.7L482.3 65.3L480.3 66.9L478.3 68.5L476.4 70.1L474.4 71.7L472.4 73.3L470.5 74.9L468.5 76.5L466.6 78.2L464.6 79.8L462.6 81.5L460.7 83.1L458.7 84.8L456.7 86.4L454.8 88.1L452.8 89.8L450.9 91.4L448.9 93.1L447.0 94.8L445.0 96.5L443.0 98.2L441.1 99.9L439.1 101.5L437.2 103.2L435.2 104.9L433.2 106.6L431.3 108.3L429.3 110.0L427.4 111.7L425.4 113.4L423.5 115.1L421.5 116.8L419.5 118.5L417.6 120.2L415.6 121.9L413.7 123.6L411.7 125.3L409.8 127.1L407.8 128.8L405.9 130.5L403.9 132.2L402.0 133.9L400.0 135.6L398.1 137.4L396.1 139.1L394.2 140.8L392.2 142.6Z" fill="url(#g1c)"/><path d="M397.2 295.9L397.8 295.2L398.5 294.5L399.1 293.7L399.8 293.0L400.4 292.2L401.0 291.5L401.6 290.7L402.3 289.9L402.9 289.1L403.4 288.3L404.0 287.6L404.6 286.8L405.2 286.0L405.8 285.1L406.3 284.3L406.9 283.5L407.4 282.7L408.0 281.9L408.5 281.0L409.1 280.2L409.6 279.4L410.1 278.5L410.6 277.7L411.1 276.8L411.6 275.9L412.1 275.1L412.6 274.2L413.1 273.4L413.6 272.5L414.1 271.6L414.6 270.7L415.1 269.8L415.5 269.0L416.0 268.1L416.5 267.2L416.9 266.3L417.4 265.4L417.8 264.5L418.3 263.6L418.7 262.7L419.2 261.8L419.6 260.9L420.0 260.0L420.5 259.1L420.9 258.2L421.3 257.2L421.8 256.3L422.2 255.4L422.6 254.5L423.0 253.6L423.4 252.7L423.9 251.7L424.3 250.8L424.7 249.9L425.1 249.0L425.5 248.0L425.9 247.1L426.3 246.2L426.7 245.3L427.1 244.4L427.5 243.4L427.9 242.5L428.3 241.6L428.7 240.7L429.1 239.7L429.5 238.8L429.9 237.9L430.3 237.0L430.7 236.1L431.1 235.1L431.5 234.2L431.9 233.3L432.3 232.4L432.7 231.5L433.1 230.6L433.5 229.7L433.9 228.8L434.3 227.9L434.6 227.0L435.1 226.1L435.5 225.2L435.9 224.3L436.3 223.4L436.7 222.5L437.1 221.6L437.5 220.7L437.9 219.8L438.3 218.9L438.7 218.1L439.1 217.2L439.5 216.3L440.0 215.4L440.4 214.6L440.8 213.7L441.2 212.8L441.6 212.0L442.1 211.1L442.5 210.2L442.9 209.4L443.4 208.5L443.8 207.7L444.2 206.8L444.6 205.9L445.1 205.1L445.5 204.2L446.0 203.4L446.4 202.5L446.8 201.7L447.3 200.8L447.7 200.0L448.1 199.1L448.6 198.3L449.0 197.4L449.5 196.6L449.9 195.7L450.4 194.9L450.8 194.0L451.2 193.2L451.7 192.3L452.1 191.5L452.6 190.6L453.0 189.8L453.5 188.9L453.9 188.1L454.4 187.2L454.8 186.4L455.3 185.5L455.7 184.7L456.2 183.8L456.6 183.0L457.1 182.1L457.5 181.3L458.0 180.4L458.4 179.6L458.9 178.7L459.3 177.9L459.8 177.0L460.3 176.1L460.7 175.3L461.2 174.4L461.6 173.5L462.1 172.7L462.5 171.8L463.0 170.9L463.4 170.1L463.9 169.2L464.3 168.3L464.8 167.4L465.2 166.6L465.7 165.7L466.1 164.8L466.6 163.9L467.0 163.0L467.5 162.1L467.9 161.2L468.4 160.4L468.8 159.5L469.3 158.6L469.7 157.7L470.1 156.7L470.6 155.8L471.0 154.9L471.5 154.0L471.9 153.1L472.4 152.2L472.8 151.3L473.2 150.3L473.7 149.4L474.1 148.5L474.5 147.5L475.0 146.6L475.4 145.7L475.8 144.8L476.3 143.8L476.7 142.9L477.2 142.0L477.6 141.0L478.0 140.1L478.5 139.2L478.9 138.3L479.4 137.4L479.8 136.4L480.3 135.5L480.7 134.6L481.2 133.7L481.7 132.8L482.1 131.9L482.6 131.1L483.1 130.2L483.6 129.3L484.1 128.5L484.6 127.6L485.1 126.8L485.6 125.9L486.1 125.1L486.7 124.3L487.3 123.5L487.8 122.8L488.4 122.0L489.0 121.3L489.7 120.6L490.3 119.8L490.9 119.1L491.5 118.5L492.2 117.8L492.8 117.1L493.5 116.5L494.1 115.9L494.8 115.3L495.5 114.7L496.2 114.1L496.9 113.6L497.6 113.0L498.3 112.5L499.0 112.0L499.8 111.5L500.5 111.1L501.3 110.6L502.1 110.2L502.8 109.8L503.6 109.4L504.4 109.1L505.2 108.7L506.0 108.4L506.9 108.1L507.7 107.8L508.5 107.6L509.4 107.3L510.3 107.1L511.1 106.9L512.0 106.7L512.9 106.5L513.8 106.4L514.7 106.3L515.5 106.2L516.4 106.1L517.3 106.0L518.2 106.0L519.0 105.9L519.9 105.9L520.7 105.9L521.5 106.0L522.4 106.0L523.2 106.1L523.9 106.1L524.7 106.0L525.5 106.0L526.2 105.9L527.0 105.9L527.7 105.9L528.5 105.9L529.2 105.9L530.0 106.0L530.7 106.1L531.4 106.1L532.2 106.2L532.9 106.4L533.6 106.5L534.3 106.6L535.1 106.8L535.8 107.0L536.5 107.2L537.2 107.4L537.9 107.7L538.6 107.9L539.3 108.2L540.0 108.5L540.8 108.8L541.5 109.1L542.2 109.4L542.9 109.8L543.6 110.2L544.3 110.5L545.0 110.9L545.7 111.4L546.4 111.8L547.0 112.2L547.7 112.7L548.4 113.2L549.1 113.7L549.8 114.2L550.5 114.7L551.2 115.3L551.8 115.8L552.5 116.4L553.2 117.0L553.9 117.5L554.5 118.2L555.2 118.8L555.8 119.4L556.5 120.0L557.2 120.7L557.8 121.4L558.5 122.0L559.1 122.7L559.8 123.4L560.4 124.1L561.1 124.9L561.7 125.6L562.3 126.3L563.0 127.1L563.6 127.8L564.2 128.6L564.9 129.4L565.5 130.2L566.1 131.0L566.7 131.8L567.2 132.6L567.8 133.5L568.4 134.3L569.0 135.2L569.5 136.0L570.1 136.9L570.7 137.7L571.2 138.6L571.8 139.5L572.4 140.4L572.9 141.2L573.5 142.1L574.0 143.0L574.6 143.9L575.1 144.8L575.7 145.7L576.2 146.6L576.8 147.5L577.3 148.4L577.9 149.3L578.4 150.2L579.0 151.1L579.5 152.1L580.1 153.0L580.6 153.9L581.1 154.8L581.7 155.7L582.2 156.6L582.8 157.5L583.3 158.4L583.8 159.3L584.4 160.2L584.9 161.1L585.5 162.1L586.0 163.0L586.5 163.8L587.1 164.7L587.6 165.6L588.1 166.5L588.7 167.4L589.2 168.3L589.8 169.2L590.3 170.1L590.8 170.9L591.4 171.8L591.9 172.7L592.4 173.6L592.9 174.4L593.5 175.3L594.0 176.1L594.5 177.0L595.1 177.9L595.6 178.7L596.1 179.6L596.6 180.4L597.2 181.3L597.7 182.1L598.2 183.0L598.7 183.8L599.3 184.7L599.8 185.5L600.3 186.4L600.8 187.2L601.3 188.0L601.8 188.9L602.3 189.7L602.9 190.5L603.4 191.4L603.9 192.2L604.4 193.0L604.9 193.9L605.4 194.7L605.9 195.5L606.4 196.3L606.9 197.2L607.4 198.0L607.9 198.8L608.4 199.6L608.9 200.5L609.4 201.3L609.9 202.1L610.4 202.9L610.9 203.7L611.4 204.5L611.9 205.3L612.4 206.1L612.9 207.0L613.4 207.8L613.8 208.6L614.3 209.4L614.8 210.2L615.3 211.0L615.8 211.8L616.3 212.6L616.7 213.4L617.2 214.2L617.7 215.0L618.2 215.9L618.6 216.7L619.1 217.5L619.6 218.3L620.0 219.1L620.5 219.9L621.0 220.7L621.4 221.5L621.9 222.4L622.3 223.2L622.8 224.0L623.2 224.8L623.7 225.6L624.1 226.4L624.6 227.3L625.0 228.1L625.4 228.9L625.9 229.7L626.3 230.5L626.7 231.4L627.2 232.2L627.6 233.0L628.0 233.9L628.4 234.7L628.8 235.5L629.3 236.4L629.7 237.2L630.1 238.0L630.5 238.9L630.9 239.7L631.3 240.5L631.7 241.4L632.1 242.2L632.5 243.1L632.9 243.9L633.2 244.8L633.6 245.7L634.0 246.5L634.4 247.4L634.8 248.2L635.1 249.1L635.5 250.0L635.9 250.8L636.2 251.7L636.6 252.6L636.9 253.5L637.3 254.3L637.6 255.2L638.0 256.1L638.3 257.0L638.7 257.9L639.0 258.8L639.3 259.7L639.7 260.6L640.0 261.5L640.3 262.4L640.6 263.3L640.9 264.3L641.2 265.2L641.5 266.1L641.8 267.0L642.0 268.0L642.3 268.9L642.6 269.9L642.9 270.8L643.4 271.7L643.9 272.6L644.3 273.5L644.8 274.4L645.3 275.3L645.8 276.2L646.2 277.1L646.7 278.1L647.2 279.0L647.6 279.9L647.9 280.9L648.1 281.9L648.3 282.9L648.5 284.0L648.7 285.0L649.0 286.0L649.2 287.0L649.4 288.0L649.6 289.1L649.8 290.1L650.0 291.2L650.5 291.1L650.3 290.0L650.2 289.0L650.0 287.9L649.8 286.9L649.5 285.9L649.3 284.8L649.1 283.8L648.9 282.8L648.7 281.8L648.4 280.8L648.2 279.8L648.2 278.7L648.2 277.7L648.1 276.7L648.1 275.6L648.1 274.6L648.0 273.5L648.0 272.5L648.0 271.4L647.9 270.4L647.8 269.4L647.6 268.4L647.3 267.4L647.0 266.5L646.7 265.5L646.4 264.6L646.1 263.6L645.8 262.7L645.5 261.7L645.2 260.8L644.9 259.8L644.6 258.9L644.3 258.0L644.0 257.0L643.7 256.1L643.4 255.2L643.0 254.3L642.7 253.3L642.4 252.4L642.1 251.5L641.7 250.6L641.4 249.7L641.1 248.8L640.7 247.9L640.4 247.0L640.0 246.1L639.7 245.2L639.3 244.3L639.0 243.4L638.6 242.5L638.3 241.6L637.9 240.7L637.5 239.8L637.2 239.0L636.8 238.1L636.4 237.2L636.0 236.3L635.6 235.5L635.2 234.6L634.9 233.7L634.5 232.8L634.1 232.0L633.7 231.1L633.3 230.2L632.9 229.4L632.5 228.5L632.1 227.7L631.7 226.8L631.2 226.0L630.8 225.1L630.4 224.2L630.0 223.4L629.6 222.5L629.1 221.7L628.7 220.9L628.3 220.0L627.8 219.2L627.4 218.3L627.0 217.5L626.5 216.6L626.1 215.8L625.7 214.9L625.2 214.1L624.8 213.3L624.3 212.4L623.9 211.6L623.4 210.7L623.0 209.9L622.5 209.1L622.0 208.2L621.6 207.4L621.1 206.6L620.6 205.7L620.2 204.9L619.7 204.1L619.2 203.2L618.8 202.4L618.3 201.5L617.8 200.7L617.3 199.9L616.9 199.0L616.4 198.2L615.9 197.4L615.4 196.5L614.9 195.7L614.4 194.9L613.9 194.1L613.4 193.2L612.9 192.4L612.4 191.6L611.9 190.7L611.4 189.9L610.9 189.1L610.4 188.2L609.8 187.4L609.3 186.6L608.8 185.7L608.3 184.9L607.8 184.1L607.3 183.2L606.8 182.4L606.2 181.5L605.7 180.7L605.2 179.8L604.7 179.0L604.2 178.1L603.6 177.3L603.1 176.4L602.6 175.6L602.1 174.7L601.5 173.9L601.0 173.0L600.5 172.2L600.0 171.3L599.4 170.4L598.9 169.6L598.4 168.7L597.8 167.9L597.3 167.0L596.8 166.1L596.2 165.2L595.7 164.4L595.2 163.5L594.7 162.6L594.1 161.7L593.6 160.8L593.1 159.9L592.5 159.0L592.0 158.2L591.4 157.3L590.9 156.4L590.4 155.5L589.8 154.5L589.3 153.6L588.8 152.7L588.2 151.8L587.7 150.9L587.1 150.0L586.6 149.1L586.0 148.2L585.5 147.2L584.9 146.3L584.4 145.4L583.8 144.5L583.3 143.6L582.7 142.7L582.2 141.7L581.6 140.8L581.0 139.9L580.5 139.0L579.9 138.1L579.3 137.2L578.8 136.3L578.2 135.4L577.6 134.5L577.0 133.6L576.4 132.7L575.9 131.8L575.3 130.9L574.7 130.0L574.1 129.2L573.5 128.3L572.9 127.4L572.3 126.6L571.6 125.7L571.1 124.8L570.5 124.0L569.9 123.1L569.3 122.3L568.7 121.4L568.1 120.6L567.5 119.7L566.9 118.9L566.3 118.1L565.6 117.2L565.0 116.4L564.4 115.6L563.7 114.8L563.1 114.0L562.4 113.3L561.8 112.5L561.1 111.7L560.4 111.0L559.8 110.2L559.1 109.5L558.4 108.8L557.7 108.1L557.0 107.3L556.3 106.7L555.5 106.0L554.8 105.3L554.1 104.6L553.3 104.0L552.6 103.4L551.8 102.7L551.0 102.1L550.2 101.5L549.4 100.9L548.6 100.4L547.8 99.8L547.0 99.3L546.1 98.7L545.3 98.2L544.4 97.7L543.5 97.2L542.7 96.8L541.8 96.3L540.9 95.9L539.9 95.5L539.0 95.1L538.1 94.7L537.1 94.4L536.1 94.0L535.2 93.7L534.2 93.4L533.2 93.2L532.2 92.9L531.1 92.7L530.1 92.5L529.0 92.3L528.0 92.1L526.9 92.0L525.8 91.9L524.7 91.8L523.6 91.8L522.5 91.8L521.4 92.0L520.3 92.2L519.2 92.4L518.1 92.7L517.0 93.0L515.9 93.2L514.8 93.6L513.8 93.9L512.7 94.3L511.6 94.7L510.5 95.1L509.5 95.5L508.5 95.9L507.4 96.4L506.4 96.9L505.4 97.4L504.4 97.9L503.4 98.5L502.5 99.1L501.5 99.6L500.6 100.2L499.7 100.9L498.8 101.5L497.9 102.2L497.1 102.8L496.2 103.5L495.4 104.2L494.6 104.9L493.9 105.7L493.1 106.4L492.4 107.2L491.7 107.9L491.0 108.7L490.3 109.5L489.6 110.3L489.0 111.1L488.3 111.9L487.7 112.7L487.1 113.6L486.5 114.4L485.9 115.3L485.3 116.1L484.8 117.0L484.2 117.8L483.7 118.7L483.2 119.6L482.6 120.5L482.1 121.4L481.6 122.3L481.1 123.2L480.6 124.1L480.1 125.0L479.5 125.9L479.0 126.8L478.5 127.7L478.0 128.6L477.5 129.5L477.1 130.4L476.6 131.3L476.1 132.3L475.6 133.2L475.2 134.1L474.7 135.1L474.2 136.0L473.8 136.9L473.3 137.9L472.9 138.8L472.5 139.7L472.0 140.7L471.6 141.6L471.1 142.5L470.7 143.5L470.3 144.4L469.8 145.3L469.4 146.3L469.0 147.2L468.5 148.1L468.1 149.0L467.7 149.9L467.2 150.9L466.8 151.8L466.3 152.7L465.9 153.6L465.5 154.5L465.0 155.4L464.6 156.3L464.1 157.1L463.7 158.0L463.3 158.9L462.8 159.8L462.4 160.7L461.9 161.6L461.5 162.4L461.0 163.3L460.6 164.2L460.1 165.1L459.7 165.9L459.2 166.8L458.8 167.7L458.3 168.5L457.9 169.4L457.4 170.3L457.0 171.1L456.5 172.0L456.1 172.9L455.6 173.7L455.2 174.6L454.7 175.4L454.3 176.3L453.8 177.1L453.4 178.0L452.9 178.8L452.5 179.7L452.0 180.6L451.6 181.4L451.1 182.3L450.7 183.1L450.2 184.0L449.8 184.8L449.3 185.7L448.9 186.5L448.4 187.4L448.0 188.2L447.5 189.1L447.1 189.9L446.6 190.8L446.2 191.6L445.8 192.5L445.3 193.3L444.9 194.2L444.4 195.0L444.0 195.9L443.5 196.7L443.1 197.6L442.6 198.4L442.2 199.3L441.8 200.2L441.3 201.0L440.9 201.9L440.4 202.7L440.0 203.6L439.6 204.5L439.1 205.3L438.7 206.2L438.3 207.1L437.8 207.9L437.4 208.8L437.0 209.7L436.6 210.6L436.1 211.4L435.7 212.3L435.3 213.2L434.9 214.1L434.4 215.0L434.0 215.8L433.6 216.7L433.2 217.6L432.8 218.5L432.3 219.4L431.9 220.3L431.5 221.2L431.1 222.1L430.7 223.0L430.3 223.9L429.9 224.8L429.5 225.8L429.1 226.7L428.7 227.6L428.3 228.5L427.9 229.4L427.5 230.3L427.1 231.2L426.7 232.2L426.3 233.1L425.9 234.0L425.5 234.9L425.1 235.8L424.7 236.8L424.3 237.7L423.9 238.6L423.5 239.5L423.1 240.4L422.7 241.4L422.3 242.3L421.9 243.2L421.5 244.1L421.1 245.0L420.7 246.0L420.3 246.9L419.9 247.8L419.5 248.7L419.1 249.6L418.7 250.5L418.3 251.4L417.9 252.3L417.5 253.2L417.0 254.1L416.6 255.0L416.2 255.9L415.8 256.8L415.4 257.7L414.9 258.6L414.5 259.5L414.1 260.4L413.6 261.3L413.2 262.2L412.7 263.0L412.3 263.9L411.8 264.8L411.4 265.7L410.9 266.5L410.5 267.4L410.0 268.2L409.6 269.1L409.1 270.0L408.6 270.8L408.1 271.6L407.6 272.5L407.2 273.3L406.7 274.1L406.2 275.0L405.7 275.8L405.2 276.6L404.7 277.4L404.1 278.2L403.6 279.0L403.1 279.8L402.6 280.6L402.0 281.4L401.5 282.2L401.0 282.9L400.4 283.7L399.9 284.5L399.3 285.2L398.7 286.0L398.1 286.7L397.6 287.5L397.0 288.2L396.4 288.9L395.8 289.6L395.2 290.3L394.6 291.0L394.0 291.7L393.3 292.4Z" fill="url(#g2c)"/><path d="M560.8 137.1L561.5 138.4L562.2 139.8L563.0 141.1L563.7 142.5L564.4 143.8L565.1 145.1L565.9 146.5L566.6 147.8L567.3 149.2L568.0 150.5L568.6 152.0L569.2 153.4L569.8 154.8L570.4 156.2L571.0 157.6L571.5 159.0L572.1 160.4L572.7 161.8L573.3 163.2L573.9 164.7L574.5 166.1L575.1 167.5L575.7 168.9L576.3 170.3L576.9 171.7L577.5 173.1L578.1 174.5L578.7 175.9L579.3 177.4L579.9 178.8L580.5 180.2L581.1 181.6L581.7 183.0L582.3 184.4L582.9 185.8L583.6 187.2L584.3 188.5L585.0 189.9L585.7 191.2L586.5 192.5L587.1 193.9L587.8 195.3L588.5 196.6L589.2 198.0L589.9 199.3L590.6 200.7L591.3 202.0L592.0 203.4L592.7 204.8L593.4 206.1L594.1 207.5L594.7 208.8L595.4 210.2L596.1 211.6L596.8 212.9L597.5 214.3L598.2 215.6L598.9 217.0L599.5 218.4L600.2 219.7L600.9 221.1L601.6 222.4L602.3 223.8L602.9 225.2L603.6 226.5L604.3 227.9L605.0 229.3L605.6 230.6L606.3 232.0L607.0 233.3L607.7 234.7L608.4 236.0L609.1 237.4L609.8 238.7L610.5 240.1L611.2 241.4L611.9 242.8L612.6 244.1L613.3 245.5L614.0 246.8L614.7 248.2L615.4 249.6L616.1 250.9L616.8 252.3L617.5 253.6L618.1 255.0L618.8 256.3L619.5 257.7L620.2 259.0L620.9 260.4L621.6 261.8L622.2 263.1L622.9 264.5L623.6 265.8L624.3 267.2L624.9 268.6L625.6 269.9L626.3 271.3L626.9 272.7L627.6 274.0L628.3 275.4L628.9 276.8L629.6 278.1L630.3 279.5L630.9 280.9L631.6 282.2L632.2 283.6L632.9 285.0L633.5 286.3L634.2 287.7L635.3 288.9L636.6 289.9L638.0 291.0L639.3 292.0L640.6 293.1L641.9 294.2L643.1 295.3L643.7 296.7L644.3 298.1L644.7 297.9L644.1 296.5L643.4 295.1L643.3 293.5L643.3 291.8L643.3 290.1L643.4 288.4L643.4 286.7L643.4 285.0L643.2 283.4L642.6 282.0L641.9 280.7L641.3 279.3L640.6 277.9L639.9 276.5L639.3 275.1L638.6 273.8L637.9 272.4L637.3 271.0L636.6 269.6L635.9 268.3L635.3 266.9L634.6 265.5L633.9 264.1L633.2 262.8L632.5 261.4L631.9 260.0L631.2 258.7L630.5 257.3L629.8 255.9L629.1 254.6L628.4 253.2L627.8 251.8L627.1 250.5L626.4 249.1L625.7 247.7L625.0 246.4L624.3 245.0L623.6 243.6L622.9 242.3L622.2 240.9L621.5 239.6L620.8 238.2L620.1 236.8L619.4 235.5L618.7 234.1L618.0 232.8L617.3 231.4L616.6 230.1L615.9 228.7L615.2 227.4L614.4 226.0L613.7 224.7L613.0 223.3L612.2 222.0L611.5 220.7L610.7 219.3L610.0 218.0L609.2 216.7L608.5 215.3L607.8 214.0L607.0 212.7L606.3 211.3L605.5 210.0L604.8 208.7L604.0 207.3L603.3 206.0L602.5 204.7L601.8 203.3L601.0 202.0L600.3 200.7L599.5 199.4L598.8 198.0L598.0 196.7L597.3 195.4L596.5 194.0L595.8 192.7L595.0 191.4L594.3 190.1L593.5 188.7L592.8 187.4L592.1 186.1L591.3 184.7L590.6 183.4L589.9 182.0L589.0 180.8L588.2 179.5L587.3 178.2L586.5 176.9L585.6 175.7L584.7 174.4L583.9 173.1L583.0 171.9L582.2 170.6L581.3 169.3L580.5 168.1L579.6 166.8L578.7 165.5L577.9 164.3L577.0 163.0L576.2 161.7L575.3 160.4L574.5 159.2L573.6 157.9L572.7 156.6L571.9 155.4L571.0 154.1L570.2 152.8L569.3 151.6L568.5 150.3L567.7 149.0L566.9 147.6L566.2 146.3L565.5 145.0L564.8 143.6L564.0 142.3L563.3 140.9L562.6 139.6L561.9 138.2L561.1 136.9Z" fill="url(#g3c)"/></g></g></svg>
<svg width="666" height="401" viewBox="0 0 666 401">
<defs>
<radialGradient id="dot"><stop offset="0" stop-color="#f6ecd2" stop-opacity="0.95"/><stop offset="1" stop-color="#f6ecd2" stop-opacity="0"/></radialGradient>
</defs>
<circle cx="78.6" cy="315.5" r="3" fill="url(#dot)"/>
<path d="M60.9 15.5V330.2 M60.5 329.9H306" stroke="#eee3c6" stroke-width="1" fill="none" opacity="0.8"/>
<!-- AXES A -->
<g stroke="#000" stroke-width="2" fill="none" stroke-linecap="butt">
<path d="M52.2 14.4H308 M59.4 13.4V338.3 M307 13.4V344.4 M59.4 331.3H307"/>
<path d="M46.3 84.7H59 M52 155.3H59 M46.3 225.9H59 M52 296.4H59"/>
<path d="M95 331V344.4 M130.3 331V338.8 M165.6 331V344.4 M200.9 331V338.8 M236.2 331V344.4 M271.5 331V338.8"/>
</g>
<g transform="translate(347.6 0)">
<g stroke="#000" stroke-width="2" fill="none" stroke-linecap="butt">
<path d="M52.2 14.4H308 M59.4 13.4V338.3 M307 13.4V344.4 M59.4 331.3H307"/>
<path d="M46.3 84.7H59 M52 155.3H59 M46.3 225.9H59 M52 296.4H59"/>
<path d="M95 331V344.4 M130.3 331V338.8 M165.6 331V344.4 M200.9 331V338.8 M236.2 331V344.4 M271.5 331V338.8"/>
</g>
</g>
<!-- TEXT A -->
<g font-size="15.5">
<text x="39" y="90.3" text-anchor="end">1</text>
<text x="39" y="231.5" text-anchor="end">2</text>
<text x="95.3" y="366.7" text-anchor="middle">1.2</text>
<text x="165.9" y="366.7" text-anchor="middle">1.4</text>
<text x="236.5" y="366.7" text-anchor="middle">1.6</text>
<text x="307.1" y="366.7" text-anchor="middle">1.8</text>
<text transform="translate(14.6 247.5) rotate(-90)">Binding Energy (eV)</text>
<text x="169.3" y="396.7">k<tspan font-size="11" dy="3">//</tspan><tspan dy="-3">(A</tspan><tspan font-size="10.5" dy="-11">-1</tspan><tspan dx="0.8" dy="11">)</tspan></text>
</g>
<text x="10" y="19.2" font-size="25">(a)</text>
<g font-size="15.5" transform="translate(347.4 0)">
<text x="39" y="90.3" text-anchor="end">1</text>
<text x="39" y="231.5" text-anchor="end">2</text>
<text x="95.3" y="366.7" text-anchor="middle">1.2</text>
<text x="165.9" y="366.7" text-anchor="middle">1.4</text>
<text x="236.5" y="366.7" text-anchor="middle">1.6</text>
<text x="307.1" y="366.7" text-anchor="middle">1.8</text>
<text transform="translate(14.6 247.5) rotate(-90)">Binding Energy (eV)</text>
<text x="169.3" y="396.7">k<tspan font-size="11" dy="3">//</tspan><tspan dy="-3">(A</tspan><tspan font-size="10.5" dy="-11">-1</tspan><tspan dx="0.8" dy="11">)</tspan></text>
</g>
<text x="357" y="22.6" font-size="25">(b)</text>

<g id="dk">
<text transform="translate(542.3 223.9) scale(1.5 1)" font-size="15.4" style="font-weight:normal">&#916;</text>
<text transform="translate(556.6 223.9) scale(0.84 1)" font-size="20.3" style="font-weight:normal">k</text>
<text transform="translate(565.4 230.6) skewX(-6)" font-size="15.5" letter-spacing="1.2" style="font-weight:normal">//</text>
<path d="M580.4 218.9H596" stroke="#000" stroke-width="1.5" fill="none"/>
<path d="M595.2 213.5L606.6 219L595.2 224.5Z" fill="#000"/>
<path d="M634.5 219.8H650.9" stroke="#000" stroke-width="1.5" fill="none"/>
<path d="M634.6 214L623.1 219.5L634.6 225.3Z" fill="#000"/>
</g>
</svg>
</div></body></html>
